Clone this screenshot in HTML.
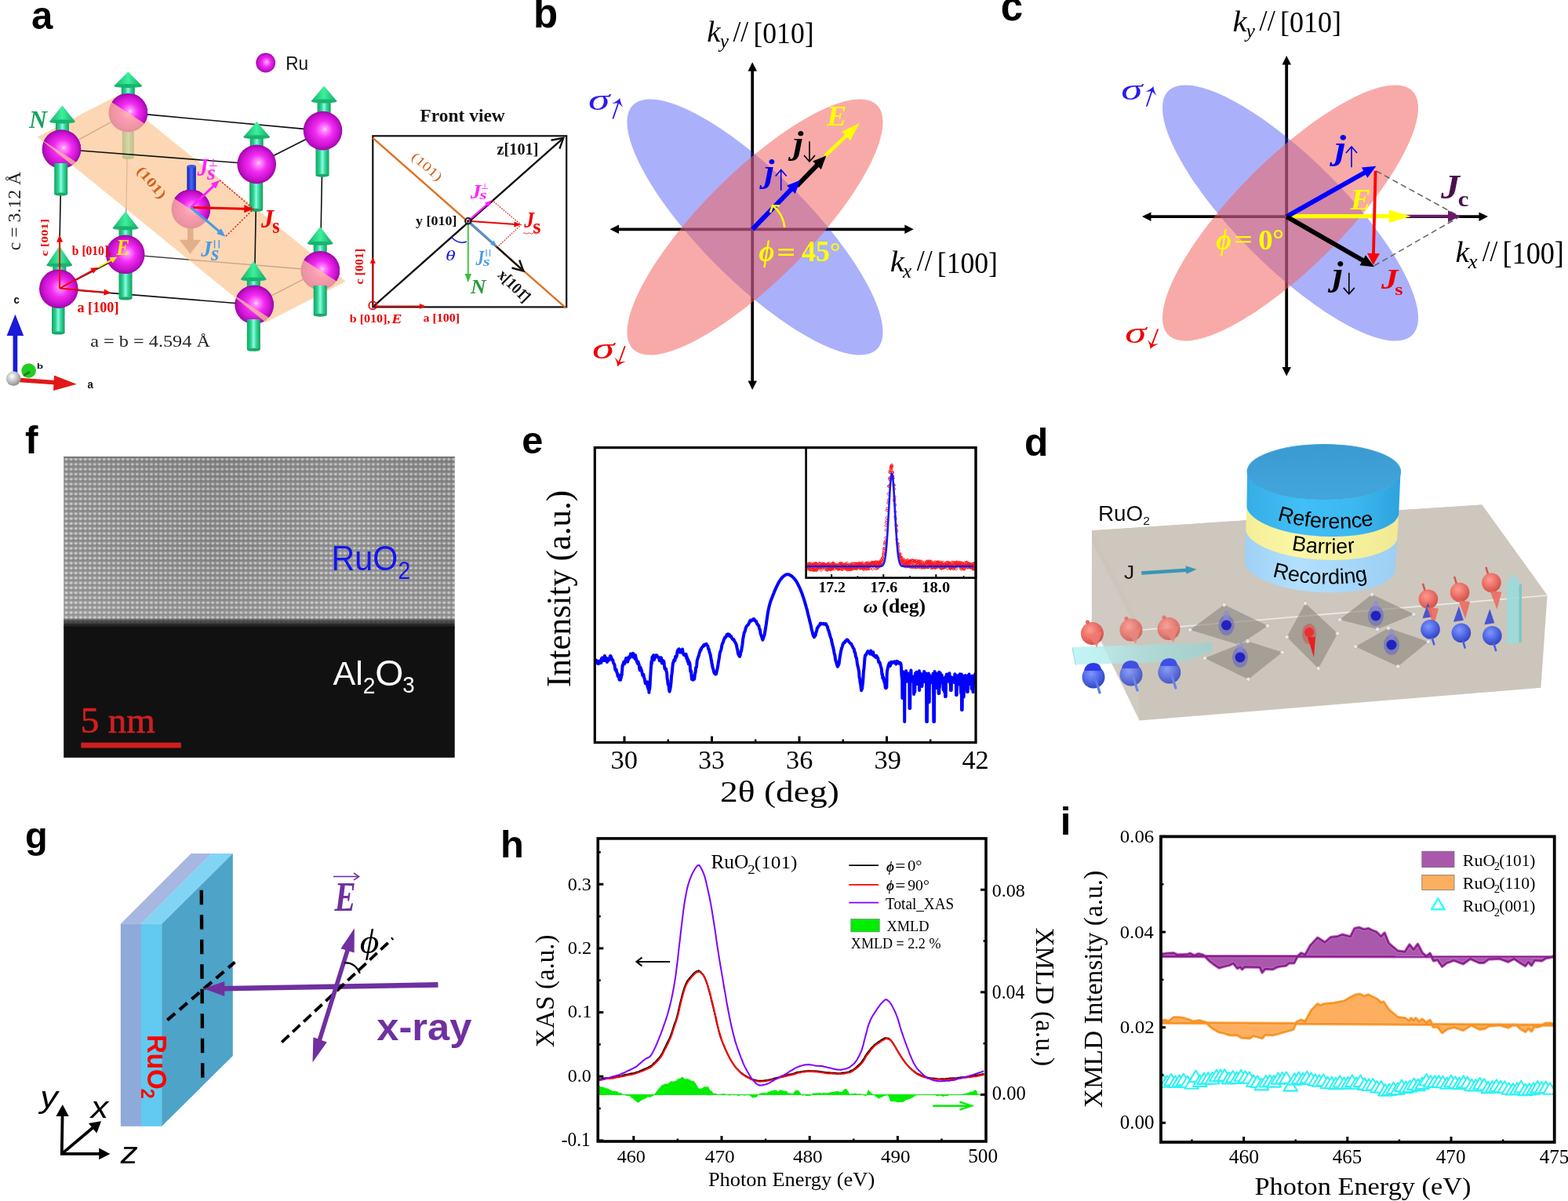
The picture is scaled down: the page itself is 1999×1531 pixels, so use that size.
<!DOCTYPE html>
<html><head><meta charset="utf-8"><title>RuO2 figure</title>
<style>html,body{margin:0;padding:0;background:#fff;overflow:hidden;} svg{display:block;}</style></head>
<body><svg xmlns="http://www.w3.org/2000/svg" width="1999" height="1531" viewBox="0 0 1999 1531">
<defs><clipPath id="eclip"><rect x="758.3" y="570.6" width="485.70000000000005" height="375.9"/></clipPath><clipPath id="iclip"><rect x="1480" y="1066.4" width="501.70000000000005" height="389.5999999999999"/></clipPath><radialGradient id="dotg"><stop offset="0" stop-color="#dedede" stop-opacity="1"/><stop offset="0.55" stop-color="#c4c4c4" stop-opacity="0.8"/><stop offset="1" stop-color="#a0a0a0" stop-opacity="0"/></radialGradient><pattern id="lat" x="81.6" y="582.6" width="6.02" height="6.3" patternUnits="userSpaceOnUse"><rect width="6.02" height="6.3" fill="#8a8a8a"/><rect x="0" y="4.6" width="6.02" height="1.2" fill="#7a7a7a"/><ellipse cx="3" cy="3" rx="3.0" ry="2.6" fill="url(#dotg)"/></pattern><linearGradient id="fshade" x1="0" y1="0" x2="0" y2="1"><stop offset="0" stop-color="#000" stop-opacity="0.05"/><stop offset="0.55" stop-color="#fff" stop-opacity="0.0"/><stop offset="1" stop-color="#fff" stop-opacity="0.10"/></linearGradient><linearGradient id="fedge" x1="0" y1="0" x2="0" y2="1"><stop offset="0" stop-color="#111" stop-opacity="0"/><stop offset="0.35" stop-color="#111" stop-opacity="0.6"/><stop offset="0.6" stop-color="#111" stop-opacity="0.88"/><stop offset="1" stop-color="#111" stop-opacity="1"/></linearGradient><linearGradient id="fhz" x1="0" y1="0" x2="1" y2="0"><stop offset="0" stop-color="#fff" stop-opacity="0.04"/><stop offset="0.4" stop-color="#000" stop-opacity="0.04"/><stop offset="0.75" stop-color="#fff" stop-opacity="0.05"/><stop offset="1" stop-color="#000" stop-opacity="0.03"/></linearGradient><radialGradient id="redball" cx="0.4" cy="0.35" r="0.7"><stop offset="0" stop-color="#ff9a90"/><stop offset="0.6" stop-color="#e86a62"/><stop offset="1" stop-color="#c85048"/></radialGradient><radialGradient id="blueball" cx="0.4" cy="0.35" r="0.7"><stop offset="0" stop-color="#7f96ff"/><stop offset="0.6" stop-color="#4b62e0"/><stop offset="1" stop-color="#3040b8"/></radialGradient><linearGradient id="refside" x1="0" y1="0" x2="1" y2="0"><stop offset="0" stop-color="#36ade6"/><stop offset="0.35" stop-color="#40c0f6"/><stop offset="0.7" stop-color="#3cb8f0"/><stop offset="1" stop-color="#2ea2dc"/></linearGradient><linearGradient id="barside" x1="0" y1="0" x2="1" y2="0"><stop offset="0" stop-color="#f4ee98"/><stop offset="0.35" stop-color="#fcf7a4"/><stop offset="1" stop-color="#f0ea96"/></linearGradient><linearGradient id="recside" x1="0" y1="0" x2="1" y2="0"><stop offset="0" stop-color="#9fd0f6"/><stop offset="0.35" stop-color="#b2e0fd"/><stop offset="1" stop-color="#9ccff4"/></linearGradient><linearGradient id="toptop" x1="0" y1="0" x2="0" y2="1"><stop offset="0" stop-color="#3a9ad2"/><stop offset="1" stop-color="#42a6dc"/></linearGradient><linearGradient id="cyanbar" x1="0" y1="0" x2="1" y2="0"><stop offset="0" stop-color="#c0f4f6" stop-opacity="0.95"/><stop offset="0.45" stop-color="#a8e4e4" stop-opacity="0.7"/><stop offset="1" stop-color="#90d4d2" stop-opacity="0.65"/></linearGradient><path id="refpath" d="M1620,660 A100,34 3 0 0 1760,667"/><path id="barpath" d="M1638,699 A100,34 3 0 0 1736,703"/><path id="recpath" d="M1616,733 A100,34 3 0 0 1750,738"/><radialGradient id="ruS" cx="0.5" cy="0.5" r="0.5" fx="0.56" fy="0.46"><stop offset="0" stop-color="#ffe4ff"/><stop offset="0.12" stop-color="#ff8cff"/><stop offset="0.45" stop-color="#f22cf2"/><stop offset="0.8" stop-color="#cc12d0"/><stop offset="1" stop-color="#9c08a8"/></radialGradient><radialGradient id="ruSp" cx="0.5" cy="0.5" r="0.5" fx="0.56" fy="0.46"><stop offset="0" stop-color="#ffe0e0"/><stop offset="0.3" stop-color="#f6b4b4"/><stop offset="1" stop-color="#e49494"/></radialGradient><linearGradient id="gstem" x1="0" y1="0" x2="1" y2="0"><stop offset="0" stop-color="#12a464"/><stop offset="0.3" stop-color="#2fd48e"/><stop offset="0.5" stop-color="#8cfbe8"/><stop offset="0.7" stop-color="#36d896"/><stop offset="1" stop-color="#129c60"/></linearGradient><linearGradient id="gcone" x1="0" y1="0" x2="1" y2="0"><stop offset="0" stop-color="#16b06a"/><stop offset="0.5" stop-color="#3cf09c"/><stop offset="1" stop-color="#16a866"/></linearGradient><linearGradient id="bstem" x1="0" y1="0" x2="1" y2="0"><stop offset="0" stop-color="#1020a8"/><stop offset="0.5" stop-color="#4a66ff"/><stop offset="1" stop-color="#1020a0"/></linearGradient><clipPath id="cfTFL"><polygon points="26.2,160.4 126.8,225.7 170.4,158.6 69.7,93.3"/></clipPath><clipPath id="cfTBL"><polygon points="113.0,111.0 213.6,176.4 257.2,109.3 156.6,43.9"/></clipPath><clipPath id="cfC"><polygon points="193.0,233.8 293.6,299.2 337.2,232.1 236.6,166.7"/></clipPath><clipPath id="cfBFR"><polygon points="271.9,358.7 372.5,424.0 416.1,356.9 315.4,291.6"/></clipPath><clipPath id="cfBBR"><polygon points="357.9,312.1 458.5,377.5 502.1,310.4 401.5,245.0"/></clipPath><radialGradient id="greyb" cx="0.4" cy="0.35" r="0.6"><stop offset="0" stop-color="#fff"/><stop offset="1" stop-color="#999"/></radialGradient></defs>
<rect width="1999" height="1531" fill="#fff"/>
<text x="40.03" y="36.51" font-family="'Liberation Sans'" font-size="49.09" font-weight="bold" font-style="normal" fill="#000" >a</text>
<text x="680.03" y="35.09" font-family="'Liberation Sans'" font-size="51.00" font-weight="bold" font-style="normal" fill="#000" >b</text>
<text x="1275.76" y="25.89" font-family="'Liberation Sans'" font-size="51.00" font-weight="bold" font-style="normal" fill="#000" >c</text>
<text x="32.11" y="577.90" font-family="'Liberation Sans'" font-size="49.45" font-weight="bold" font-style="normal" fill="#000" >f</text>
<text x="665.35" y="578.41" font-family="'Liberation Sans'" font-size="48.73" font-weight="bold" font-style="normal" fill="#000" >e</text>
<text x="1305.91" y="581.20" font-family="'Liberation Sans'" font-size="49.73" font-weight="bold" font-style="normal" fill="#000" >d</text>
<text x="32.12" y="1080.74" font-family="'Liberation Sans'" font-size="46.97" font-weight="bold" font-style="normal" fill="#000" >g</text>
<text x="637.88" y="1092.90" font-family="'Liberation Sans'" font-size="48.90" font-weight="bold" font-style="normal" fill="#000" >h</text>
<text x="1351.66" y="1064.00" font-family="'Liberation Sans'" font-size="49.18" font-weight="bold" font-style="normal" fill="#000" >i</text>
<line x1="959.2" y1="89.2" x2="959.2" y2="487" stroke="#000" stroke-width="3.8"/><line x1="787.5" y1="292.3" x2="1154.8" y2="292.3" stroke="#000" stroke-width="3.8"/><polygon points="959.2,79.2 965.0,90.7 953.5,90.7" fill="#000"/><polygon points="959.2,497.0 953.5,485.5 965.0,485.5" fill="#000"/><polygon points="777.5,292.3 789.0,286.6 789.0,298.1" fill="#000"/><polygon points="1164.8,292.3 1153.3,298.1 1153.3,286.6" fill="#000"/>
<ellipse cx="962.5" cy="289.5" rx="220" ry="69" transform="rotate(45 962.5 289.5)" fill="rgb(37,52,242)" fill-opacity="0.39"/><ellipse cx="962.5" cy="289.5" rx="220" ry="69" transform="rotate(-45 962.5 289.5)" fill="rgb(242,98,94)" fill-opacity="0.54"/>
<text transform="translate(901.23,53.20) scale(1.0531,1)" font-family="'Liberation Serif'" font-size="37.10" font-weight="normal" font-style="italic" fill="#000" >k</text><text x="917.65" y="61.49" font-family="'Liberation Serif'" font-size="25.29" font-weight="normal" font-style="italic" fill="#000" >y</text><text transform="translate(934.40,52.82) scale(0.9183,1)" font-family="'Liberation Serif'" font-size="38.81" font-weight="normal" font-style="normal" fill="#000" >//</text><text transform="translate(960.40,54.78) scale(0.9605,1)" font-family="'Liberation Serif'" font-size="37.11" font-weight="normal" font-style="normal" fill="#000" >[010]</text>
<text transform="translate(1134.77,345.70) scale(1.0989,1)" font-family="'Liberation Serif'" font-size="37.25" font-weight="normal" font-style="italic" fill="#000" >k</text><text x="1151.05" y="354.00" font-family="'Liberation Serif'" font-size="25.00" font-weight="normal" font-style="italic" fill="#000" >x</text><text transform="translate(1168.80,344.93) scale(0.9338,1)" font-family="'Liberation Serif'" font-size="38.36" font-weight="normal" font-style="normal" fill="#000" >//</text><text transform="translate(1194.80,347.53) scale(0.9333,1)" font-family="'Liberation Serif'" font-size="38.19" font-weight="normal" font-style="normal" fill="#000" >[100]</text>
<text transform="translate(749.93,140.43) scale(1.4859,1)" font-family="'Liberation Serif'" font-size="37.36" font-weight="normal" font-style="italic" fill="#2a1aee" >&#963;</text>
<line x1="781.6" y1="150.8" x2="788.3" y2="131.2" stroke="#2a1aee" stroke-width="1.8" stroke-linecap="round"/><path d="M790.4,125.0 Q790.5,130.3 794.3,136.9 L788.3,131.2 L780.1,132.0 Q787.1,129.2 790.4,125.0Z" fill="#2a1aee"/>
<text transform="translate(754.89,457.21) scale(1.4702,1)" font-family="'Liberation Serif'" font-size="38.87" font-weight="normal" font-style="italic" fill="#ee0000" >&#963;</text>
<line x1="796.6" y1="441.8" x2="789.4" y2="461.5" stroke="#ee0000" stroke-width="1.8" stroke-linecap="round"/><path d="M787.2,467.6 Q787.2,462.3 783.6,455.6 L789.4,461.5 L797.7,460.8 Q790.6,463.5 787.2,467.6Z" fill="#ee0000"/>
<line x1="1052.0" y1="198.5" x2="1081.9" y2="170.2" stroke="#ffff00" stroke-width="4.5" /><polygon points="1095.9,157.0 1084.0,179.3 1073.0,167.7" fill="#ffff00"/>
<line x1="1016.0" y1="237.0" x2="1043.8" y2="208.4" stroke="#000" stroke-width="6" /><polygon points="1053.3,198.6 1046.8,216.0 1036.1,205.6" fill="#000"/>
<line x1="959.2" y1="292.3" x2="1010.8" y2="239.2" stroke="#0000ff" stroke-width="6" /><polygon points="1020.3,229.5 1013.8,246.9 1003.1,236.5" fill="#0000ff"/>
<text transform="translate(1053.98,160.20) scale(1.0493,1)" font-family="'Liberation Serif'" font-size="36.15" font-weight="bold" font-style="italic" fill="#ffff00" >E</text>
<text transform="translate(1010.91,195.61) scale(1.1292,1)" font-family="'Liberation Serif'" font-size="42.33" font-weight="bold" font-style="italic" fill="#000" >j</text>
<line x1="1032.0" y1="180.2" x2="1032.0" y2="206.0" stroke="#000" stroke-width="1.6"/><polyline points="1025.0,198.0 1032.0,206.0 1039.0,198.0" fill="none" stroke="#000" stroke-width="1.6" stroke-linejoin="miter"/>
<text transform="translate(974.29,232.43) scale(1.1091,1)" font-family="'Liberation Serif'" font-size="42.22" font-weight="bold" font-style="italic" fill="#0000ee" >j</text>
<line x1="995.7" y1="242.8" x2="995.7" y2="216.5" stroke="#0000ee" stroke-width="1.6"/><polyline points="1002.7,224.5 995.7,216.5 988.7,224.5" fill="none" stroke="#0000ee" stroke-width="1.6" stroke-linejoin="miter"/>
<text transform="translate(967.46,333.49) scale(0.9145,1)" font-family="'Liberation Serif'" font-size="37.67" font-weight="bold" font-style="italic" fill="#ffff00" >&#981;</text>
<text transform="translate(990.29,333.17) scale(1.2638,1)" font-family="'Liberation Serif'" font-size="33.33" font-weight="bold" font-style="normal" fill="#ffff00" >=</text>
<text transform="translate(1022.04,333.23) scale(0.9659,1)" font-family="'Liberation Serif'" font-size="37.27" font-weight="bold" font-style="normal" fill="#ffff00" >45</text>
<text x="1057.90" y="331.69" font-family="'Liberation Serif'" font-size="33.87" font-weight="bold" font-style="normal" fill="#ffff00" >&#176;</text>
<path d="M 1000.5 290 Q 998 272 985 262" fill="none" stroke="#ffff00" stroke-width="2.6"/>
<polyline points="982,271 985,262 994,262.5" fill="none" stroke="#ffff00" stroke-width="2.6"/>
<line x1="1640.2" y1="81" x2="1640.2" y2="469.6" stroke="#000" stroke-width="3.8"/><line x1="1466" y1="276.1" x2="1887" y2="276.1" stroke="#000" stroke-width="3.8"/><polygon points="1640.2,71.0 1646.0,82.5 1634.5,82.5" fill="#000"/><polygon points="1640.2,479.6 1634.5,468.1 1646.0,468.1" fill="#000"/><polygon points="1456.0,276.1 1467.5,270.4 1467.5,281.9" fill="#000"/><polygon points="1897.0,276.1 1885.5,281.9 1885.5,270.4" fill="#000"/>
<ellipse cx="1645" cy="271.5" rx="220" ry="69" transform="rotate(45 1645 271.5)" fill="rgb(37,52,242)" fill-opacity="0.39"/><ellipse cx="1645" cy="271.5" rx="220" ry="69" transform="rotate(-45 1645 271.5)" fill="rgb(242,98,94)" fill-opacity="0.54"/>
<text transform="translate(1571.57,39.60) scale(1.1032,1)" font-family="'Liberation Serif'" font-size="37.10" font-weight="normal" font-style="italic" fill="#000" >k</text><text transform="translate(1588.45,48.01) scale(1.0386,1)" font-family="'Liberation Serif'" font-size="24.71" font-weight="normal" font-style="italic" fill="#000" >y</text><text transform="translate(1605.60,38.84) scale(0.9517,1)" font-family="'Liberation Serif'" font-size="38.21" font-weight="normal" font-style="normal" fill="#000" >//</text><text transform="translate(1631.98,41.39) scale(0.9348,1)" font-family="'Liberation Serif'" font-size="38.55" font-weight="normal" font-style="normal" fill="#000" >[010]</text>
<text transform="translate(1855.51,333.80) scale(1.0594,1)" font-family="'Liberation Serif'" font-size="37.54" font-weight="normal" font-style="italic" fill="#000" >k</text><text transform="translate(1871.67,342.10) scale(1.0667,1)" font-family="'Liberation Serif'" font-size="25.00" font-weight="normal" font-style="italic" fill="#000" >x</text><text transform="translate(1889.70,333.03) scale(0.9172,1)" font-family="'Liberation Serif'" font-size="38.66" font-weight="normal" font-style="normal" fill="#000" >//</text><text transform="translate(1915.46,335.79) scale(0.9226,1)" font-family="'Liberation Serif'" font-size="39.28" font-weight="normal" font-style="normal" fill="#000" >[100]</text>
<text transform="translate(1429.35,126.62) scale(1.4602,1)" font-family="'Liberation Serif'" font-size="37.74" font-weight="normal" font-style="italic" fill="#2a1aee" >&#963;</text>
<line x1="1462.0" y1="135.0" x2="1468.4" y2="116.2" stroke="#2a1aee" stroke-width="1.8" stroke-linecap="round"/><path d="M1470.5,110.0 Q1470.6,115.3 1474.4,121.9 L1468.4,116.2 L1460.2,117.1 Q1467.2,114.2 1470.5,110.0Z" fill="#2a1aee"/>
<text transform="translate(1434.35,437.11) scale(1.4246,1)" font-family="'Liberation Serif'" font-size="38.68" font-weight="normal" font-style="italic" fill="#ee0000" >&#963;</text>
<line x1="1476.0" y1="420.0" x2="1468.8" y2="438.9" stroke="#ee0000" stroke-width="1.8" stroke-linecap="round"/><path d="M1466.5,445.0 Q1466.6,439.7 1463.0,433.0 L1468.8,438.9 L1477.1,438.3 Q1470.0,441.0 1466.5,445.0Z" fill="#ee0000"/>
<line x1="1754.4" y1="217.9" x2="1860.3" y2="275.7" stroke="#666" stroke-width="1.6" stroke-dasharray="7.5,4.5"/>
<line x1="1752" y1="338.8" x2="1860.3" y2="276.5" stroke="#666" stroke-width="1.6" stroke-dasharray="7.5,4.5"/>
<line x1="1790.0" y1="275.7" x2="1849.0" y2="275.7" stroke="#6a1a6a" stroke-width="3.8" /><polygon points="1861.0,275.7 1846.0,283.2 1846.0,268.2" fill="#6a1a6a"/>
<line x1="1640.2" y1="275.7" x2="1776.3" y2="275.7" stroke="#ffff00" stroke-width="5.3" /><polygon points="1798.7,275.7 1770.7,283.9 1770.7,267.4" fill="#ffff00"/>
<line x1="1640.2" y1="276.1" x2="1742.5" y2="218.5" stroke="#0000ff" stroke-width="6" /><polygon points="1754.4,211.8 1743.3,226.7 1735.9,213.6" fill="#0000ff"/>
<line x1="1640.2" y1="276.1" x2="1740.2" y2="333.5" stroke="#000" stroke-width="6" /><polygon points="1752.0,340.3 1733.5,338.3 1741.0,325.3" fill="#000"/>
<line x1="1753.6" y1="217.9" x2="1750.9" y2="326.0" stroke="#ff0000" stroke-width="3.8" /><polygon points="1750.6,338.0 1743.0,322.8 1759.0,323.2" fill="#ff0000"/>
<text transform="translate(1701.66,203.48) scale(1.1790,1)" font-family="'Liberation Serif'" font-size="43.44" font-weight="bold" font-style="italic" fill="#0000ee" >j</text>
<line x1="1723.0" y1="213.3" x2="1723.0" y2="187.0" stroke="#0000ee" stroke-width="1.6"/><polyline points="1730.0,195.0 1723.0,187.0 1716.0,195.0" fill="none" stroke="#0000ee" stroke-width="1.6" stroke-linejoin="miter"/>
<text transform="translate(1698.98,364.28) scale(1.0948,1)" font-family="'Liberation Serif'" font-size="43.44" font-weight="bold" font-style="italic" fill="#000" >j</text>
<line x1="1719.8" y1="347.8" x2="1719.8" y2="374.9" stroke="#000" stroke-width="1.6"/><polyline points="1712.8,366.9 1719.8,374.9 1726.8,366.9" fill="none" stroke="#000" stroke-width="1.6" stroke-linejoin="miter"/>
<text transform="translate(1721.69,267.40) scale(1.0618,1)" font-family="'Liberation Serif'" font-size="36.92" font-weight="bold" font-style="italic" fill="#ffff00" >E</text>
<text transform="translate(1837.00,252.77) scale(1.1147,1)" font-family="'Liberation Serif'" font-size="43.33" font-weight="bold" font-style="italic" fill="#4a1050" >J</text>
<text transform="translate(1858.68,263.42) scale(1.0940,1)" font-family="'Liberation Serif'" font-size="28.12" font-weight="bold" font-style="normal" fill="#4a1050" >c</text>
<text transform="translate(1761.00,367.64) scale(1.1778,1)" font-family="'Liberation Serif'" font-size="36.36" font-weight="bold" font-style="italic" fill="#ee0000" >J</text>
<text transform="translate(1778.21,376.20) scale(1.2965,1)" font-family="'Liberation Serif'" font-size="20.42" font-weight="bold" font-style="normal" fill="#ee0000" >s</text>
<text transform="translate(1550.16,317.93) scale(0.9209,1)" font-family="'Liberation Serif'" font-size="37.00" font-weight="bold" font-style="italic" fill="#ffff00" >&#981;</text>
<text transform="translate(1573.09,316.30) scale(1.3382,1)" font-family="'Liberation Serif'" font-size="31.48" font-weight="bold" font-style="normal" fill="#ffff00" >=</text>
<text x="1604.33" y="317.76" font-family="'Liberation Serif'" font-size="36.76" font-weight="bold" font-style="normal" fill="#ffff00" >0</text>
<text transform="translate(1622.37,317.34) scale(1.0525,1)" font-family="'Liberation Serif'" font-size="34.84" font-weight="bold" font-style="normal" fill="#ffff00" >&#176;</text>
<polyline clip-path="url(#eclip)" points="759.0,842.5 759.3,841.5 759.8,845.3 760.3,841.8 760.9,845.3 761.5,844.6 762.1,842.9 762.8,846.2 763.4,843.0 764.0,845.5 764.6,842.6 765.2,842.0 765.8,843.3 766.4,845.0 767.0,839.1 767.6,838.7 768.2,840.5 768.8,841.9 769.4,839.0 769.9,837.7 770.5,841.9 770.9,836.0 771.4,842.1 771.9,838.8 772.4,838.4 772.9,838.8 773.4,840.5 774.0,844.1 774.6,839.7 775.2,842.1 775.8,841.9 776.5,839.5 777.1,840.1 777.8,836.4 778.4,836.1 779.1,837.2 779.8,841.0 780.5,840.4 781.2,841.2 782.0,844.9 782.7,846.2 783.5,847.4 784.2,853.0 784.9,854.5 785.6,853.4 786.3,857.2 787.0,858.3 787.6,862.1 788.3,862.5 788.9,860.8 789.5,866.6 790.1,861.6 790.6,864.2 791.1,866.7 791.6,862.2 792.0,863.6 792.3,858.9 792.6,861.1 792.8,859.3 793.0,855.5 793.2,855.0 793.5,848.7 793.8,849.2 794.2,846.9 794.7,845.7 795.2,843.9 795.7,845.9 796.3,846.1 796.9,842.5 797.5,843.4 798.1,838.9 798.7,842.9 799.4,842.0 800.1,843.7 800.8,841.9 801.5,837.5 802.3,837.4 803.1,838.6 803.9,833.6 804.6,836.1 805.3,833.7 806.0,833.2 806.6,832.8 807.2,837.7 807.8,833.6 808.4,834.7 809.0,836.2 809.5,840.0 810.1,835.3 810.6,838.6 811.2,840.1 811.8,843.5 812.4,844.3 812.9,845.9 813.5,843.4 814.1,845.9 814.7,847.2 815.2,852.3 815.8,854.4 816.4,850.4 817.0,852.1 817.6,854.0 818.2,855.5 818.8,858.8 819.3,861.0 819.9,860.3 820.5,860.0 821.1,864.1 821.6,865.0 822.1,867.5 822.7,871.1 823.2,870.3 823.7,870.0 824.2,871.6 824.7,872.8 825.2,869.3 825.6,875.9 826.0,875.9 826.3,877.6 826.6,878.5 826.8,877.3 827.1,878.9 827.3,878.2 827.4,882.8 827.6,879.4 827.9,879.1 828.1,878.9 828.4,876.2 828.6,873.9 828.9,867.6 829.2,862.3 829.5,858.1 829.8,852.7 830.1,849.8 830.4,843.5 830.8,846.2 831.2,842.4 831.5,837.7 831.8,837.3 832.2,837.3 832.5,837.1 833.0,835.3 833.5,840.2 834.0,841.2 834.7,837.6 835.5,837.7 836.4,835.2 837.5,835.6 838.6,837.7 839.7,837.7 840.9,842.2 841.9,838.4 842.9,838.3 843.8,845.5 844.6,843.5 845.2,841.9 845.8,845.6 846.4,843.2 846.9,847.8 847.5,852.3 848.0,853.0 848.5,853.5 849.0,852.5 849.5,855.6 850.1,857.4 850.6,865.1 851.1,867.2 851.6,872.5 852.1,872.7 852.6,874.5 853.1,880.1 853.6,881.6 854.1,879.6 854.6,877.0 855.1,873.7 855.6,869.2 856.1,861.4 856.6,858.9 857.1,853.5 857.7,847.5 858.2,844.4 858.8,843.6 859.3,841.2 859.9,842.1 860.5,842.0 861.1,836.8 861.6,838.6 862.2,837.5 862.8,836.1 863.4,831.0 864.0,829.1 864.5,828.4 865.1,827.6 865.6,827.3 866.2,829.9 866.8,831.6 867.4,831.2 868.0,828.9 868.6,830.3 869.3,831.7 870.0,827.5 870.8,832.1 871.6,834.7 872.4,834.8 873.1,835.6 873.9,834.8 874.6,833.9 875.2,839.1 875.7,837.0 876.2,841.1 876.7,843.3 877.1,840.4 877.5,841.5 877.8,846.4 878.2,846.2 878.7,843.8 879.1,845.1 879.6,847.2 880.1,854.7 880.6,856.8 881.1,855.2 881.6,862.5 882.1,866.1 882.7,865.8 883.2,865.1 883.7,866.8 884.2,863.5 884.7,861.3 885.2,865.8 885.7,861.1 886.2,857.5 886.6,857.3 887.1,851.0 887.7,851.2 888.2,848.5 888.7,842.2 889.3,840.2 889.9,838.2 890.4,836.8 891.0,835.4 891.6,832.6 892.2,831.0 892.9,828.6 893.5,829.0 894.2,826.3 894.9,825.3 895.6,824.5 896.4,824.3 897.1,822.3 897.9,822.9 898.6,821.5 899.3,821.4 900.0,821.6 900.6,820.8 901.3,822.6 901.9,823.1 902.5,824.0 903.1,827.4 903.7,827.4 904.2,829.8 904.7,832.1 905.2,833.3 905.6,834.5 906.0,836.8 906.4,838.9 906.7,841.5 907.1,842.0 907.4,845.1 907.7,846.3 908.1,848.1 908.5,850.9 908.9,851.7 909.4,853.5 909.9,855.6 910.4,857.6 910.9,857.8 911.4,859.2 911.9,859.4 912.5,859.4 913.0,859.2 913.5,857.0 914.1,854.8 914.7,851.6 915.2,849.2 915.8,844.9 916.4,841.5 917.0,837.9 917.7,832.9 918.3,830.7 919.0,829.1 919.7,826.4 920.4,822.3 921.2,820.0 921.9,818.7 922.7,815.8 923.4,814.5 924.1,812.6 924.8,812.7 925.4,811.9 926.0,811.4 926.5,809.0 927.1,809.9 927.6,809.5 928.1,808.2 928.7,810.0 929.3,810.4 930.0,809.0 930.8,811.3 931.6,810.8 932.5,812.0 933.5,814.3 934.4,815.2 935.4,815.0 936.3,817.1 937.1,818.7 937.9,819.8 938.6,821.3 939.2,823.9 939.8,827.5 940.3,828.5 940.8,832.4 941.4,834.3 941.9,834.9 942.5,836.4 943.1,836.8 943.8,835.0 944.4,831.3 945.1,829.9 945.8,825.3 946.5,821.3 947.2,814.7 947.9,810.8 948.8,806.4 949.6,805.2 950.5,801.5 951.5,798.8 952.5,797.4 953.6,796.7 954.7,794.9 955.7,792.1 956.8,790.7 957.8,791.7 958.8,790.3 959.7,790.3 960.7,789.0 961.6,789.3 962.4,791.4 963.3,791.7 964.1,791.9 965.0,795.1 965.8,795.7 966.6,797.4 967.4,797.5 968.1,801.8 968.9,802.7 969.6,807.6 970.3,809.5 971.0,811.7 971.7,814.0 972.4,815.7 973.1,813.7 973.8,811.6 974.6,809.4 975.3,805.2 976.1,800.4 976.9,795.3 977.6,790.0 978.3,785.1 979.0,780.6 979.7,777.1 980.3,774.3 980.9,772.0 981.4,770.0 981.9,768.3 982.4,766.7 982.9,765.2 983.5,763.7 984.2,762.0 984.9,760.1 985.7,758.0 986.7,755.7 987.6,753.3 988.7,750.9 989.7,748.6 990.8,746.3 991.9,744.1 992.9,742.2 994.0,740.5 995.0,739.0 996.1,737.6 997.1,736.4 998.2,735.2 999.2,734.3 1000.3,733.5 1001.4,732.9 1002.4,732.4 1003.5,732.2 1004.6,732.2 1005.7,732.4 1006.8,732.9 1007.9,733.5 1009.0,734.2 1010.0,735.1 1011.1,736.1 1012.1,737.2 1013.1,738.3 1014.1,739.5 1015.0,740.8 1015.9,742.3 1016.8,743.9 1017.6,745.5 1018.5,747.2 1019.3,749.0 1020.1,750.8 1020.9,752.7 1021.7,754.6 1022.5,756.7 1023.2,758.8 1023.9,760.9 1024.7,763.2 1025.4,765.4 1026.1,767.7 1026.7,769.9 1027.4,772.2 1028.0,774.5 1028.7,776.8 1029.3,779.2 1029.8,781.5 1030.4,783.9 1031.0,786.3 1031.6,788.6 1032.1,790.9 1032.7,793.1 1033.3,795.4 1033.9,797.9 1034.4,800.6 1035.0,803.3 1035.6,805.6 1036.2,808.3 1036.7,809.9 1037.3,811.3 1037.9,812.3 1038.5,811.0 1039.0,810.0 1039.6,810.2 1040.2,806.4 1040.7,805.8 1041.3,803.6 1041.9,800.2 1042.5,800.4 1043.1,799.3 1043.7,797.8 1044.4,797.3 1045.0,796.8 1045.7,794.7 1046.3,795.2 1047.0,794.8 1047.7,795.4 1048.3,795.2 1049.0,795.3 1049.7,794.8 1050.3,795.7 1050.9,795.4 1051.6,795.7 1052.2,795.1 1052.9,795.2 1053.5,796.3 1054.2,798.0 1054.9,798.8 1055.6,802.2 1056.3,803.5 1057.0,806.0 1057.7,808.4 1058.5,811.2 1059.2,813.5 1059.9,815.1 1060.7,819.8 1061.4,822.5 1062.1,825.0 1062.9,828.7 1063.6,832.9 1064.4,835.5 1065.1,840.9 1065.8,843.1 1066.5,845.5 1067.2,847.9 1067.9,849.9 1068.5,848.1 1069.1,847.8 1069.7,845.8 1070.2,841.5 1070.7,837.8 1071.3,834.4 1071.8,831.5 1072.4,828.7 1073.1,826.1 1073.8,824.4 1074.5,821.4 1075.3,820.1 1076.1,819.0 1076.9,819.1 1077.7,817.2 1078.6,817.2 1079.4,815.5 1080.3,815.6 1081.2,816.5 1082.2,818.1 1083.2,819.1 1084.2,820.3 1085.2,820.8 1086.2,823.0 1087.1,824.6 1088.0,826.4 1088.8,827.5 1089.5,831.3 1090.2,831.8 1090.8,836.0 1091.4,838.3 1091.9,838.6 1092.4,842.3 1092.9,845.9 1093.5,849.0 1094.0,850.5 1094.5,853.2 1095.1,856.1 1095.6,864.2 1096.1,864.6 1096.6,870.6 1097.1,871.8 1097.6,876.5 1098.1,880.3 1098.6,876.1 1099.1,878.0 1099.6,873.0 1100.0,870.3 1100.5,863.8 1100.9,855.5 1101.4,853.0 1102.0,845.4 1102.5,838.4 1103.2,835.0 1103.9,835.3 1104.7,833.5 1105.5,831.7 1106.4,830.2 1107.3,830.9 1108.2,830.7 1109.1,833.6 1110.1,829.5 1111.0,833.6 1112.0,834.4 1113.0,831.2 1114.1,836.1 1115.2,835.9 1116.3,837.9 1117.4,835.9 1118.4,837.7 1119.3,839.3 1120.2,844.1 1121.0,843.8 1121.6,844.8 1122.3,847.5 1122.8,849.3 1123.3,850.7 1123.9,853.5 1124.4,859.8 1124.9,859.2 1125.4,864.7 1126.0,863.1 1126.5,865.3 1127.1,868.8 1127.6,869.2 1128.2,872.0 1128.7,876.5 1129.2,877.2 1129.6,877.3 1130.0,876.1 1130.3,876.4 1130.4,874.4 1130.5,869.5 1130.6,867.1 1130.6,860.1 1130.7,860.1 1131.0,855.4 1131.3,854.1 1131.9,851.4 1132.7,847.9 1133.7,845.4 1134.9,848.9 1136.2,843.9 1137.5,845.1 1138.9,844.0 1140.2,843.4 1141.4,845.5 1142.4,846.6 1143.3,842.9 1144.2,845.2 1145.1,843.7 1145.9,845.6 1146.7,845.4 1147.4,844.9 1148.0,845.4 1148.5,846.2 1148.9,850.1 1149.5,861.4 1150.2,867.6 1150.4,890.0 1150.7,860.7 1150.9,856.1 1151.1,890.0 1151.4,858.6 1151.6,870.6 1152.3,858.0 1153.0,867.5 1153.2,920.0 1153.5,860.6 1153.7,860.4 1154.4,859.9 1155.1,855.2 1155.8,868.8 1156.5,861.9 1157.2,867.3 1157.9,858.5 1158.6,860.4 1159.3,868.8 1159.5,903.0 1159.8,863.7 1160.0,872.8 1160.2,903.0 1160.5,863.9 1160.7,861.6 1161.4,854.6 1162.1,868.5 1162.8,867.5 1163.5,868.6 1164.2,862.5 1164.9,868.9 1165.1,885.0 1165.4,862.6 1165.6,866.3 1166.3,882.0 1167.0,858.3 1167.7,864.6 1168.4,856.8 1169.1,864.5 1169.8,872.0 1170.5,863.8 1171.2,858.4 1171.9,855.3 1172.1,880.0 1172.4,861.9 1172.6,869.5 1173.3,868.4 1174.0,858.7 1174.7,869.6 1175.4,874.9 1176.1,865.4 1176.8,859.2 1177.5,869.3 1178.2,855.9 1178.9,861.8 1179.6,858.5 1180.3,866.6 1181.0,858.6 1181.2,920.0 1181.5,861.4 1181.7,867.9 1181.9,920.0 1182.2,860.9 1182.4,867.0 1183.1,869.9 1183.8,858.5 1184.0,895.0 1184.3,862.2 1184.5,865.7 1184.7,895.0 1185.0,860.6 1185.2,861.7 1185.9,870.4 1186.6,870.1 1187.3,869.3 1188.0,866.9 1188.7,869.9 1189.4,858.8 1190.1,884.5 1190.3,920.0 1190.6,862.3 1190.8,861.6 1191.0,920.0 1191.3,861.1 1191.5,856.1 1192.2,861.4 1192.9,858.0 1193.6,859.3 1194.3,868.5 1195.0,877.4 1195.7,861.9 1196.4,859.2 1196.6,884.0 1196.9,865.7 1197.1,856.8 1197.3,884.0 1197.6,865.2 1197.8,876.4 1198.5,857.4 1199.2,860.3 1199.9,870.0 1200.6,860.6 1201.3,865.8 1202.0,867.3 1202.7,879.3 1203.4,870.4 1204.1,882.1 1204.8,863.9 1205.0,888.0 1205.3,866.5 1205.5,862.6 1205.7,888.0 1206.0,863.4 1206.2,864.2 1206.9,859.6 1207.6,868.0 1208.3,868.5 1209.0,861.9 1209.7,862.4 1210.4,858.2 1211.1,868.3 1211.8,873.8 1212.0,880.0 1212.3,863.0 1212.5,871.8 1212.7,880.0 1213.0,867.1 1213.2,870.5 1213.9,864.7 1214.6,863.9 1215.3,863.5 1216.0,867.4 1216.7,870.0 1217.4,859.2 1218.1,861.8 1218.8,863.0 1219.0,886.0 1219.3,862.6 1219.5,861.2 1219.7,886.0 1220.0,862.4 1220.2,870.8 1220.9,862.4 1221.6,872.5 1222.3,861.1 1223.0,867.4 1223.7,859.2 1224.4,870.0 1225.1,883.6 1225.8,859.6 1226.0,905.0 1226.3,867.6 1226.5,866.6 1226.7,905.0 1227.0,864.1 1227.2,870.9 1227.9,861.8 1228.6,888.5 1229.3,867.3 1230.0,863.5 1230.7,861.1 1231.4,867.1 1232.1,873.7 1232.8,868.3 1233.0,882.0 1233.3,864.0 1233.5,861.2 1233.7,882.0 1234.0,865.5 1234.2,872.7 1234.9,866.5 1235.6,859.6 1236.3,868.7 1237.0,862.6 1237.7,872.7 1238.4,866.9 1238.6,878.0 1238.9,864.9 1239.1,871.4 1239.3,878.0 1239.6,864.6 1239.8,861.4 1240.5,882.2 1241.2,864.9 1241.9,864.7 1242.6,865.5 1243.3,858.9" fill="none" stroke="#0000ff" stroke-width="4" stroke-linejoin="round" stroke-linecap="round"/>
<rect x="1027.6" y="570.6" width="216.4000000000001" height="166.0" fill="#fff" stroke="none"/>
<g fill="none" stroke="#ff1a1a" stroke-width="0.9"><circle cx="1028.8" cy="722.8" r="1.5"/><circle cx="1028.9" cy="723.4" r="1.5"/><circle cx="1029.8" cy="718.5" r="1.5"/><circle cx="1029.1" cy="725.5" r="1.5"/><circle cx="1029.9" cy="720.1" r="1.5"/><circle cx="1030.8" cy="722.2" r="1.5"/><circle cx="1031.2" cy="722.2" r="1.5"/><circle cx="1030.9" cy="719.3" r="1.5"/><circle cx="1031.5" cy="725.8" r="1.5"/><circle cx="1031.3" cy="724.6" r="1.5"/><circle cx="1032.1" cy="718.5" r="1.5"/><circle cx="1032.2" cy="723.3" r="1.5"/><circle cx="1032.2" cy="718.2" r="1.5"/><circle cx="1032.8" cy="722.2" r="1.5"/><circle cx="1033.2" cy="725.8" r="1.5"/><circle cx="1033.2" cy="726.2" r="1.5"/><circle cx="1033.4" cy="725.1" r="1.5"/><circle cx="1033.4" cy="726.4" r="1.5"/><circle cx="1034.5" cy="718.8" r="1.5"/><circle cx="1033.6" cy="719.9" r="1.5"/><circle cx="1035.2" cy="721.9" r="1.5"/><circle cx="1034.8" cy="720.6" r="1.5"/><circle cx="1035.2" cy="721.4" r="1.5"/><circle cx="1035.0" cy="723.2" r="1.5"/><circle cx="1035.8" cy="726.1" r="1.5"/><circle cx="1035.9" cy="726.3" r="1.5"/><circle cx="1036.7" cy="726.8" r="1.5"/><circle cx="1036.5" cy="719.4" r="1.5"/><circle cx="1037.2" cy="726.6" r="1.5"/><circle cx="1037.3" cy="723.0" r="1.5"/><circle cx="1037.6" cy="719.8" r="1.5"/><circle cx="1037.7" cy="723.1" r="1.5"/><circle cx="1037.6" cy="718.5" r="1.5"/><circle cx="1038.3" cy="726.8" r="1.5"/><circle cx="1038.0" cy="725.1" r="1.5"/><circle cx="1038.3" cy="719.3" r="1.5"/><circle cx="1038.8" cy="724.8" r="1.5"/><circle cx="1039.4" cy="718.3" r="1.5"/><circle cx="1039.7" cy="718.3" r="1.5"/><circle cx="1039.8" cy="720.9" r="1.5"/><circle cx="1040.6" cy="726.7" r="1.5"/><circle cx="1040.1" cy="726.9" r="1.5"/><circle cx="1040.4" cy="718.6" r="1.5"/><circle cx="1040.8" cy="718.2" r="1.5"/><circle cx="1040.8" cy="721.6" r="1.5"/><circle cx="1041.3" cy="719.3" r="1.5"/><circle cx="1041.2" cy="725.7" r="1.5"/><circle cx="1041.5" cy="726.5" r="1.5"/><circle cx="1042.8" cy="721.3" r="1.5"/><circle cx="1042.3" cy="722.6" r="1.5"/><circle cx="1043.0" cy="723.3" r="1.5"/><circle cx="1042.9" cy="723.5" r="1.5"/><circle cx="1043.9" cy="722.5" r="1.5"/><circle cx="1043.3" cy="724.4" r="1.5"/><circle cx="1043.6" cy="720.6" r="1.5"/><circle cx="1044.5" cy="722.6" r="1.5"/><circle cx="1044.6" cy="718.0" r="1.5"/><circle cx="1044.4" cy="723.1" r="1.5"/><circle cx="1044.5" cy="723.4" r="1.5"/><circle cx="1045.2" cy="718.4" r="1.5"/><circle cx="1045.8" cy="722.1" r="1.5"/><circle cx="1045.8" cy="721.1" r="1.5"/><circle cx="1046.4" cy="724.5" r="1.5"/><circle cx="1045.6" cy="718.4" r="1.5"/><circle cx="1046.9" cy="726.6" r="1.5"/><circle cx="1046.4" cy="722.0" r="1.5"/><circle cx="1047.4" cy="720.8" r="1.5"/><circle cx="1047.1" cy="720.7" r="1.5"/><circle cx="1047.6" cy="723.2" r="1.5"/><circle cx="1047.6" cy="721.3" r="1.5"/><circle cx="1048.7" cy="718.1" r="1.5"/><circle cx="1048.4" cy="724.5" r="1.5"/><circle cx="1048.7" cy="719.9" r="1.5"/><circle cx="1049.3" cy="720.0" r="1.5"/><circle cx="1049.1" cy="721.8" r="1.5"/><circle cx="1049.7" cy="718.8" r="1.5"/><circle cx="1049.8" cy="720.9" r="1.5"/><circle cx="1050.4" cy="721.8" r="1.5"/><circle cx="1051.0" cy="719.4" r="1.5"/><circle cx="1050.4" cy="723.7" r="1.5"/><circle cx="1051.6" cy="721.9" r="1.5"/><circle cx="1050.8" cy="719.0" r="1.5"/><circle cx="1051.7" cy="719.6" r="1.5"/><circle cx="1052.0" cy="725.4" r="1.5"/><circle cx="1051.8" cy="720.4" r="1.5"/><circle cx="1052.6" cy="723.6" r="1.5"/><circle cx="1053.1" cy="721.0" r="1.5"/><circle cx="1052.3" cy="720.5" r="1.5"/><circle cx="1053.7" cy="720.3" r="1.5"/><circle cx="1053.1" cy="721.6" r="1.5"/><circle cx="1053.8" cy="721.5" r="1.5"/><circle cx="1054.4" cy="719.3" r="1.5"/><circle cx="1053.8" cy="726.3" r="1.5"/><circle cx="1054.9" cy="726.7" r="1.5"/><circle cx="1054.9" cy="726.4" r="1.5"/><circle cx="1055.5" cy="719.8" r="1.5"/><circle cx="1055.8" cy="725.4" r="1.5"/><circle cx="1055.7" cy="722.5" r="1.5"/><circle cx="1055.8" cy="720.9" r="1.5"/><circle cx="1055.7" cy="718.5" r="1.5"/><circle cx="1056.7" cy="720.4" r="1.5"/><circle cx="1057.0" cy="718.2" r="1.5"/><circle cx="1057.6" cy="724.1" r="1.5"/><circle cx="1057.7" cy="725.9" r="1.5"/><circle cx="1058.2" cy="723.0" r="1.5"/><circle cx="1057.1" cy="724.5" r="1.5"/><circle cx="1057.9" cy="720.5" r="1.5"/><circle cx="1058.4" cy="722.6" r="1.5"/><circle cx="1058.7" cy="726.3" r="1.5"/><circle cx="1058.9" cy="720.9" r="1.5"/><circle cx="1059.1" cy="725.6" r="1.5"/><circle cx="1059.3" cy="724.9" r="1.5"/><circle cx="1059.7" cy="719.6" r="1.5"/><circle cx="1059.9" cy="725.2" r="1.5"/><circle cx="1060.1" cy="724.9" r="1.5"/><circle cx="1061.0" cy="725.1" r="1.5"/><circle cx="1061.4" cy="717.9" r="1.5"/><circle cx="1061.2" cy="725.6" r="1.5"/><circle cx="1061.0" cy="720.2" r="1.5"/><circle cx="1061.3" cy="722.6" r="1.5"/><circle cx="1062.0" cy="722.1" r="1.5"/><circle cx="1062.4" cy="717.8" r="1.5"/><circle cx="1062.1" cy="718.9" r="1.5"/><circle cx="1062.2" cy="718.4" r="1.5"/><circle cx="1063.8" cy="725.5" r="1.5"/><circle cx="1062.7" cy="722.3" r="1.5"/><circle cx="1063.5" cy="720.6" r="1.5"/><circle cx="1063.6" cy="723.6" r="1.5"/><circle cx="1064.4" cy="721.0" r="1.5"/><circle cx="1063.9" cy="720.7" r="1.5"/><circle cx="1064.4" cy="722.8" r="1.5"/><circle cx="1065.1" cy="721.2" r="1.5"/><circle cx="1064.9" cy="719.4" r="1.5"/><circle cx="1065.2" cy="723.2" r="1.5"/><circle cx="1066.3" cy="721.2" r="1.5"/><circle cx="1066.3" cy="723.4" r="1.5"/><circle cx="1066.4" cy="721.1" r="1.5"/><circle cx="1066.5" cy="724.1" r="1.5"/><circle cx="1067.0" cy="724.0" r="1.5"/><circle cx="1067.0" cy="720.0" r="1.5"/><circle cx="1067.6" cy="724.0" r="1.5"/><circle cx="1067.1" cy="721.6" r="1.5"/><circle cx="1068.1" cy="725.7" r="1.5"/><circle cx="1068.7" cy="721.1" r="1.5"/><circle cx="1069.2" cy="724.9" r="1.5"/><circle cx="1068.4" cy="721.9" r="1.5"/><circle cx="1068.8" cy="725.1" r="1.5"/><circle cx="1069.4" cy="725.7" r="1.5"/><circle cx="1070.2" cy="723.7" r="1.5"/><circle cx="1070.1" cy="722.8" r="1.5"/><circle cx="1069.9" cy="723.0" r="1.5"/><circle cx="1069.8" cy="719.0" r="1.5"/><circle cx="1071.2" cy="718.1" r="1.5"/><circle cx="1070.4" cy="718.6" r="1.5"/><circle cx="1071.9" cy="719.3" r="1.5"/><circle cx="1070.9" cy="725.3" r="1.5"/><circle cx="1071.5" cy="725.3" r="1.5"/><circle cx="1072.2" cy="725.2" r="1.5"/><circle cx="1073.1" cy="722.9" r="1.5"/><circle cx="1072.9" cy="718.0" r="1.5"/><circle cx="1073.4" cy="722.3" r="1.5"/><circle cx="1073.4" cy="718.7" r="1.5"/><circle cx="1073.9" cy="726.1" r="1.5"/><circle cx="1073.1" cy="720.6" r="1.5"/><circle cx="1074.3" cy="725.1" r="1.5"/><circle cx="1073.9" cy="719.3" r="1.5"/><circle cx="1074.4" cy="723.2" r="1.5"/><circle cx="1075.1" cy="721.2" r="1.5"/><circle cx="1075.1" cy="721.2" r="1.5"/><circle cx="1075.1" cy="721.4" r="1.5"/><circle cx="1075.3" cy="722.2" r="1.5"/><circle cx="1076.4" cy="721.4" r="1.5"/><circle cx="1076.7" cy="719.1" r="1.5"/><circle cx="1076.6" cy="724.5" r="1.5"/><circle cx="1077.2" cy="722.3" r="1.5"/><circle cx="1076.9" cy="723.4" r="1.5"/><circle cx="1078.0" cy="719.0" r="1.5"/><circle cx="1077.0" cy="724.4" r="1.5"/><circle cx="1078.5" cy="722.3" r="1.5"/><circle cx="1078.0" cy="724.1" r="1.5"/><circle cx="1078.2" cy="720.0" r="1.5"/><circle cx="1078.2" cy="722.9" r="1.5"/><circle cx="1078.9" cy="719.7" r="1.5"/><circle cx="1079.4" cy="726.2" r="1.5"/><circle cx="1079.5" cy="723.9" r="1.5"/><circle cx="1079.6" cy="725.3" r="1.5"/><circle cx="1080.4" cy="720.0" r="1.5"/><circle cx="1079.9" cy="717.8" r="1.5"/><circle cx="1080.8" cy="721.0" r="1.5"/><circle cx="1080.4" cy="720.8" r="1.5"/><circle cx="1081.1" cy="724.5" r="1.5"/><circle cx="1080.9" cy="726.5" r="1.5"/><circle cx="1081.9" cy="723.0" r="1.5"/><circle cx="1081.9" cy="725.1" r="1.5"/><circle cx="1082.8" cy="722.6" r="1.5"/><circle cx="1082.4" cy="724.0" r="1.5"/><circle cx="1083.4" cy="721.1" r="1.5"/><circle cx="1083.3" cy="726.2" r="1.5"/><circle cx="1083.5" cy="719.6" r="1.5"/><circle cx="1083.2" cy="724.0" r="1.5"/><circle cx="1084.3" cy="726.2" r="1.5"/><circle cx="1084.5" cy="719.7" r="1.5"/><circle cx="1084.3" cy="719.8" r="1.5"/><circle cx="1084.3" cy="723.9" r="1.5"/><circle cx="1085.6" cy="725.6" r="1.5"/><circle cx="1084.9" cy="725.3" r="1.5"/><circle cx="1085.5" cy="721.3" r="1.5"/><circle cx="1086.0" cy="718.3" r="1.5"/><circle cx="1085.8" cy="725.0" r="1.5"/><circle cx="1086.1" cy="720.7" r="1.5"/><circle cx="1086.9" cy="723.5" r="1.5"/><circle cx="1086.3" cy="720.5" r="1.5"/><circle cx="1087.3" cy="721.8" r="1.5"/><circle cx="1087.1" cy="722.7" r="1.5"/><circle cx="1088.5" cy="721.0" r="1.5"/><circle cx="1088.0" cy="718.5" r="1.5"/><circle cx="1088.2" cy="723.4" r="1.5"/><circle cx="1088.0" cy="725.4" r="1.5"/><circle cx="1089.5" cy="718.3" r="1.5"/><circle cx="1089.6" cy="720.8" r="1.5"/><circle cx="1089.9" cy="724.2" r="1.5"/><circle cx="1089.4" cy="723.5" r="1.5"/><circle cx="1090.3" cy="724.6" r="1.5"/><circle cx="1089.9" cy="724.2" r="1.5"/><circle cx="1091.3" cy="723.4" r="1.5"/><circle cx="1090.7" cy="718.4" r="1.5"/><circle cx="1091.2" cy="720.5" r="1.5"/><circle cx="1091.5" cy="723.5" r="1.5"/><circle cx="1091.9" cy="719.0" r="1.5"/><circle cx="1092.0" cy="723.0" r="1.5"/><circle cx="1092.0" cy="725.3" r="1.5"/><circle cx="1092.5" cy="718.4" r="1.5"/><circle cx="1093.4" cy="718.6" r="1.5"/><circle cx="1092.7" cy="723.8" r="1.5"/><circle cx="1093.6" cy="722.3" r="1.5"/><circle cx="1093.6" cy="721.4" r="1.5"/><circle cx="1093.8" cy="718.9" r="1.5"/><circle cx="1093.5" cy="723.7" r="1.5"/><circle cx="1094.9" cy="722.2" r="1.5"/><circle cx="1094.8" cy="720.5" r="1.5"/><circle cx="1094.8" cy="720.7" r="1.5"/><circle cx="1095.5" cy="717.6" r="1.5"/><circle cx="1095.7" cy="719.5" r="1.5"/><circle cx="1096.0" cy="720.4" r="1.5"/><circle cx="1096.0" cy="720.9" r="1.5"/><circle cx="1096.2" cy="724.2" r="1.5"/><circle cx="1096.6" cy="724.8" r="1.5"/><circle cx="1096.3" cy="719.6" r="1.5"/><circle cx="1096.8" cy="718.2" r="1.5"/><circle cx="1097.6" cy="723.7" r="1.5"/><circle cx="1097.5" cy="718.9" r="1.5"/><circle cx="1097.7" cy="723.9" r="1.5"/><circle cx="1098.8" cy="723.9" r="1.5"/><circle cx="1098.5" cy="718.5" r="1.5"/><circle cx="1098.8" cy="718.9" r="1.5"/><circle cx="1099.0" cy="722.2" r="1.5"/><circle cx="1099.1" cy="719.4" r="1.5"/><circle cx="1099.8" cy="717.4" r="1.5"/><circle cx="1100.4" cy="725.1" r="1.5"/><circle cx="1100.6" cy="720.5" r="1.5"/><circle cx="1100.7" cy="722.3" r="1.5"/><circle cx="1100.8" cy="725.9" r="1.5"/><circle cx="1101.4" cy="719.7" r="1.5"/><circle cx="1101.6" cy="721.4" r="1.5"/><circle cx="1101.8" cy="723.6" r="1.5"/><circle cx="1101.1" cy="724.0" r="1.5"/><circle cx="1102.4" cy="721.4" r="1.5"/><circle cx="1102.3" cy="721.2" r="1.5"/><circle cx="1102.4" cy="721.8" r="1.5"/><circle cx="1102.2" cy="721.5" r="1.5"/><circle cx="1103.5" cy="721.0" r="1.5"/><circle cx="1103.4" cy="725.6" r="1.5"/><circle cx="1104.4" cy="718.2" r="1.5"/><circle cx="1104.3" cy="722.6" r="1.5"/><circle cx="1103.9" cy="720.2" r="1.5"/><circle cx="1104.1" cy="717.6" r="1.5"/><circle cx="1105.0" cy="725.3" r="1.5"/><circle cx="1104.8" cy="724.7" r="1.5"/><circle cx="1105.8" cy="718.1" r="1.5"/><circle cx="1106.0" cy="722.3" r="1.5"/><circle cx="1106.6" cy="723.3" r="1.5"/><circle cx="1106.4" cy="719.9" r="1.5"/><circle cx="1107.0" cy="725.2" r="1.5"/><circle cx="1107.1" cy="720.8" r="1.5"/><circle cx="1107.5" cy="721.2" r="1.5"/><circle cx="1106.7" cy="717.2" r="1.5"/><circle cx="1107.2" cy="718.6" r="1.5"/><circle cx="1107.3" cy="721.2" r="1.5"/><circle cx="1108.5" cy="721.6" r="1.5"/><circle cx="1108.2" cy="722.6" r="1.5"/><circle cx="1108.6" cy="720.9" r="1.5"/><circle cx="1109.2" cy="720.3" r="1.5"/><circle cx="1109.0" cy="724.8" r="1.5"/><circle cx="1109.7" cy="720.0" r="1.5"/><circle cx="1109.8" cy="721.4" r="1.5"/><circle cx="1110.1" cy="718.7" r="1.5"/><circle cx="1109.9" cy="718.5" r="1.5"/><circle cx="1110.8" cy="717.9" r="1.5"/><circle cx="1111.0" cy="718.4" r="1.5"/><circle cx="1110.7" cy="718.1" r="1.5"/><circle cx="1111.5" cy="718.1" r="1.5"/><circle cx="1111.0" cy="717.6" r="1.5"/><circle cx="1111.8" cy="720.9" r="1.5"/><circle cx="1111.6" cy="716.7" r="1.5"/><circle cx="1112.6" cy="720.2" r="1.5"/><circle cx="1112.9" cy="717.0" r="1.5"/><circle cx="1113.1" cy="720.0" r="1.5"/><circle cx="1112.7" cy="725.2" r="1.5"/><circle cx="1113.5" cy="717.3" r="1.5"/><circle cx="1113.8" cy="717.9" r="1.5"/><circle cx="1114.5" cy="719.5" r="1.5"/><circle cx="1113.9" cy="716.9" r="1.5"/><circle cx="1115.2" cy="718.8" r="1.5"/><circle cx="1115.2" cy="720.5" r="1.5"/><circle cx="1116.0" cy="719.0" r="1.5"/><circle cx="1115.1" cy="718.7" r="1.5"/><circle cx="1116.4" cy="721.9" r="1.5"/><circle cx="1115.8" cy="717.1" r="1.5"/><circle cx="1116.8" cy="725.0" r="1.5"/><circle cx="1116.7" cy="716.3" r="1.5"/><circle cx="1116.5" cy="717.0" r="1.5"/><circle cx="1116.7" cy="716.5" r="1.5"/><circle cx="1117.1" cy="722.0" r="1.5"/><circle cx="1118.1" cy="717.9" r="1.5"/><circle cx="1118.8" cy="720.4" r="1.5"/><circle cx="1118.6" cy="724.3" r="1.5"/><circle cx="1119.3" cy="716.3" r="1.5"/><circle cx="1118.5" cy="721.5" r="1.5"/><circle cx="1119.8" cy="716.7" r="1.5"/><circle cx="1119.1" cy="723.6" r="1.5"/><circle cx="1119.4" cy="719.3" r="1.5"/><circle cx="1119.7" cy="721.9" r="1.5"/><circle cx="1120.9" cy="717.2" r="1.5"/><circle cx="1120.7" cy="722.3" r="1.5"/><circle cx="1121.4" cy="720.4" r="1.5"/><circle cx="1121.5" cy="718.7" r="1.5"/><circle cx="1121.4" cy="717.2" r="1.5"/><circle cx="1121.8" cy="719.5" r="1.5"/><circle cx="1121.8" cy="716.3" r="1.5"/><circle cx="1122.3" cy="720.3" r="1.5"/><circle cx="1122.9" cy="717.8" r="1.5"/><circle cx="1122.6" cy="715.7" r="1.5"/><circle cx="1123.4" cy="713.9" r="1.5"/><circle cx="1123.1" cy="720.5" r="1.5"/><circle cx="1123.9" cy="713.7" r="1.5"/><circle cx="1123.4" cy="720.4" r="1.5"/><circle cx="1124.4" cy="719.6" r="1.5"/><circle cx="1125.0" cy="714.8" r="1.5"/><circle cx="1125.4" cy="716.3" r="1.5"/><circle cx="1125.1" cy="711.9" r="1.5"/><circle cx="1125.1" cy="710.7" r="1.5"/><circle cx="1126.5" cy="706.4" r="1.5"/><circle cx="1126.4" cy="704.6" r="1.5"/><circle cx="1126.2" cy="707.4" r="1.5"/><circle cx="1126.7" cy="699.6" r="1.5"/><circle cx="1127.0" cy="702.3" r="1.5"/><circle cx="1127.9" cy="693.7" r="1.5"/><circle cx="1127.8" cy="699.0" r="1.5"/><circle cx="1128.1" cy="691.8" r="1.5"/><circle cx="1128.7" cy="689.9" r="1.5"/><circle cx="1129.3" cy="685.7" r="1.5"/><circle cx="1129.5" cy="675.8" r="1.5"/><circle cx="1129.5" cy="670.1" r="1.5"/><circle cx="1130.6" cy="663.6" r="1.5"/><circle cx="1130.0" cy="666.0" r="1.5"/><circle cx="1130.5" cy="660.0" r="1.5"/><circle cx="1130.8" cy="650.6" r="1.5"/><circle cx="1131.3" cy="648.3" r="1.5"/><circle cx="1132.1" cy="641.0" r="1.5"/><circle cx="1132.6" cy="637.5" r="1.5"/><circle cx="1132.5" cy="629.6" r="1.5"/><circle cx="1132.9" cy="619.9" r="1.5"/><circle cx="1133.8" cy="619.2" r="1.5"/><circle cx="1134.1" cy="611.1" r="1.5"/><circle cx="1134.1" cy="609.1" r="1.5"/><circle cx="1134.7" cy="601.9" r="1.5"/><circle cx="1134.6" cy="602.3" r="1.5"/><circle cx="1134.6" cy="600.3" r="1.5"/><circle cx="1135.7" cy="597.1" r="1.5"/><circle cx="1136.0" cy="597.4" r="1.5"/><circle cx="1135.8" cy="594.4" r="1.5"/><circle cx="1137.1" cy="594.3" r="1.5"/><circle cx="1136.8" cy="592.8" r="1.5"/><circle cx="1136.9" cy="595.0" r="1.5"/><circle cx="1138.1" cy="602.2" r="1.5"/><circle cx="1138.3" cy="607.2" r="1.5"/><circle cx="1138.4" cy="610.1" r="1.5"/><circle cx="1138.6" cy="609.3" r="1.5"/><circle cx="1139.5" cy="618.0" r="1.5"/><circle cx="1139.8" cy="618.9" r="1.5"/><circle cx="1140.0" cy="623.3" r="1.5"/><circle cx="1140.6" cy="633.2" r="1.5"/><circle cx="1140.1" cy="638.2" r="1.5"/><circle cx="1140.3" cy="636.3" r="1.5"/><circle cx="1141.3" cy="643.7" r="1.5"/><circle cx="1141.4" cy="652.4" r="1.5"/><circle cx="1141.2" cy="658.8" r="1.5"/><circle cx="1141.8" cy="661.4" r="1.5"/><circle cx="1142.3" cy="669.4" r="1.5"/><circle cx="1143.1" cy="670.2" r="1.5"/><circle cx="1142.7" cy="675.0" r="1.5"/><circle cx="1143.4" cy="677.5" r="1.5"/><circle cx="1143.4" cy="687.7" r="1.5"/><circle cx="1144.4" cy="693.5" r="1.5"/><circle cx="1145.1" cy="696.1" r="1.5"/><circle cx="1144.7" cy="692.9" r="1.5"/><circle cx="1145.0" cy="698.5" r="1.5"/><circle cx="1145.6" cy="701.8" r="1.5"/><circle cx="1145.8" cy="706.9" r="1.5"/><circle cx="1146.0" cy="705.5" r="1.5"/><circle cx="1147.1" cy="710.4" r="1.5"/><circle cx="1146.8" cy="706.9" r="1.5"/><circle cx="1147.7" cy="706.2" r="1.5"/><circle cx="1147.3" cy="712.0" r="1.5"/><circle cx="1148.1" cy="709.8" r="1.5"/><circle cx="1147.5" cy="710.1" r="1.5"/><circle cx="1148.9" cy="713.8" r="1.5"/><circle cx="1149.2" cy="716.7" r="1.5"/><circle cx="1149.7" cy="710.9" r="1.5"/><circle cx="1148.8" cy="710.7" r="1.5"/><circle cx="1149.6" cy="714.4" r="1.5"/><circle cx="1149.2" cy="716.3" r="1.5"/><circle cx="1149.8" cy="714.7" r="1.5"/><circle cx="1149.9" cy="719.1" r="1.5"/><circle cx="1150.7" cy="714.7" r="1.5"/><circle cx="1150.3" cy="716.2" r="1.5"/><circle cx="1151.5" cy="718.7" r="1.5"/><circle cx="1151.8" cy="719.9" r="1.5"/><circle cx="1151.6" cy="714.1" r="1.5"/><circle cx="1152.2" cy="720.0" r="1.5"/><circle cx="1152.5" cy="720.5" r="1.5"/><circle cx="1152.5" cy="715.6" r="1.5"/><circle cx="1152.6" cy="713.3" r="1.5"/><circle cx="1153.2" cy="721.3" r="1.5"/><circle cx="1154.0" cy="717.5" r="1.5"/><circle cx="1153.7" cy="721.6" r="1.5"/><circle cx="1154.5" cy="718.8" r="1.5"/><circle cx="1154.0" cy="718.0" r="1.5"/><circle cx="1154.3" cy="715.1" r="1.5"/><circle cx="1154.9" cy="722.4" r="1.5"/><circle cx="1155.3" cy="717.2" r="1.5"/><circle cx="1155.0" cy="717.6" r="1.5"/><circle cx="1156.1" cy="717.6" r="1.5"/><circle cx="1156.3" cy="714.9" r="1.5"/><circle cx="1156.1" cy="718.3" r="1.5"/><circle cx="1156.2" cy="721.3" r="1.5"/><circle cx="1157.2" cy="722.0" r="1.5"/><circle cx="1157.0" cy="713.9" r="1.5"/><circle cx="1157.5" cy="718.6" r="1.5"/><circle cx="1157.4" cy="716.2" r="1.5"/><circle cx="1158.2" cy="721.9" r="1.5"/><circle cx="1157.5" cy="719.7" r="1.5"/><circle cx="1158.3" cy="718.4" r="1.5"/><circle cx="1159.0" cy="722.4" r="1.5"/><circle cx="1159.2" cy="715.6" r="1.5"/><circle cx="1159.6" cy="715.4" r="1.5"/><circle cx="1159.5" cy="721.3" r="1.5"/><circle cx="1159.4" cy="716.3" r="1.5"/><circle cx="1160.7" cy="722.4" r="1.5"/><circle cx="1159.9" cy="717.4" r="1.5"/><circle cx="1160.4" cy="715.1" r="1.5"/><circle cx="1160.4" cy="722.7" r="1.5"/><circle cx="1160.7" cy="716.0" r="1.5"/><circle cx="1160.9" cy="714.7" r="1.5"/><circle cx="1161.8" cy="720.7" r="1.5"/><circle cx="1162.2" cy="719.7" r="1.5"/><circle cx="1162.7" cy="714.1" r="1.5"/><circle cx="1162.1" cy="722.7" r="1.5"/><circle cx="1162.4" cy="716.5" r="1.5"/><circle cx="1162.9" cy="716.5" r="1.5"/><circle cx="1163.5" cy="714.5" r="1.5"/><circle cx="1163.1" cy="722.7" r="1.5"/><circle cx="1163.6" cy="722.3" r="1.5"/><circle cx="1163.6" cy="723.1" r="1.5"/><circle cx="1164.8" cy="720.0" r="1.5"/><circle cx="1164.1" cy="714.7" r="1.5"/><circle cx="1165.4" cy="715.8" r="1.5"/><circle cx="1164.7" cy="721.6" r="1.5"/><circle cx="1166.1" cy="714.7" r="1.5"/><circle cx="1166.2" cy="719.0" r="1.5"/><circle cx="1166.1" cy="715.2" r="1.5"/><circle cx="1166.1" cy="723.2" r="1.5"/><circle cx="1166.5" cy="715.5" r="1.5"/><circle cx="1166.3" cy="715.4" r="1.5"/><circle cx="1167.1" cy="722.6" r="1.5"/><circle cx="1166.8" cy="716.1" r="1.5"/><circle cx="1168.4" cy="723.3" r="1.5"/><circle cx="1168.4" cy="716.6" r="1.5"/><circle cx="1168.2" cy="723.0" r="1.5"/><circle cx="1168.4" cy="720.7" r="1.5"/><circle cx="1168.7" cy="714.6" r="1.5"/><circle cx="1168.8" cy="721.2" r="1.5"/><circle cx="1169.8" cy="719.6" r="1.5"/><circle cx="1169.5" cy="719.3" r="1.5"/><circle cx="1170.0" cy="719.3" r="1.5"/><circle cx="1170.4" cy="716.3" r="1.5"/><circle cx="1170.7" cy="722.9" r="1.5"/><circle cx="1171.0" cy="716.1" r="1.5"/><circle cx="1171.7" cy="722.1" r="1.5"/><circle cx="1170.8" cy="717.0" r="1.5"/><circle cx="1171.3" cy="715.1" r="1.5"/><circle cx="1172.3" cy="718.3" r="1.5"/><circle cx="1172.7" cy="715.7" r="1.5"/><circle cx="1171.7" cy="722.5" r="1.5"/><circle cx="1173.2" cy="723.6" r="1.5"/><circle cx="1173.0" cy="719.4" r="1.5"/><circle cx="1173.7" cy="715.5" r="1.5"/><circle cx="1173.4" cy="718.7" r="1.5"/><circle cx="1173.5" cy="720.1" r="1.5"/><circle cx="1173.7" cy="719.3" r="1.5"/><circle cx="1174.3" cy="717.6" r="1.5"/><circle cx="1174.3" cy="720.2" r="1.5"/><circle cx="1175.6" cy="723.2" r="1.5"/><circle cx="1175.4" cy="722.3" r="1.5"/><circle cx="1175.3" cy="723.6" r="1.5"/><circle cx="1175.3" cy="715.9" r="1.5"/><circle cx="1176.1" cy="721.4" r="1.5"/><circle cx="1175.9" cy="720.6" r="1.5"/><circle cx="1176.4" cy="723.6" r="1.5"/><circle cx="1176.6" cy="719.2" r="1.5"/><circle cx="1177.2" cy="722.8" r="1.5"/><circle cx="1177.8" cy="719.7" r="1.5"/><circle cx="1177.7" cy="720.5" r="1.5"/><circle cx="1177.2" cy="718.8" r="1.5"/><circle cx="1178.7" cy="721.9" r="1.5"/><circle cx="1177.8" cy="722.6" r="1.5"/><circle cx="1178.7" cy="723.8" r="1.5"/><circle cx="1178.7" cy="716.9" r="1.5"/><circle cx="1179.5" cy="723.0" r="1.5"/><circle cx="1179.3" cy="722.8" r="1.5"/><circle cx="1180.2" cy="718.3" r="1.5"/><circle cx="1179.7" cy="719.6" r="1.5"/><circle cx="1180.4" cy="718.4" r="1.5"/><circle cx="1180.7" cy="722.9" r="1.5"/><circle cx="1181.2" cy="716.4" r="1.5"/><circle cx="1180.7" cy="718.4" r="1.5"/><circle cx="1181.7" cy="716.4" r="1.5"/><circle cx="1181.1" cy="718.0" r="1.5"/><circle cx="1181.9" cy="715.4" r="1.5"/><circle cx="1182.2" cy="723.4" r="1.5"/><circle cx="1182.7" cy="721.8" r="1.5"/><circle cx="1183.1" cy="722.7" r="1.5"/><circle cx="1183.7" cy="719.2" r="1.5"/><circle cx="1183.5" cy="716.3" r="1.5"/><circle cx="1184.3" cy="718.6" r="1.5"/><circle cx="1183.8" cy="723.2" r="1.5"/><circle cx="1184.1" cy="717.0" r="1.5"/><circle cx="1184.7" cy="720.6" r="1.5"/><circle cx="1184.4" cy="715.5" r="1.5"/><circle cx="1184.7" cy="715.3" r="1.5"/><circle cx="1185.8" cy="716.9" r="1.5"/><circle cx="1185.2" cy="718.8" r="1.5"/><circle cx="1186.0" cy="719.2" r="1.5"/><circle cx="1186.2" cy="721.3" r="1.5"/><circle cx="1186.5" cy="716.2" r="1.5"/><circle cx="1187.1" cy="721.6" r="1.5"/><circle cx="1186.6" cy="719.3" r="1.5"/><circle cx="1187.4" cy="724.3" r="1.5"/><circle cx="1187.1" cy="715.5" r="1.5"/><circle cx="1187.6" cy="719.2" r="1.5"/><circle cx="1188.7" cy="722.9" r="1.5"/><circle cx="1188.0" cy="719.2" r="1.5"/><circle cx="1188.8" cy="723.4" r="1.5"/><circle cx="1188.4" cy="719.0" r="1.5"/><circle cx="1188.8" cy="721.2" r="1.5"/><circle cx="1188.7" cy="723.9" r="1.5"/><circle cx="1189.9" cy="720.7" r="1.5"/><circle cx="1189.4" cy="717.6" r="1.5"/><circle cx="1190.4" cy="723.2" r="1.5"/><circle cx="1190.4" cy="718.1" r="1.5"/><circle cx="1191.5" cy="721.5" r="1.5"/><circle cx="1191.0" cy="717.4" r="1.5"/><circle cx="1191.3" cy="723.7" r="1.5"/><circle cx="1191.1" cy="720.3" r="1.5"/><circle cx="1192.2" cy="718.8" r="1.5"/><circle cx="1192.4" cy="723.8" r="1.5"/><circle cx="1193.0" cy="722.2" r="1.5"/><circle cx="1192.2" cy="716.1" r="1.5"/><circle cx="1193.1" cy="718.4" r="1.5"/><circle cx="1192.8" cy="723.5" r="1.5"/><circle cx="1193.4" cy="723.0" r="1.5"/><circle cx="1194.2" cy="716.7" r="1.5"/><circle cx="1194.7" cy="719.2" r="1.5"/><circle cx="1193.9" cy="717.3" r="1.5"/><circle cx="1194.2" cy="720.2" r="1.5"/><circle cx="1194.7" cy="723.3" r="1.5"/><circle cx="1195.7" cy="716.2" r="1.5"/><circle cx="1195.2" cy="719.2" r="1.5"/><circle cx="1195.5" cy="718.0" r="1.5"/><circle cx="1195.6" cy="722.0" r="1.5"/><circle cx="1196.3" cy="716.7" r="1.5"/><circle cx="1196.1" cy="719.7" r="1.5"/><circle cx="1197.1" cy="718.0" r="1.5"/><circle cx="1197.2" cy="717.7" r="1.5"/><circle cx="1197.8" cy="721.3" r="1.5"/><circle cx="1197.2" cy="722.5" r="1.5"/><circle cx="1198.0" cy="720.7" r="1.5"/><circle cx="1198.2" cy="721.5" r="1.5"/><circle cx="1198.6" cy="716.3" r="1.5"/><circle cx="1199.0" cy="723.6" r="1.5"/><circle cx="1199.2" cy="721.1" r="1.5"/><circle cx="1198.9" cy="723.9" r="1.5"/><circle cx="1200.0" cy="717.9" r="1.5"/><circle cx="1200.1" cy="724.7" r="1.5"/><circle cx="1200.1" cy="724.8" r="1.5"/><circle cx="1200.3" cy="717.5" r="1.5"/><circle cx="1201.1" cy="719.0" r="1.5"/><circle cx="1201.1" cy="721.2" r="1.5"/><circle cx="1200.9" cy="720.7" r="1.5"/><circle cx="1201.8" cy="720.2" r="1.5"/><circle cx="1202.0" cy="723.7" r="1.5"/><circle cx="1201.9" cy="720.4" r="1.5"/><circle cx="1202.6" cy="723.4" r="1.5"/><circle cx="1202.1" cy="716.8" r="1.5"/><circle cx="1203.4" cy="721.0" r="1.5"/><circle cx="1202.8" cy="724.0" r="1.5"/><circle cx="1204.1" cy="720.9" r="1.5"/><circle cx="1204.2" cy="723.5" r="1.5"/><circle cx="1204.4" cy="718.6" r="1.5"/><circle cx="1203.6" cy="722.1" r="1.5"/><circle cx="1205.0" cy="719.2" r="1.5"/><circle cx="1204.7" cy="721.1" r="1.5"/><circle cx="1204.9" cy="722.3" r="1.5"/><circle cx="1205.3" cy="719.5" r="1.5"/><circle cx="1205.3" cy="721.1" r="1.5"/><circle cx="1205.6" cy="722.6" r="1.5"/><circle cx="1206.0" cy="719.6" r="1.5"/><circle cx="1206.0" cy="719.8" r="1.5"/><circle cx="1207.0" cy="717.1" r="1.5"/><circle cx="1206.4" cy="720.4" r="1.5"/><circle cx="1207.1" cy="720.7" r="1.5"/><circle cx="1207.1" cy="717.0" r="1.5"/><circle cx="1208.0" cy="724.5" r="1.5"/><circle cx="1208.4" cy="720.8" r="1.5"/><circle cx="1208.4" cy="716.8" r="1.5"/><circle cx="1208.3" cy="719.0" r="1.5"/><circle cx="1209.6" cy="717.2" r="1.5"/><circle cx="1209.6" cy="720.5" r="1.5"/><circle cx="1209.6" cy="718.6" r="1.5"/><circle cx="1210.2" cy="717.9" r="1.5"/><circle cx="1210.3" cy="720.8" r="1.5"/><circle cx="1209.8" cy="718.2" r="1.5"/><circle cx="1211.3" cy="723.3" r="1.5"/><circle cx="1211.0" cy="724.4" r="1.5"/><circle cx="1210.8" cy="722.6" r="1.5"/><circle cx="1211.6" cy="718.3" r="1.5"/><circle cx="1211.8" cy="725.0" r="1.5"/><circle cx="1211.6" cy="723.1" r="1.5"/><circle cx="1212.0" cy="722.3" r="1.5"/><circle cx="1212.1" cy="720.9" r="1.5"/><circle cx="1212.8" cy="724.1" r="1.5"/><circle cx="1213.2" cy="720.8" r="1.5"/><circle cx="1213.7" cy="720.2" r="1.5"/><circle cx="1213.9" cy="718.6" r="1.5"/><circle cx="1214.1" cy="721.6" r="1.5"/><circle cx="1213.9" cy="716.7" r="1.5"/><circle cx="1214.2" cy="722.1" r="1.5"/><circle cx="1214.3" cy="723.2" r="1.5"/><circle cx="1215.2" cy="724.9" r="1.5"/><circle cx="1215.6" cy="722.9" r="1.5"/><circle cx="1215.5" cy="716.8" r="1.5"/><circle cx="1215.8" cy="723.1" r="1.5"/><circle cx="1216.8" cy="718.2" r="1.5"/><circle cx="1215.8" cy="725.2" r="1.5"/><circle cx="1217.1" cy="720.8" r="1.5"/><circle cx="1217.1" cy="717.7" r="1.5"/><circle cx="1217.4" cy="722.4" r="1.5"/><circle cx="1217.5" cy="717.9" r="1.5"/><circle cx="1217.5" cy="722.0" r="1.5"/><circle cx="1218.4" cy="717.7" r="1.5"/><circle cx="1217.9" cy="717.2" r="1.5"/><circle cx="1218.8" cy="720.0" r="1.5"/><circle cx="1218.9" cy="725.4" r="1.5"/><circle cx="1219.1" cy="718.8" r="1.5"/><circle cx="1219.8" cy="716.5" r="1.5"/><circle cx="1219.3" cy="722.8" r="1.5"/><circle cx="1219.7" cy="716.8" r="1.5"/><circle cx="1220.1" cy="719.4" r="1.5"/><circle cx="1221.2" cy="717.4" r="1.5"/><circle cx="1221.0" cy="720.0" r="1.5"/><circle cx="1221.6" cy="720.5" r="1.5"/><circle cx="1221.4" cy="719.4" r="1.5"/><circle cx="1221.4" cy="720.6" r="1.5"/><circle cx="1222.1" cy="719.6" r="1.5"/><circle cx="1222.0" cy="720.3" r="1.5"/><circle cx="1221.8" cy="719.4" r="1.5"/><circle cx="1222.9" cy="721.5" r="1.5"/><circle cx="1223.0" cy="719.2" r="1.5"/><circle cx="1222.8" cy="716.8" r="1.5"/><circle cx="1223.2" cy="718.3" r="1.5"/><circle cx="1224.0" cy="719.0" r="1.5"/><circle cx="1224.3" cy="722.0" r="1.5"/><circle cx="1224.7" cy="723.2" r="1.5"/><circle cx="1224.5" cy="720.4" r="1.5"/><circle cx="1224.8" cy="717.2" r="1.5"/><circle cx="1225.4" cy="721.1" r="1.5"/><circle cx="1225.1" cy="725.0" r="1.5"/><circle cx="1225.7" cy="722.2" r="1.5"/><circle cx="1226.1" cy="717.8" r="1.5"/><circle cx="1226.7" cy="718.1" r="1.5"/><circle cx="1226.5" cy="725.6" r="1.5"/><circle cx="1226.2" cy="721.1" r="1.5"/><circle cx="1227.2" cy="718.9" r="1.5"/><circle cx="1227.8" cy="720.4" r="1.5"/><circle cx="1227.2" cy="720.9" r="1.5"/><circle cx="1227.2" cy="723.0" r="1.5"/><circle cx="1228.8" cy="724.8" r="1.5"/><circle cx="1227.8" cy="722.8" r="1.5"/><circle cx="1228.7" cy="720.9" r="1.5"/><circle cx="1228.7" cy="719.4" r="1.5"/><circle cx="1229.0" cy="722.3" r="1.5"/><circle cx="1229.0" cy="725.4" r="1.5"/><circle cx="1229.5" cy="725.4" r="1.5"/><circle cx="1229.6" cy="717.5" r="1.5"/><circle cx="1230.8" cy="721.5" r="1.5"/><circle cx="1230.9" cy="721.3" r="1.5"/><circle cx="1231.3" cy="717.5" r="1.5"/><circle cx="1231.3" cy="721.3" r="1.5"/><circle cx="1232.2" cy="716.8" r="1.5"/><circle cx="1231.1" cy="722.8" r="1.5"/><circle cx="1232.7" cy="720.6" r="1.5"/><circle cx="1232.5" cy="721.8" r="1.5"/><circle cx="1232.6" cy="721.0" r="1.5"/><circle cx="1232.9" cy="717.0" r="1.5"/><circle cx="1233.1" cy="723.4" r="1.5"/><circle cx="1233.0" cy="721.0" r="1.5"/><circle cx="1233.6" cy="720.0" r="1.5"/><circle cx="1234.0" cy="723.5" r="1.5"/><circle cx="1234.9" cy="721.1" r="1.5"/><circle cx="1234.0" cy="719.8" r="1.5"/><circle cx="1234.4" cy="719.0" r="1.5"/><circle cx="1235.1" cy="722.3" r="1.5"/><circle cx="1235.2" cy="718.5" r="1.5"/><circle cx="1235.0" cy="718.4" r="1.5"/><circle cx="1236.1" cy="719.1" r="1.5"/><circle cx="1236.5" cy="721.9" r="1.5"/><circle cx="1236.4" cy="720.7" r="1.5"/><circle cx="1236.0" cy="723.4" r="1.5"/><circle cx="1237.5" cy="720.1" r="1.5"/><circle cx="1237.4" cy="719.3" r="1.5"/><circle cx="1237.4" cy="718.9" r="1.5"/><circle cx="1237.3" cy="722.3" r="1.5"/><circle cx="1238.4" cy="723.4" r="1.5"/><circle cx="1237.8" cy="723.8" r="1.5"/><circle cx="1238.8" cy="720.3" r="1.5"/><circle cx="1238.8" cy="720.8" r="1.5"/><circle cx="1239.0" cy="720.5" r="1.5"/><circle cx="1239.5" cy="723.3" r="1.5"/><circle cx="1240.4" cy="718.7" r="1.5"/><circle cx="1240.4" cy="724.1" r="1.5"/><circle cx="1240.7" cy="725.7" r="1.5"/><circle cx="1240.0" cy="723.9" r="1.5"/><circle cx="1241.5" cy="718.0" r="1.5"/><circle cx="1241.1" cy="725.5" r="1.5"/><circle cx="1241.3" cy="724.6" r="1.5"/><circle cx="1242.0" cy="720.9" r="1.5"/><circle cx="1241.7" cy="718.9" r="1.5"/><circle cx="1242.5" cy="720.7" r="1.5"/><circle cx="1242.4" cy="720.9" r="1.5"/><circle cx="1243.2" cy="719.2" r="1.5"/><circle cx="1135.8" cy="596.0" r="1.5"/><circle cx="1136.6" cy="599.5" r="1.5"/><circle cx="1137.5" cy="602.0" r="1.5"/></g>
<polyline points="1028.6,722.0 1030.6,722.0 1032.6,722.0 1034.6,722.0 1036.6,722.0 1038.6,722.0 1040.6,722.0 1042.6,722.0 1044.6,722.0 1046.6,722.0 1048.6,722.0 1050.6,722.0 1052.6,722.0 1054.6,722.0 1056.6,722.0 1058.6,722.0 1060.6,722.0 1062.6,722.0 1064.6,722.0 1066.6,722.0 1068.6,722.0 1070.6,722.0 1072.6,722.0 1074.6,722.0 1076.6,722.0 1078.6,722.0 1080.6,722.0 1082.6,722.0 1084.6,722.0 1086.6,722.0 1088.6,722.0 1090.6,722.0 1092.6,722.0 1094.6,722.0 1096.6,722.0 1098.6,722.0 1100.6,722.0 1102.6,722.0 1104.6,722.0 1106.6,722.0 1108.6,722.0 1110.6,722.0 1112.6,722.0 1114.6,722.0 1116.6,722.0 1118.6,722.0 1119.0,722.0 1119.4,722.0 1119.8,722.0 1120.2,722.0 1120.6,722.0 1121.0,722.0 1121.4,722.0 1121.8,721.9 1122.2,721.9 1122.6,721.9 1123.0,721.8 1123.4,721.7 1123.8,721.6 1124.2,721.5 1124.6,721.2 1125.0,721.0 1125.4,720.6 1125.8,720.1 1126.2,719.4 1126.6,718.6 1127.0,717.6 1127.4,716.3 1127.8,714.7 1128.2,712.7 1128.6,710.3 1129.0,707.5 1129.4,704.3 1129.8,700.4 1130.2,696.1 1130.6,691.2 1131.0,685.7 1131.4,679.7 1131.8,673.3 1132.2,666.4 1132.6,659.3 1133.0,652.0 1133.4,644.6 1133.8,637.4 1134.2,630.4 1134.6,623.9 1135.0,618.1 1135.4,613.1 1135.8,609.0 1136.2,606.0 1136.6,604.1 1137.0,603.5 1137.4,604.1 1137.8,606.0 1138.2,609.0 1138.6,613.1 1139.0,618.1 1139.4,623.9 1139.8,630.4 1140.2,637.4 1140.6,644.6 1141.0,652.0 1141.4,659.3 1141.8,666.4 1142.2,673.3 1142.6,679.7 1143.0,685.7 1143.4,691.2 1143.8,696.1 1144.2,700.4 1144.6,704.3 1145.0,707.5 1145.4,710.3 1145.8,712.7 1146.2,714.7 1146.6,716.3 1147.0,717.6 1147.4,718.6 1147.8,719.4 1148.2,720.1 1148.6,720.6 1149.0,721.0 1149.4,721.2 1149.8,721.5 1150.2,721.6 1150.6,721.7 1151.0,721.8 1151.4,721.9 1151.8,721.9 1152.2,721.9 1152.6,722.0 1153.0,722.0 1153.4,722.0 1153.8,722.0 1154.2,722.0 1154.6,722.0 1155.0,722.0 1155.4,722.0 1155.8,722.0 1156.2,722.0 1156.6,722.0 1157.0,722.0 1159.0,722.0 1161.0,722.0 1163.0,722.0 1165.0,722.0 1167.0,722.0 1169.0,722.0 1171.0,722.0 1173.0,722.0 1175.0,722.0 1177.0,722.0 1179.0,722.0 1181.0,722.0 1183.0,722.0 1185.0,722.0 1187.0,722.0 1189.0,722.0 1191.0,722.0 1193.0,722.0 1195.0,722.0 1197.0,722.0 1199.0,722.0 1201.0,722.0 1203.0,722.0 1205.0,722.0 1207.0,722.0 1209.0,722.0 1211.0,722.0 1213.0,722.0 1215.0,722.0 1217.0,722.0 1219.0,722.0 1221.0,722.0 1223.0,722.0 1225.0,722.0 1227.0,722.0 1229.0,722.0 1231.0,722.0 1233.0,722.0 1235.0,722.0 1237.0,722.0 1239.0,722.0 1241.0,722.0" fill="none" stroke="#1a1aff" stroke-width="2.6" stroke-linejoin="round"/>
<rect x="1027.6" y="570.6" width="216.4000000000001" height="166.0" fill="none" stroke="#000" stroke-width="2.6"/>
<line x1="1060.1" y1="736.6" x2="1060.1" y2="732.1" stroke="#000" stroke-width="2"/>
<line x1="1126.3" y1="736.6" x2="1126.3" y2="732.1" stroke="#000" stroke-width="2"/>
<line x1="1193.3" y1="736.6" x2="1193.3" y2="732.1" stroke="#000" stroke-width="2"/>
<line x1="1093.4" y1="736.6" x2="1093.4" y2="734.1" stroke="#000" stroke-width="1.6"/>
<line x1="1160" y1="736.6" x2="1160" y2="734.1" stroke="#000" stroke-width="1.6"/>
<line x1="1228.6" y1="736.6" x2="1228.6" y2="734.1" stroke="#000" stroke-width="1.6"/>
<text transform="translate(1043.43,755.11) scale(1.0608,1)" font-family="'Liberation Serif'" font-size="18.51" font-weight="bold" font-style="normal" fill="#000" >17.2</text>
<text transform="translate(1109.40,754.94) scale(1.0934,1)" font-family="'Liberation Serif'" font-size="18.24" font-weight="bold" font-style="normal" fill="#000" >17.6</text>
<text transform="translate(1175.37,754.94) scale(1.1203,1)" font-family="'Liberation Serif'" font-size="18.24" font-weight="bold" font-style="normal" fill="#000" >18.0</text>
<text transform="translate(1100.69,781.17) scale(1.0972,1)" font-family="'Liberation Serif'" font-size="23.13" font-weight="bold" font-style="italic" fill="#000" >&#969;</text>
<text transform="translate(1124.37,781.42) scale(1.0447,1)" font-family="'Liberation Serif'" font-size="24.67" font-weight="bold" font-style="normal" fill="#000" >(deg)</text>
<rect x="758.3" y="570.6" width="485.70000000000005" height="375.9" fill="none" stroke="#000" stroke-width="3.2"/>
<line x1="796.0" y1="946.5" x2="796.0" y2="938.5" stroke="#000" stroke-width="3"/>
<line x1="907.5" y1="946.5" x2="907.5" y2="938.5" stroke="#000" stroke-width="3"/>
<line x1="1019.0" y1="946.5" x2="1019.0" y2="938.5" stroke="#000" stroke-width="3"/>
<line x1="1130.5" y1="946.5" x2="1130.5" y2="938.5" stroke="#000" stroke-width="3"/>
<line x1="851.8" y1="946.5" x2="851.8" y2="942.5" stroke="#000" stroke-width="2.5"/>
<line x1="963.2" y1="946.5" x2="963.2" y2="942.5" stroke="#000" stroke-width="2.5"/>
<line x1="1074.8" y1="946.5" x2="1074.8" y2="942.5" stroke="#000" stroke-width="2.5"/>
<line x1="1186.2" y1="946.5" x2="1186.2" y2="942.5" stroke="#000" stroke-width="2.5"/>
<text transform="translate(778.47,979.94) scale(1.0462,1)" font-family="'Liberation Serif'" font-size="33.09" font-weight="normal" font-style="normal" fill="#000" >30</text>
<text x="890.34" y="980.26" font-family="'Liberation Serif'" font-size="33.58" font-weight="normal" font-style="normal" fill="#000" >33</text>
<text transform="translate(1002.09,979.94) scale(1.0348,1)" font-family="'Liberation Serif'" font-size="33.09" font-weight="normal" font-style="normal" fill="#000" >36</text>
<text transform="translate(1114.47,980.26) scale(1.0275,1)" font-family="'Liberation Serif'" font-size="33.58" font-weight="normal" font-style="normal" fill="#000" >39</text>
<text transform="translate(1226.41,980.26) scale(1.0214,1)" font-family="'Liberation Serif'" font-size="33.58" font-weight="normal" font-style="normal" fill="#000" >42</text>
<text transform="translate(918.08,1021.65) scale(1.1853,1)" font-family="'Liberation Serif'" font-size="38.35" font-weight="normal" font-style="normal" fill="#000" >2&#952; (deg)</text>
<g transform="translate(696.60,874.80) rotate(-90)"><text transform="translate(-1.29,30.67) scale(0.9645,1)" font-family="'Liberation Serif'" font-size="44.44" font-weight="normal" font-style="normal" fill="#000" >Intensity (a.u.)</text></g>
<polygon points="763.3,1395.4 762.5,1383.0 763.9,1383.8 765.9,1385.4 768.0,1385.4 770.2,1386.3 772.6,1387.3 775.0,1387.4 777.3,1388.9 779.5,1390.1 781.6,1391.1 783.5,1390.4 785.3,1391.2 787.0,1391.3 788.8,1393.1 790.6,1393.6 792.3,1393.1 793.9,1395.4 795.4,1396.1 797.0,1396.3 799.0,1396.9 801.1,1396.7 803.1,1397.3 804.8,1399.4 806.4,1399.9 808.0,1401.4 809.6,1403.0 811.2,1404.1 812.8,1405.6 814.2,1405.2 815.5,1404.8 817.0,1403.0 818.7,1402.3 820.6,1401.2 822.5,1400.6 824.3,1399.4 826.2,1398.3 828.0,1398.9 829.8,1398.4 831.5,1397.6 833.3,1396.4 835.0,1394.0 836.7,1391.7 838.5,1389.6 840.3,1386.8 842.1,1385.6 844.0,1382.9 845.9,1382.7 847.9,1381.3 850.0,1381.8 852.3,1380.9 854.8,1378.6 857.0,1378.3 858.9,1378.9 860.5,1377.5 862.0,1377.9 863.4,1376.1 864.7,1374.9 866.0,1375.2 867.3,1374.8 868.6,1373.3 869.9,1372.7 871.2,1373.4 872.6,1375.2 874.0,1375.5 875.5,1374.9 877.1,1375.6 878.5,1375.9 879.8,1376.3 880.9,1378.1 882.0,1377.4 883.0,1378.3 884.0,1378.2 885.0,1378.2 886.0,1380.3 887.0,1380.7 888.0,1383.3 889.1,1384.3 890.2,1387.1 891.5,1388.0 892.9,1387.8 894.3,1387.8 896.0,1386.5 898.0,1385.1 900.2,1385.8 902.2,1384.8 903.6,1386.3 904.7,1388.9 906.0,1390.3 907.5,1390.7 909.1,1393.7 910.9,1393.4 912.8,1394.1 914.9,1395.3 917.0,1394.7 919.2,1394.7 921.6,1394.2 923.8,1394.3 925.9,1395.6 928.0,1395.7 930.0,1396.7 932.0,1396.0 934.0,1395.7 936.0,1396.3 938.0,1395.7 940.0,1396.4 942.0,1397.2 944.0,1395.8 945.9,1395.4 948.0,1396.5 950.2,1396.4 952.6,1395.6 955.0,1395.9 957.6,1398.0 960.2,1399.7 962.6,1398.8 964.5,1398.8 966.2,1396.4 968.0,1394.2 970.3,1393.4 972.7,1392.9 975.0,1392.7 977.1,1393.8 979.1,1391.7 981.0,1391.9 982.8,1390.3 984.5,1390.6 986.3,1389.8 988.2,1389.6 990.1,1390.0 992.0,1391.4 993.7,1389.8 995.3,1389.4 997.0,1389.7 998.9,1390.6 1001.0,1390.8 1003.0,1391.1 1005.1,1393.5 1007.2,1393.6 1009.1,1393.9 1010.6,1393.9 1011.8,1393.0 1013.0,1391.2 1014.3,1390.3 1015.5,1389.5 1016.9,1389.7 1018.6,1390.5 1020.4,1393.3 1022.1,1396.1 1023.4,1396.8 1024.7,1396.2 1026.0,1396.3 1027.7,1396.9 1029.6,1397.0 1031.2,1397.2 1032.3,1396.6 1033.1,1397.2 1034.0,1395.9 1035.0,1395.6 1036.2,1393.2 1037.7,1393.7 1039.9,1393.2 1042.5,1393.5 1045.0,1392.7 1047.4,1394.1 1049.8,1392.7 1052.0,1393.6 1054.0,1393.6 1056.0,1393.3 1058.0,1392.4 1060.2,1391.9 1062.6,1391.7 1065.0,1391.6 1067.7,1390.8 1070.5,1391.8 1072.8,1392.2 1074.1,1391.5 1074.8,1389.7 1075.5,1389.5 1076.3,1389.0 1077.2,1387.9 1078.0,1387.8 1078.8,1387.9 1079.7,1389.1 1080.5,1390.2 1081.2,1390.4 1082.0,1392.8 1083.2,1394.4 1085.1,1394.6 1087.4,1394.3 1090.0,1393.8 1092.9,1394.6 1096.1,1394.5 1098.9,1394.7 1101.0,1396.5 1102.7,1396.5 1104.1,1397.9 1105.1,1394.3 1105.9,1392.0 1106.7,1389.6 1107.8,1389.3 1108.9,1391.5 1110.0,1392.5 1111.1,1393.7 1112.2,1395.2 1113.2,1395.0 1114.1,1395.4 1115.0,1396.8 1116.0,1398.3 1117.1,1398.3 1118.3,1399.1 1119.7,1400.7 1121.4,1399.9 1123.2,1398.7 1125.0,1398.7 1126.8,1397.1 1128.6,1397.3 1130.1,1396.2 1131.3,1396.3 1132.2,1396.9 1133.0,1397.7 1133.6,1399.7 1134.2,1401.6 1135.3,1404.0 1137.2,1404.3 1139.5,1403.9 1142.0,1404.5 1144.5,1405.2 1147.1,1405.3 1149.6,1404.9 1151.8,1404.8 1153.9,1402.9 1156.0,1401.9 1158.3,1401.6 1160.6,1400.4 1162.6,1399.5 1164.0,1399.0 1165.0,1398.5 1166.0,1397.5 1166.8,1396.3 1167.6,1396.5 1169.1,1396.3 1171.7,1395.4 1174.9,1395.0 1178.0,1395.2 1180.7,1396.5 1183.3,1394.7 1186.0,1395.9 1189.0,1396.0 1192.0,1396.1 1195.0,1397.5 1197.7,1396.6 1200.4,1397.2 1202.9,1397.9 1205.2,1396.8 1207.4,1397.6 1210.0,1396.0 1213.6,1395.7 1217.6,1395.5 1221.1,1396.3 1223.6,1395.4 1225.5,1395.0 1227.6,1394.4 1230.0,1394.1 1232.5,1393.8 1235.0,1392.8 1237.5,1391.4 1239.9,1391.4 1241.9,1390.3 1243.1,1389.3 1243.8,1389.4 1244.5,1390.0 1245.2,1390.6 1245.9,1393.2 1247.1,1395.1 1249.4,1396.4 1252.1,1396.2 1254.3,1396.3 1255.3,1396.4 1255.8,1395.4 1256.0,1395.9 1256.0,1395.4" fill="#00ee00"/>
<line x1="762.3" y1="1395.4" x2="1257" y2="1395.4" stroke="#00ee00" stroke-width="1"/>
<polyline points="762.2,1375.5 764.0,1375.4 766.5,1375.2 769.3,1374.6 772.0,1374.3 774.3,1374.2 776.5,1374.0 778.9,1374.0 781.6,1373.5 784.8,1372.9 788.4,1372.1 792.2,1371.4 796.0,1370.3 800.0,1369.6 804.2,1368.6 808.3,1368.0 811.7,1366.7 814.3,1366.2 816.3,1365.0 818.0,1364.5 820.0,1363.4 822.3,1362.5 824.6,1361.7 826.9,1360.3 829.0,1359.2 830.7,1358.4 832.1,1356.9 833.5,1355.3 835.0,1354.2 836.7,1352.6 838.4,1350.4 840.2,1348.7 841.9,1346.3 843.5,1343.9 845.0,1341.2 846.4,1338.0 848.0,1335.1 849.7,1331.3 851.5,1327.7 853.3,1324.3 854.8,1320.6 856.0,1317.3 857.0,1314.3 858.0,1311.1 859.0,1307.9 860.1,1304.6 861.2,1301.8 862.3,1298.6 863.4,1294.9 864.4,1290.6 865.4,1286.0 866.4,1281.4 867.5,1277.1 868.6,1272.7 869.8,1267.9 871.0,1263.8 872.1,1260.2 873.1,1257.4 874.0,1255.1 875.0,1252.9 876.0,1250.8 877.1,1249.5 878.3,1247.8 879.5,1246.5 880.7,1245.1 881.9,1243.8 883.1,1242.3 884.3,1241.2 885.5,1239.8 886.7,1239.1 888.0,1238.2 889.3,1237.9 890.4,1237.4 891.4,1237.7 892.3,1238.2 893.1,1239.2 894.0,1239.8 894.9,1241.0 895.9,1241.9 896.9,1243.3 897.9,1245.2 898.9,1247.6 899.9,1249.8 900.9,1252.9 902.0,1255.8 903.1,1260.0 904.3,1264.1 905.5,1268.5 906.6,1273.3 907.7,1277.9 908.8,1282.0 909.9,1286.8 911.0,1291.6 912.1,1296.0 913.1,1300.7 914.1,1305.1 915.2,1309.6 916.3,1314.1 917.5,1318.4 918.7,1322.4 920.0,1326.0 921.4,1329.5 922.9,1333.2 924.4,1336.8 925.9,1340.2 927.4,1343.3 928.9,1346.1 930.4,1349.2 932.0,1352.0 933.7,1354.7 935.4,1357.0 937.1,1359.7 938.9,1361.8 940.6,1363.4 942.4,1365.2 944.2,1367.2 946.0,1368.4 948.0,1370.1 950.1,1371.2 952.1,1372.5 954.0,1373.5 955.6,1374.1 957.1,1374.8 958.5,1375.3 960.0,1376.1 961.6,1376.6 963.3,1376.9 965.1,1377.6 966.9,1377.7 968.8,1377.7 970.8,1377.7 972.9,1377.8 975.0,1377.3 977.1,1377.1 979.2,1376.8 981.5,1376.3 984.1,1375.6 987.0,1374.7 990.3,1373.9 993.7,1373.1 997.0,1372.1 1000.4,1371.2 1003.9,1370.3 1007.3,1369.5 1010.4,1368.9 1012.9,1368.1 1015.1,1367.1 1017.1,1366.8 1019.5,1366.4 1022.2,1365.9 1025.0,1365.5 1028.0,1365.2 1031.2,1364.9 1034.6,1365.2 1038.3,1365.3 1042.0,1365.6 1045.5,1366.1 1048.9,1366.4 1052.2,1367.1 1055.5,1367.3 1058.5,1367.5 1061.3,1367.8 1063.8,1367.8 1066.3,1368.1 1068.9,1368.2 1071.9,1367.9 1075.1,1367.5 1078.1,1367.2 1080.6,1366.7 1082.4,1366.4 1083.7,1365.6 1084.8,1365.0 1086.0,1364.4 1087.3,1363.8 1088.6,1363.0 1089.8,1362.0 1091.0,1361.2 1092.1,1360.1 1093.1,1359.1 1094.0,1358.4 1095.0,1357.5 1095.9,1356.4 1096.8,1355.8 1097.8,1354.5 1098.9,1353.1 1100.2,1351.2 1101.6,1349.3 1103.0,1346.5 1104.5,1344.4 1106.0,1342.2 1107.6,1340.0 1109.2,1338.0 1110.6,1336.2 1111.8,1335.1 1112.9,1333.9 1113.9,1333.0 1115.0,1331.8 1116.2,1331.0 1117.4,1330.2 1118.5,1329.4 1119.7,1328.3 1120.8,1327.6 1121.8,1327.0 1122.9,1326.3 1124.0,1325.4 1125.2,1324.8 1126.5,1324.3 1127.7,1323.5 1128.8,1323.3 1129.6,1323.2 1130.3,1323.4 1130.9,1323.3 1131.5,1323.6 1132.1,1323.5 1132.6,1323.8 1133.2,1323.8 1134.0,1324.5 1135.0,1325.4 1136.1,1326.7 1137.3,1328.2 1138.5,1329.9 1139.6,1331.8 1140.8,1333.6 1142.0,1335.5 1143.1,1337.8 1144.2,1339.3 1145.3,1341.4 1146.4,1343.1 1147.5,1344.7 1148.7,1346.8 1149.8,1348.6 1151.0,1350.1 1152.2,1351.7 1153.4,1353.6 1154.5,1355.2 1155.7,1356.6 1157.0,1358.1 1158.3,1359.4 1159.7,1361.0 1161.2,1362.2 1162.6,1363.6 1164.0,1364.7 1165.5,1365.9 1166.9,1366.9 1168.5,1368.2 1170.2,1368.8 1172.0,1369.7 1173.8,1370.6 1175.6,1371.6 1177.2,1372.0 1178.8,1372.2 1180.4,1373.0 1182.0,1373.4 1183.5,1373.8 1184.9,1373.9 1186.5,1374.4 1188.6,1374.5 1191.5,1374.7 1194.9,1375.3 1198.5,1375.4 1201.6,1375.2 1204.2,1375.5 1206.5,1374.9 1208.7,1374.9 1211.0,1374.6 1213.5,1374.5 1216.0,1374.3 1218.6,1374.4 1221.1,1373.9 1223.6,1373.6 1226.1,1373.2 1228.6,1372.9 1231.0,1372.9 1233.5,1372.4 1236.0,1371.9 1238.4,1371.8 1240.6,1371.4 1242.6,1371.0 1244.5,1370.7 1246.3,1370.4 1248.0,1370.2 1249.8,1369.7 1251.6,1369.4 1253.2,1369.0 1254.3,1368.9" fill="none" stroke="#000" stroke-width="2"/>
<polyline points="762.8,1376.4 764.6,1376.4 767.1,1376.2 769.9,1376.0 772.6,1375.3 774.9,1375.1 777.1,1374.9 779.5,1374.7 782.2,1374.5 785.4,1373.6 789.0,1373.1 792.8,1372.2 796.6,1371.4 800.6,1370.6 804.8,1369.9 808.9,1368.9 812.3,1367.7 814.9,1366.9 816.9,1366.1 818.6,1365.6 820.6,1364.7 822.9,1363.7 825.2,1362.7 827.5,1361.7 829.6,1360.6 831.3,1359.3 832.7,1357.8 834.1,1356.7 835.6,1355.0 837.3,1353.5 839.0,1351.7 840.8,1349.7 842.5,1347.4 844.1,1344.9 845.6,1342.1 847.0,1339.0 848.6,1336.2 850.3,1332.7 852.1,1329.1 853.9,1325.2 855.4,1321.6 856.6,1318.5 857.6,1315.0 858.6,1312.2 859.6,1309.0 860.7,1305.7 861.8,1302.5 862.9,1299.4 864.0,1295.6 865.0,1291.5 866.0,1287.1 867.0,1282.4 868.1,1277.8 869.2,1273.6 870.4,1269.0 871.6,1264.8 872.7,1261.1 873.7,1258.3 874.6,1255.8 875.6,1254.0 876.6,1252.2 877.7,1250.2 878.9,1249.0 880.1,1247.7 881.3,1246.0 882.5,1244.6 883.7,1243.5 884.9,1242.3 886.1,1241.1 887.3,1239.9 888.6,1239.3 889.9,1239.0 891.0,1238.8 892.0,1238.9 892.9,1239.2 893.7,1240.3 894.6,1240.9 895.5,1242.1 896.5,1242.9 897.5,1244.7 898.5,1246.3 899.5,1248.5 900.5,1250.7 901.5,1253.8 902.6,1257.0 903.7,1260.9 904.9,1265.1 906.1,1269.8 907.2,1274.1 908.3,1278.6 909.4,1283.1 910.5,1288.0 911.6,1292.3 912.7,1297.0 913.7,1301.6 914.7,1306.4 915.8,1310.8 916.9,1315.1 918.1,1318.9 919.3,1323.1 920.6,1326.9 922.0,1330.5 923.5,1334.0 925.0,1337.9 926.5,1340.8 928.0,1344.1 929.5,1347.2 931.0,1350.3 932.6,1352.8 934.3,1355.6 936.0,1358.1 937.7,1360.6 939.5,1362.4 941.2,1364.5 943.0,1366.3 944.8,1368.2 946.6,1369.5 948.6,1370.9 950.7,1372.3 952.7,1373.3 954.6,1374.2 956.2,1375.2 957.7,1376.1 959.1,1376.6 960.6,1376.9 962.2,1377.6 963.9,1378.2 965.7,1378.3 967.5,1378.7 969.4,1378.7 971.4,1378.6 973.5,1378.4 975.6,1378.2 977.7,1377.9 979.9,1377.4 982.1,1377.1 984.7,1376.3 987.6,1375.9 990.9,1374.9 994.3,1373.6 997.6,1373.1 1001.0,1372.0 1004.5,1371.3 1007.9,1370.6 1011.0,1369.7 1013.5,1369.0 1015.7,1368.3 1017.7,1367.6 1020.1,1367.4 1022.8,1366.5 1025.6,1366.5 1028.6,1365.9 1031.8,1365.8 1035.2,1366.0 1038.9,1366.2 1042.6,1366.6 1046.1,1367.1 1049.5,1367.5 1052.8,1368.1 1056.1,1368.5 1059.1,1368.3 1061.9,1368.8 1064.4,1368.8 1066.9,1369.3 1069.5,1369.0 1072.5,1369.1 1075.7,1368.7 1078.7,1368.1 1081.2,1367.6 1083.0,1367.2 1084.3,1367.0 1085.4,1366.0 1086.6,1365.5 1087.9,1364.6 1089.2,1363.7 1090.4,1363.1 1091.6,1361.9 1092.7,1361.3 1093.7,1360.4 1094.6,1359.6 1095.6,1358.5 1096.5,1357.8 1097.4,1356.6 1098.4,1355.6 1099.5,1354.3 1100.8,1352.5 1102.2,1350.3 1103.6,1347.6 1105.1,1345.3 1106.6,1343.3 1108.2,1341.3 1109.8,1339.1 1111.2,1337.2 1112.4,1336.2 1113.5,1334.8 1114.5,1333.7 1115.6,1332.8 1116.8,1331.8 1118.0,1331.2 1119.1,1330.0 1120.3,1329.5 1121.4,1328.8 1122.4,1328.1 1123.5,1327.3 1124.6,1326.5 1125.8,1325.9 1127.1,1325.3 1128.3,1324.7 1129.4,1324.1 1130.2,1324.2 1130.9,1323.9 1131.5,1324.2 1132.1,1324.7 1132.7,1324.6 1133.2,1324.6 1133.8,1325.1 1134.6,1325.5 1135.6,1326.3 1136.7,1327.6 1137.9,1329.3 1139.1,1330.9 1140.2,1333.0 1141.4,1334.6 1142.6,1336.9 1143.7,1338.8 1144.8,1340.4 1145.9,1342.5 1147.0,1344.1 1148.1,1345.8 1149.3,1347.5 1150.4,1349.4 1151.6,1351.4 1152.8,1352.9 1154.0,1354.4 1155.1,1356.0 1156.3,1357.5 1157.6,1358.8 1158.9,1360.5 1160.3,1361.7 1161.8,1363.5 1163.2,1364.4 1164.6,1365.6 1166.1,1367.0 1167.5,1367.9 1169.1,1369.2 1170.8,1370.0 1172.6,1370.9 1174.4,1371.9 1176.2,1372.3 1177.8,1373.1 1179.4,1373.5 1181.0,1373.8 1182.6,1374.4 1184.1,1374.4 1185.5,1375.1 1187.1,1375.1 1189.2,1375.8 1192.1,1375.7 1195.5,1375.8 1199.1,1376.2 1202.2,1376.5 1204.8,1376.1 1207.1,1376.1 1209.3,1376.0 1211.6,1375.7 1214.1,1375.6 1216.6,1375.2 1219.2,1375.2 1221.7,1375.1 1224.2,1374.6 1226.7,1374.2 1229.2,1373.8 1231.6,1373.8 1234.1,1373.3 1236.6,1373.3 1239.0,1372.9 1241.2,1372.2 1243.2,1372.3 1245.1,1371.9 1246.9,1371.5 1248.6,1371.2 1250.4,1370.7 1252.2,1370.4 1253.8,1370.1 1254.9,1369.8" fill="none" stroke="#ff0000" stroke-width="2"/>
<polyline points="762.2,1377.5 764.0,1377.3 766.5,1376.6 769.3,1375.9 772.0,1374.9 774.4,1374.2 776.8,1373.7 779.2,1373.0 781.6,1372.2 784.0,1371.7 786.3,1371.0 788.6,1370.4 791.0,1369.3 793.6,1368.3 796.3,1367.3 798.8,1365.8 801.0,1364.7 802.6,1364.2 803.8,1363.6 804.8,1362.9 806.0,1362.5 807.4,1361.9 808.9,1360.9 810.4,1360.3 811.7,1359.2 812.9,1358.4 813.9,1357.3 815.0,1356.4 816.0,1355.7 817.1,1354.5 818.2,1353.8 819.2,1352.6 820.3,1351.8 821.3,1351.2 822.4,1350.4 823.4,1349.5 824.5,1349.0 825.6,1348.5 826.7,1348.0 827.8,1347.4 829.0,1346.6 830.2,1344.9 831.4,1342.8 832.7,1340.6 834.0,1337.9 835.4,1335.2 836.8,1331.8 838.3,1328.2 839.7,1325.0 841.0,1321.4 842.4,1318.1 843.7,1314.5 845.0,1311.1 846.4,1306.9 847.8,1303.0 849.2,1298.7 850.5,1294.7 851.7,1290.7 852.8,1286.6 853.9,1282.4 855.0,1278.0 856.1,1273.3 857.1,1268.5 858.1,1263.2 859.1,1258.1 860.0,1252.5 860.9,1247.1 861.7,1241.3 862.5,1234.8 863.3,1228.5 864.1,1222.1 864.8,1215.3 865.6,1208.3 866.4,1201.7 867.2,1194.9 868.0,1187.8 868.8,1180.9 869.6,1174.3 870.4,1167.7 871.2,1160.8 872.1,1154.6 873.0,1148.7 874.0,1143.2 875.0,1137.8 876.0,1132.9 877.1,1128.6 878.3,1124.6 879.5,1121.1 880.7,1118.2 881.9,1115.2 883.1,1112.6 884.3,1110.6 885.5,1108.4 886.7,1106.5 888.0,1104.7 889.3,1103.4 890.4,1102.8 891.4,1103.0 892.3,1104.2 893.1,1105.3 894.0,1106.9 894.9,1108.8 895.9,1110.9 896.9,1113.0 897.9,1116.0 898.9,1119.2 899.9,1123.1 900.9,1127.4 902.0,1132.2 903.1,1137.2 904.3,1142.7 905.5,1148.7 906.6,1154.6 907.7,1161.1 908.8,1168.2 909.9,1175.0 911.0,1182.1 912.1,1189.1 913.1,1196.6 914.1,1203.7 915.2,1210.6 916.3,1217.6 917.3,1224.0 918.4,1230.5 919.5,1236.9 920.6,1243.3 921.7,1249.7 922.7,1256.3 923.8,1262.3 924.9,1268.4 925.9,1274.4 926.9,1280.3 928.0,1286.0 929.1,1291.7 930.1,1297.0 931.2,1302.4 932.4,1307.7 933.6,1312.8 934.9,1318.1 936.2,1323.1 937.5,1328.1 938.9,1332.3 940.3,1336.7 941.8,1340.4 943.2,1344.4 944.5,1347.9 945.9,1351.2 947.2,1354.6 948.5,1357.6 949.8,1360.4 951.2,1362.8 952.6,1365.5 954.0,1367.9 955.4,1370.4 956.9,1372.9 958.4,1375.1 960.0,1376.8 961.7,1378.9 963.4,1380.8 965.2,1382.1 966.9,1382.9 968.5,1383.7 970.0,1383.5 971.4,1383.5 973.0,1383.1 974.6,1382.8 976.3,1382.4 978.1,1381.5 979.8,1381.1 981.6,1380.1 983.3,1379.0 985.1,1378.0 987.0,1377.0 989.0,1375.6 991.1,1374.5 993.1,1373.4 994.9,1372.3 996.2,1371.7 997.3,1371.2 998.4,1371.1 1000.0,1370.0 1002.3,1368.8 1004.9,1367.1 1007.8,1365.0 1010.4,1363.8 1012.7,1362.1 1014.9,1361.2 1017.1,1360.1 1019.5,1359.2 1022.3,1358.4 1025.4,1357.6 1028.5,1357.3 1031.2,1357.0 1033.4,1357.4 1035.3,1357.4 1037.0,1357.9 1039.0,1358.6 1041.2,1358.7 1043.4,1358.7 1045.7,1358.9 1048.1,1359.0 1050.6,1359.7 1053.2,1360.2 1055.9,1361.1 1058.5,1361.4 1061.2,1362.2 1063.9,1362.8 1066.5,1363.4 1068.9,1363.6 1070.9,1363.7 1072.7,1363.7 1074.4,1363.3 1076.0,1362.9 1077.6,1362.4 1079.1,1362.3 1080.5,1361.6 1081.9,1361.0 1083.3,1360.3 1084.6,1359.2 1085.8,1358.4 1087.0,1357.4 1088.1,1356.4 1089.1,1355.7 1090.0,1354.4 1091.0,1353.0 1092.0,1351.9 1093.0,1350.2 1094.0,1348.2 1095.0,1346.6 1096.0,1344.5 1097.0,1342.3 1098.0,1340.0 1098.9,1337.6 1099.6,1335.1 1100.3,1333.0 1100.9,1330.5 1101.5,1328.1 1102.1,1325.4 1102.8,1323.0 1103.4,1320.6 1104.1,1318.0 1104.8,1315.4 1105.5,1312.7 1106.2,1310.1 1107.0,1307.4 1107.8,1305.1 1108.7,1302.9 1109.6,1300.5 1110.6,1298.4 1111.6,1296.6 1112.7,1294.5 1113.9,1292.9 1115.0,1290.9 1116.2,1289.4 1117.4,1287.5 1118.5,1285.7 1119.7,1284.2 1120.8,1282.7 1121.8,1281.2 1122.9,1279.8 1124.0,1278.4 1125.2,1277.4 1126.5,1276.0 1127.7,1275.2 1128.8,1274.3 1129.7,1274.3 1130.5,1274.4 1131.2,1274.8 1132.0,1275.5 1132.8,1276.3 1133.6,1276.8 1134.4,1277.8 1135.3,1279.0 1136.2,1280.4 1137.1,1281.8 1138.0,1283.6 1139.0,1285.6 1140.0,1287.6 1141.1,1289.9 1142.2,1292.4 1143.1,1294.8 1143.9,1296.7 1144.5,1298.6 1145.2,1300.8 1145.8,1303.2 1146.4,1304.9 1147.0,1307.0 1147.6,1309.3 1148.3,1311.3 1149.1,1314.2 1150.0,1316.7 1151.0,1319.6 1152.0,1322.5 1153.0,1325.2 1154.0,1328.3 1155.1,1330.9 1156.1,1333.8 1157.1,1336.5 1158.1,1338.8 1159.0,1341.7 1160.0,1344.1 1161.0,1346.3 1161.9,1348.8 1162.9,1350.9 1163.9,1353.2 1164.9,1355.3 1165.9,1357.0 1166.9,1358.8 1168.0,1360.4 1169.2,1362.2 1170.5,1363.6 1171.8,1365.0 1173.0,1366.0 1174.2,1367.5 1175.3,1368.3 1176.4,1369.5 1177.5,1370.4 1178.6,1371.6 1179.7,1372.2 1180.9,1373.2 1182.1,1374.0 1183.5,1374.6 1185.0,1375.1 1186.5,1375.9 1188.0,1376.5 1189.4,1376.7 1190.8,1377.4 1192.3,1377.5 1193.8,1377.8 1195.5,1378.1 1197.3,1378.4 1199.2,1378.3 1201.0,1378.3 1202.8,1378.0 1204.6,1378.1 1206.3,1377.8 1208.1,1377.7 1209.9,1377.7 1211.6,1377.4 1213.3,1377.1 1215.0,1377.0 1216.6,1376.7 1218.1,1376.4 1219.6,1375.9 1221.1,1375.3 1222.7,1374.8 1224.3,1374.7 1225.9,1374.1 1227.5,1373.6 1229.2,1373.4 1230.9,1372.9 1232.6,1372.6 1234.1,1372.1 1235.4,1371.8 1236.6,1371.1 1237.8,1371.1 1239.0,1370.5 1240.4,1370.2 1241.8,1369.6 1243.2,1369.1 1244.5,1368.7 1245.7,1368.3 1246.8,1368.2 1247.8,1367.5 1249.0,1367.2 1250.4,1366.9 1251.9,1366.2 1253.3,1365.7 1254.3,1365.4" fill="none" stroke="#7f00ff" stroke-width="2"/>
<rect x="762.3" y="1068.9" width="494.70000000000005" height="386.0999999999999" fill="none" stroke="#000" stroke-width="3.6"/>
<line x1="807.8" y1="1455" x2="807.8" y2="1448" stroke="#000" stroke-width="3"/>
<line x1="920.0" y1="1455" x2="920.0" y2="1448" stroke="#000" stroke-width="3"/>
<line x1="1032.2" y1="1455" x2="1032.2" y2="1448" stroke="#000" stroke-width="3"/>
<line x1="1144.4" y1="1455" x2="1144.4" y2="1448" stroke="#000" stroke-width="3"/>
<line x1="863.9" y1="1455" x2="863.9" y2="1451.5" stroke="#000" stroke-width="2.5"/>
<line x1="976.1" y1="1455" x2="976.1" y2="1451.5" stroke="#000" stroke-width="2.5"/>
<line x1="1088.3" y1="1455" x2="1088.3" y2="1451.5" stroke="#000" stroke-width="2.5"/>
<line x1="1200.5" y1="1455" x2="1200.5" y2="1451.5" stroke="#000" stroke-width="2.5"/>
<line x1="762.3" y1="1127.2" x2="769.3" y2="1127.2" stroke="#000" stroke-width="3"/>
<line x1="762.3" y1="1208.9" x2="769.3" y2="1208.9" stroke="#000" stroke-width="3"/>
<line x1="762.3" y1="1290.5" x2="769.3" y2="1290.5" stroke="#000" stroke-width="3"/>
<line x1="762.3" y1="1372.2" x2="769.3" y2="1372.2" stroke="#000" stroke-width="3"/>
<line x1="762.3" y1="1453.9" x2="769.3" y2="1453.9" stroke="#000" stroke-width="3"/>
<line x1="762.3" y1="1086.4" x2="765.8" y2="1086.4" stroke="#000" stroke-width="2.5"/>
<line x1="762.3" y1="1168.1" x2="765.8" y2="1168.1" stroke="#000" stroke-width="2.5"/>
<line x1="762.3" y1="1249.7" x2="765.8" y2="1249.7" stroke="#000" stroke-width="2.5"/>
<line x1="762.3" y1="1331.4" x2="765.8" y2="1331.4" stroke="#000" stroke-width="2.5"/>
<line x1="762.3" y1="1413.0" x2="765.8" y2="1413.0" stroke="#000" stroke-width="2.5"/>
<line x1="1257" y1="1134.2" x2="1250" y2="1134.2" stroke="#000" stroke-width="3"/>
<line x1="1257" y1="1264.8" x2="1250" y2="1264.8" stroke="#000" stroke-width="3"/>
<line x1="1257" y1="1395.4" x2="1250" y2="1395.4" stroke="#000" stroke-width="3"/>
<line x1="1257" y1="1199.5" x2="1253.5" y2="1199.5" stroke="#000" stroke-width="2.5"/>
<line x1="1257" y1="1330.1" x2="1253.5" y2="1330.1" stroke="#000" stroke-width="2.5"/>
<text transform="translate(723.73,1134.63) scale(1.0216,1)" font-family="'Liberation Serif'" font-size="23.68" font-weight="normal" font-style="normal" fill="#000" >0.3</text>
<text transform="translate(723.72,1215.82) scale(1.0241,1)" font-family="'Liberation Serif'" font-size="23.82" font-weight="normal" font-style="normal" fill="#000" >0.2</text>
<text transform="translate(723.72,1297.32) scale(1.0266,1)" font-family="'Liberation Serif'" font-size="23.97" font-weight="normal" font-style="normal" fill="#000" >0.1</text>
<text x="723.73" y="1378.92" font-family="'Liberation Serif'" font-size="23.97" font-weight="normal" font-style="normal" fill="#000" >0.0</text>
<text transform="translate(715.87,1460.81) scale(0.9607,1)" font-family="'Liberation Serif'" font-size="24.26" font-weight="normal" font-style="normal" fill="#000" >-0.1</text>
<text x="786.71" y="1481.92" font-family="'Liberation Serif'" font-size="24.12" font-weight="normal" font-style="normal" fill="#000" >460</text>
<text transform="translate(898.79,1481.92) scale(1.0481,1)" font-family="'Liberation Serif'" font-size="24.12" font-weight="normal" font-style="normal" fill="#000" >470</text>
<text transform="translate(1010.90,1481.92) scale(1.0452,1)" font-family="'Liberation Serif'" font-size="24.12" font-weight="normal" font-style="normal" fill="#000" >480</text>
<text transform="translate(1123.10,1481.92) scale(1.0366,1)" font-family="'Liberation Serif'" font-size="24.12" font-weight="normal" font-style="normal" fill="#000" >490</text>
<text transform="translate(1234.18,1481.92) scale(1.0484,1)" font-family="'Liberation Serif'" font-size="24.12" font-weight="normal" font-style="normal" fill="#000" >500</text>
<text x="1264.84" y="1142.92" font-family="'Liberation Serif'" font-size="23.97" font-weight="normal" font-style="normal" fill="#000" >0.08</text>
<text transform="translate(1264.85,1273.01) scale(0.9629,1)" font-family="'Liberation Serif'" font-size="24.56" font-weight="normal" font-style="normal" fill="#000" >0.04</text>
<text x="1264.84" y="1402.11" font-family="'Liberation Serif'" font-size="24.56" font-weight="normal" font-style="normal" fill="#000" >0.00</text>
<text transform="translate(902.91,1512.04) scale(1.0764,1)" font-family="'Liberation Serif'" font-size="24.56" font-weight="normal" font-style="normal" fill="#000" >Photon Energy (eV)</text>
<g transform="translate(682.50,1334.60) rotate(-90)"><text transform="translate(-0.66,23.61) scale(0.9636,1)" font-family="'Liberation Serif'" font-size="34.22" font-weight="normal" font-style="normal" fill="#000" >XAS (a.u.)</text></g>
<g transform="translate(1344.00,1183.10) rotate(90)"><text x="-0.66" y="23.00" font-family="'Liberation Serif'" font-size="33.33" font-weight="normal" font-style="normal" fill="#000" >XMLD (a.u.)</text></g>
<text x="906.44" y="1107.19" font-family="'Liberation Serif'" font-size="25.29" font-weight="normal" font-style="normal" fill="#000" >RuO</text>
<text transform="translate(953.35,1113.83) scale(1.1235,1)" font-family="'Liberation Serif'" font-size="16.72" font-weight="normal" font-style="normal" fill="#000" >2</text>
<text transform="translate(961.79,1106.84) scale(1.0488,1)" font-family="'Liberation Serif'" font-size="24.11" font-weight="normal" font-style="normal" fill="#000" >(101)</text>
<line x1="1082.3" y1="1103.2" x2="1120" y2="1103.2" stroke="#000" stroke-width="1.8"/>
<line x1="1082.3" y1="1127.9" x2="1120" y2="1127.9" stroke="#ff0000" stroke-width="1.8"/>
<line x1="1082.3" y1="1150.7" x2="1120" y2="1150.7" stroke="#7f00ff" stroke-width="1.8"/>
<text transform="translate(1130.03,1110.90) scale(0.9381,1)" font-family="'Liberation Serif'" font-size="18.56" font-weight="bold" font-style="italic" fill="#000" >&#981;</text>
<text transform="translate(1141.34,1111.25) scale(1.0939,1)" font-family="'Liberation Serif'" font-size="21.20" font-weight="normal" font-style="normal" fill="#000" >=</text>
<text transform="translate(1156.98,1110.14) scale(1.1306,1)" font-family="'Liberation Serif'" font-size="18.24" font-weight="normal" font-style="normal" fill="#000" >0&#176;</text>
<text transform="translate(1130.03,1135.07) scale(0.9792,1)" font-family="'Liberation Serif'" font-size="17.78" font-weight="bold" font-style="italic" fill="#000" >&#981;</text>
<text transform="translate(1141.34,1135.95) scale(1.0939,1)" font-family="'Liberation Serif'" font-size="21.20" font-weight="normal" font-style="normal" fill="#000" >=</text>
<text transform="translate(1157.21,1134.74) scale(1.0931,1)" font-family="'Liberation Serif'" font-size="18.09" font-weight="normal" font-style="normal" fill="#000" >90&#176;</text>
<text transform="translate(1129.12,1158.57) scale(0.9481,1)" font-family="'Liberation Serif'" font-size="20.24" font-weight="normal" font-style="normal" fill="#000" >Total_XAS</text>
<rect x="1084.8" y="1171.7" width="36.4" height="16.2" fill="#00ee00" stroke="#806080" stroke-width="0.6"/>
<text transform="translate(1130.53,1187.21) scale(0.9761,1)" font-family="'Liberation Serif'" font-size="18.79" font-weight="normal" font-style="normal" fill="#000" >XMLD</text>
<text x="1084.84" y="1208.74" font-family="'Liberation Serif'" font-size="18.09" font-weight="normal" font-style="normal" fill="#000" >XMLD = 2.2 %</text>
<line x1="854.1" y1="1226.0" x2="811.5" y2="1226.0" stroke="#000" stroke-width="2.2"/><polyline points="818.5,1220.5 811.5,1226.0 818.5,1231.5" fill="none" stroke="#000" stroke-width="2.2" stroke-linejoin="miter"/>
<line x1="1189.3" y1="1409.7" x2="1238.5" y2="1409.7" stroke="#00ee00" stroke-width="2.4"/><polyline points="1223.5,1414.7 1238.5,1409.7 1223.5,1404.7" fill="none" stroke="#00ee00" stroke-width="2.4" stroke-linejoin="miter"/>
<polygon points="1480.6,1216.5 1488.0,1215.5 1496.3,1215.2 1501.6,1217.4 1508.0,1217.0 1514.7,1216.5 1517.3,1215.6 1522.6,1218.2 1527.8,1216.1 1532.0,1217.0 1535.7,1218.5 1542.2,1225.0 1548.0,1229.5 1554.0,1233.6 1560.0,1232.0 1567.1,1230.3 1572.4,1227.7 1577.6,1234.2 1581.5,1232.3 1583.5,1235.5 1586.8,1232.3 1596.0,1232.6 1606.4,1232.9 1609.1,1239.5 1613.0,1234.9 1622.2,1235.5 1628.7,1232.3 1634.0,1231.5 1639.2,1230.9 1643.1,1227.7 1649.7,1227.4 1653.6,1219.8 1658.9,1215.2 1664.1,1217.2 1670.7,1205.4 1679.8,1195.6 1689.0,1201.5 1696.9,1194.9 1704.7,1194.2 1711.3,1191.6 1721.8,1194.2 1727.0,1183.8 1732.3,1182.5 1739.1,1185.0 1744.3,1183.7 1749.5,1186.3 1754.7,1188.2 1760.6,1194.1 1765.1,1189.5 1770.3,1202.5 1775.5,1207.1 1782.0,1212.3 1791.1,1213.6 1797.0,1204.5 1802.2,1211.0 1807.4,1203.8 1813.2,1214.9 1818.4,1219.4 1823.0,1215.5 1827.6,1224.6 1832.8,1223.3 1838.6,1231.8 1844.5,1227.2 1853.6,1224.0 1865.3,1228.5 1874.4,1222.0 1886.1,1227.2 1891.3,1227.2 1897.8,1222.7 1912.1,1222.0 1922.5,1225.9 1930.3,1222.0 1938.1,1227.2 1944.6,1231.1 1948.5,1225.9 1952.4,1230.5 1956.3,1224.0 1965.4,1224.6 1970.6,1221.4 1977.1,1220.1 1980.4,1219.4 1980.4,1219.4 1480.6,1219.2" fill="#aa58ac"/><polyline points="1480.6,1216.5 1488.0,1215.5 1496.3,1215.2 1501.6,1217.4 1508.0,1217.0 1514.7,1216.5 1517.3,1215.6 1522.6,1218.2 1527.8,1216.1 1532.0,1217.0 1535.7,1218.5 1542.2,1225.0 1548.0,1229.5 1554.0,1233.6 1560.0,1232.0 1567.1,1230.3 1572.4,1227.7 1577.6,1234.2 1581.5,1232.3 1583.5,1235.5 1586.8,1232.3 1596.0,1232.6 1606.4,1232.9 1609.1,1239.5 1613.0,1234.9 1622.2,1235.5 1628.7,1232.3 1634.0,1231.5 1639.2,1230.9 1643.1,1227.7 1649.7,1227.4 1653.6,1219.8 1658.9,1215.2 1664.1,1217.2 1670.7,1205.4 1679.8,1195.6 1689.0,1201.5 1696.9,1194.9 1704.7,1194.2 1711.3,1191.6 1721.8,1194.2 1727.0,1183.8 1732.3,1182.5 1739.1,1185.0 1744.3,1183.7 1749.5,1186.3 1754.7,1188.2 1760.6,1194.1 1765.1,1189.5 1770.3,1202.5 1775.5,1207.1 1782.0,1212.3 1791.1,1213.6 1797.0,1204.5 1802.2,1211.0 1807.4,1203.8 1813.2,1214.9 1818.4,1219.4 1823.0,1215.5 1827.6,1224.6 1832.8,1223.3 1838.6,1231.8 1844.5,1227.2 1853.6,1224.0 1865.3,1228.5 1874.4,1222.0 1886.1,1227.2 1891.3,1227.2 1897.8,1222.7 1912.1,1222.0 1922.5,1225.9 1930.3,1222.0 1938.1,1227.2 1944.6,1231.1 1948.5,1225.9 1952.4,1230.5 1956.3,1224.0 1965.4,1224.6 1970.6,1221.4 1977.1,1220.1 1980.4,1219.4" fill="none" stroke="#b870bb" stroke-width="4.2" stroke-linejoin="round"/><line x1="1480.6" y1="1219.2" x2="1980.4" y2="1219.4" stroke="#b870bb" stroke-width="4.2"/><polyline points="1480.6,1216.5 1488.0,1215.5 1496.3,1215.2 1501.6,1217.4 1508.0,1217.0 1514.7,1216.5 1517.3,1215.6 1522.6,1218.2 1527.8,1216.1 1532.0,1217.0 1535.7,1218.5 1542.2,1225.0 1548.0,1229.5 1554.0,1233.6 1560.0,1232.0 1567.1,1230.3 1572.4,1227.7 1577.6,1234.2 1581.5,1232.3 1583.5,1235.5 1586.8,1232.3 1596.0,1232.6 1606.4,1232.9 1609.1,1239.5 1613.0,1234.9 1622.2,1235.5 1628.7,1232.3 1634.0,1231.5 1639.2,1230.9 1643.1,1227.7 1649.7,1227.4 1653.6,1219.8 1658.9,1215.2 1664.1,1217.2 1670.7,1205.4 1679.8,1195.6 1689.0,1201.5 1696.9,1194.9 1704.7,1194.2 1711.3,1191.6 1721.8,1194.2 1727.0,1183.8 1732.3,1182.5 1739.1,1185.0 1744.3,1183.7 1749.5,1186.3 1754.7,1188.2 1760.6,1194.1 1765.1,1189.5 1770.3,1202.5 1775.5,1207.1 1782.0,1212.3 1791.1,1213.6 1797.0,1204.5 1802.2,1211.0 1807.4,1203.8 1813.2,1214.9 1818.4,1219.4 1823.0,1215.5 1827.6,1224.6 1832.8,1223.3 1838.6,1231.8 1844.5,1227.2 1853.6,1224.0 1865.3,1228.5 1874.4,1222.0 1886.1,1227.2 1891.3,1227.2 1897.8,1222.7 1912.1,1222.0 1922.5,1225.9 1930.3,1222.0 1938.1,1227.2 1944.6,1231.1 1948.5,1225.9 1952.4,1230.5 1956.3,1224.0 1965.4,1224.6 1970.6,1221.4 1977.1,1220.1 1980.4,1219.4" fill="none" stroke="#8a1a8e" stroke-width="2.2" stroke-linejoin="round"/><line x1="1480.6" y1="1219.2" x2="1980.4" y2="1219.4" stroke="#8a1a8e" stroke-width="2.2"/>
<polygon points="1480.6,1302.4 1484.6,1300.4 1489.8,1302.4 1496.3,1297.1 1502.0,1297.0 1508.1,1297.8 1514.7,1299.7 1521.2,1302.4 1529.1,1301.1 1538.3,1303.7 1543.5,1308.9 1548.0,1312.0 1554.0,1315.5 1561.0,1317.0 1568.4,1319.4 1577.6,1319.4 1582.8,1322.7 1593.3,1323.3 1597.3,1320.1 1603.0,1321.5 1609.1,1323.3 1613.0,1318.8 1622.2,1319.4 1630.0,1317.5 1639.2,1314.8 1648.4,1312.2 1653.0,1303.0 1658.9,1300.4 1664.1,1302.4 1672.0,1288.0 1679.8,1280.1 1683.8,1282.1 1687.7,1280.1 1700.8,1278.8 1713.9,1276.2 1720.5,1272.2 1728.3,1268.3 1733.9,1267.6 1739.1,1270.2 1744.3,1268.2 1749.5,1270.8 1756.0,1274.1 1760.6,1278.6 1763.8,1277.3 1770.3,1287.1 1775.5,1291.6 1782.0,1296.8 1791.1,1298.1 1797.0,1302.0 1798.9,1298.1 1802.2,1301.4 1804.8,1298.1 1809.3,1302.7 1813.2,1299.4 1818.4,1304.0 1823.0,1300.7 1827.6,1309.2 1832.8,1308.5 1838.6,1316.3 1844.5,1311.8 1853.6,1309.2 1865.3,1313.1 1875.7,1306.6 1886.1,1311.8 1892.6,1311.1 1897.8,1307.9 1912.1,1306.6 1922.5,1309.8 1929.0,1306.6 1934.2,1307.2 1938.1,1311.1 1944.6,1315.0 1948.5,1310.5 1952.4,1314.4 1956.3,1307.9 1958.9,1309.2 1964.1,1307.9 1970.6,1304.6 1977.1,1304.6 1980.4,1305.9 1980.4,1306.8 1480.6,1303.8" fill="#fdae5e"/><polyline points="1480.6,1302.4 1484.6,1300.4 1489.8,1302.4 1496.3,1297.1 1502.0,1297.0 1508.1,1297.8 1514.7,1299.7 1521.2,1302.4 1529.1,1301.1 1538.3,1303.7 1543.5,1308.9 1548.0,1312.0 1554.0,1315.5 1561.0,1317.0 1568.4,1319.4 1577.6,1319.4 1582.8,1322.7 1593.3,1323.3 1597.3,1320.1 1603.0,1321.5 1609.1,1323.3 1613.0,1318.8 1622.2,1319.4 1630.0,1317.5 1639.2,1314.8 1648.4,1312.2 1653.0,1303.0 1658.9,1300.4 1664.1,1302.4 1672.0,1288.0 1679.8,1280.1 1683.8,1282.1 1687.7,1280.1 1700.8,1278.8 1713.9,1276.2 1720.5,1272.2 1728.3,1268.3 1733.9,1267.6 1739.1,1270.2 1744.3,1268.2 1749.5,1270.8 1756.0,1274.1 1760.6,1278.6 1763.8,1277.3 1770.3,1287.1 1775.5,1291.6 1782.0,1296.8 1791.1,1298.1 1797.0,1302.0 1798.9,1298.1 1802.2,1301.4 1804.8,1298.1 1809.3,1302.7 1813.2,1299.4 1818.4,1304.0 1823.0,1300.7 1827.6,1309.2 1832.8,1308.5 1838.6,1316.3 1844.5,1311.8 1853.6,1309.2 1865.3,1313.1 1875.7,1306.6 1886.1,1311.8 1892.6,1311.1 1897.8,1307.9 1912.1,1306.6 1922.5,1309.8 1929.0,1306.6 1934.2,1307.2 1938.1,1311.1 1944.6,1315.0 1948.5,1310.5 1952.4,1314.4 1956.3,1307.9 1958.9,1309.2 1964.1,1307.9 1970.6,1304.6 1977.1,1304.6 1980.4,1305.9" fill="none" stroke="#fcb870" stroke-width="4.2" stroke-linejoin="round"/><line x1="1480.6" y1="1303.8" x2="1980.4" y2="1306.8" stroke="#fcb870" stroke-width="4.2"/><polyline points="1480.6,1302.4 1484.6,1300.4 1489.8,1302.4 1496.3,1297.1 1502.0,1297.0 1508.1,1297.8 1514.7,1299.7 1521.2,1302.4 1529.1,1301.1 1538.3,1303.7 1543.5,1308.9 1548.0,1312.0 1554.0,1315.5 1561.0,1317.0 1568.4,1319.4 1577.6,1319.4 1582.8,1322.7 1593.3,1323.3 1597.3,1320.1 1603.0,1321.5 1609.1,1323.3 1613.0,1318.8 1622.2,1319.4 1630.0,1317.5 1639.2,1314.8 1648.4,1312.2 1653.0,1303.0 1658.9,1300.4 1664.1,1302.4 1672.0,1288.0 1679.8,1280.1 1683.8,1282.1 1687.7,1280.1 1700.8,1278.8 1713.9,1276.2 1720.5,1272.2 1728.3,1268.3 1733.9,1267.6 1739.1,1270.2 1744.3,1268.2 1749.5,1270.8 1756.0,1274.1 1760.6,1278.6 1763.8,1277.3 1770.3,1287.1 1775.5,1291.6 1782.0,1296.8 1791.1,1298.1 1797.0,1302.0 1798.9,1298.1 1802.2,1301.4 1804.8,1298.1 1809.3,1302.7 1813.2,1299.4 1818.4,1304.0 1823.0,1300.7 1827.6,1309.2 1832.8,1308.5 1838.6,1316.3 1844.5,1311.8 1853.6,1309.2 1865.3,1313.1 1875.7,1306.6 1886.1,1311.8 1892.6,1311.1 1897.8,1307.9 1912.1,1306.6 1922.5,1309.8 1929.0,1306.6 1934.2,1307.2 1938.1,1311.1 1944.6,1315.0 1948.5,1310.5 1952.4,1314.4 1956.3,1307.9 1958.9,1309.2 1964.1,1307.9 1970.6,1304.6 1977.1,1304.6 1980.4,1305.9" fill="none" stroke="#f8901e" stroke-width="2.2" stroke-linejoin="round"/><line x1="1480.6" y1="1303.8" x2="1980.4" y2="1306.8" stroke="#f8901e" stroke-width="2.2"/>
<g clip-path="url(#iclip)" fill="#fff" stroke="#2ef2f2" stroke-width="2.1" stroke-linejoin="round"><path d="M1482.5,1369.5 L1491.3,1384.0 L1473.7,1384.0Z"/><path d="M1487.8,1371.3 L1496.5,1385.8 L1479.0,1385.8Z"/><path d="M1493.0,1369.1 L1501.8,1383.6 L1484.2,1383.6Z"/><path d="M1498.2,1371.5 L1507.0,1386.0 L1489.5,1386.0Z"/><path d="M1503.5,1370.4 L1512.3,1384.9 L1494.7,1384.9Z"/><path d="M1508.8,1368.7 L1517.5,1383.2 L1500.0,1383.2Z"/><path d="M1514.0,1371.8 L1522.8,1386.3 L1505.2,1386.3Z"/><path d="M1519.2,1373.2 L1528.0,1387.7 L1510.5,1387.7Z"/><path d="M1524.5,1364.6 L1533.3,1379.1 L1515.7,1379.1Z"/><path d="M1529.8,1370.5 L1538.5,1385.0 L1521.0,1385.0Z"/><path d="M1535.0,1367.6 L1543.8,1382.1 L1526.2,1382.1Z"/><path d="M1540.2,1367.0 L1549.0,1381.5 L1531.5,1381.5Z"/><path d="M1545.5,1367.0 L1554.3,1381.5 L1536.7,1381.5Z"/><path d="M1550.8,1363.7 L1559.5,1378.2 L1542.0,1378.2Z"/><path d="M1556.0,1363.6 L1564.8,1378.1 L1547.2,1378.1Z"/><path d="M1561.2,1363.1 L1570.0,1377.6 L1552.5,1377.6Z"/><path d="M1566.5,1366.9 L1575.3,1381.4 L1557.7,1381.4Z"/><path d="M1571.8,1365.0 L1580.5,1379.5 L1563.0,1379.5Z"/><path d="M1577.0,1366.5 L1585.8,1381.0 L1568.2,1381.0Z"/><path d="M1582.2,1363.7 L1591.0,1378.2 L1573.5,1378.2Z"/><path d="M1587.5,1365.3 L1596.3,1379.8 L1578.7,1379.8Z"/><path d="M1592.8,1366.3 L1601.5,1380.8 L1584.0,1380.8Z"/><path d="M1598.0,1370.5 L1606.8,1385.0 L1589.2,1385.0Z"/><path d="M1603.2,1371.4 L1612.0,1385.9 L1594.5,1385.9Z"/><path d="M1608.5,1374.9 L1617.3,1389.4 L1599.7,1389.4Z"/><path d="M1613.8,1371.0 L1622.5,1385.5 L1605.0,1385.5Z"/><path d="M1619.0,1370.4 L1627.8,1384.9 L1610.2,1384.9Z"/><path d="M1624.2,1371.1 L1633.0,1385.6 L1615.5,1385.6Z"/><path d="M1629.5,1367.3 L1638.3,1381.8 L1620.7,1381.8Z"/><path d="M1634.8,1367.0 L1643.5,1381.5 L1626.0,1381.5Z"/><path d="M1640.0,1366.5 L1648.8,1381.0 L1631.2,1381.0Z"/><path d="M1645.2,1376.1 L1654.0,1390.6 L1636.5,1390.6Z"/><path d="M1650.5,1368.2 L1659.3,1382.7 L1641.7,1382.7Z"/><path d="M1655.8,1366.5 L1664.5,1381.0 L1647.0,1381.0Z"/><path d="M1661.0,1367.6 L1669.8,1382.1 L1652.2,1382.1Z"/><path d="M1666.2,1365.7 L1675.0,1380.2 L1657.5,1380.2Z"/><path d="M1671.5,1367.5 L1680.3,1382.0 L1662.7,1382.0Z"/><path d="M1676.8,1369.2 L1685.5,1383.7 L1668.0,1383.7Z"/><path d="M1682.0,1370.2 L1690.8,1384.7 L1673.2,1384.7Z"/><path d="M1687.2,1369.5 L1696.0,1384.0 L1678.5,1384.0Z"/><path d="M1692.5,1372.8 L1701.3,1387.3 L1683.7,1387.3Z"/><path d="M1697.8,1372.7 L1706.5,1387.2 L1689.0,1387.2Z"/><path d="M1703.0,1373.6 L1711.8,1388.1 L1694.2,1388.1Z"/><path d="M1708.2,1371.3 L1717.0,1385.8 L1699.5,1385.8Z"/><path d="M1713.5,1373.5 L1722.3,1388.0 L1704.7,1388.0Z"/><path d="M1718.8,1372.9 L1727.5,1387.4 L1710.0,1387.4Z"/><path d="M1724.0,1370.5 L1732.8,1385.0 L1715.2,1385.0Z"/><path d="M1729.2,1373.3 L1738.0,1387.8 L1720.5,1387.8Z"/><path d="M1734.5,1370.5 L1743.3,1385.0 L1725.7,1385.0Z"/><path d="M1739.8,1374.4 L1748.5,1388.9 L1731.0,1388.9Z"/><path d="M1745.0,1375.5 L1753.8,1390.0 L1736.2,1390.0Z"/><path d="M1750.2,1375.0 L1759.0,1389.5 L1741.5,1389.5Z"/><path d="M1755.5,1377.8 L1764.3,1392.3 L1746.7,1392.3Z"/><path d="M1760.8,1378.1 L1769.5,1392.6 L1752.0,1392.6Z"/><path d="M1766.0,1382.1 L1774.8,1396.6 L1757.2,1396.6Z"/><path d="M1771.2,1381.6 L1780.0,1396.1 L1762.5,1396.1Z"/><path d="M1776.5,1379.7 L1785.3,1394.2 L1767.7,1394.2Z"/><path d="M1781.8,1380.5 L1790.5,1395.0 L1773.0,1395.0Z"/><path d="M1787.0,1376.6 L1795.8,1391.1 L1778.2,1391.1Z"/><path d="M1792.2,1378.4 L1801.0,1392.9 L1783.5,1392.9Z"/><path d="M1797.5,1377.3 L1806.3,1391.8 L1788.7,1391.8Z"/><path d="M1802.8,1374.5 L1811.5,1389.0 L1794.0,1389.0Z"/><path d="M1808.0,1375.6 L1816.8,1390.1 L1799.2,1390.1Z"/><path d="M1813.2,1373.4 L1822.0,1387.9 L1804.5,1387.9Z"/><path d="M1818.5,1369.0 L1827.3,1383.5 L1809.7,1383.5Z"/><path d="M1823.8,1371.0 L1832.5,1385.5 L1815.0,1385.5Z"/><path d="M1829.0,1371.4 L1837.8,1385.9 L1820.2,1385.9Z"/><path d="M1834.2,1371.1 L1843.0,1385.6 L1825.5,1385.6Z"/><path d="M1839.5,1371.7 L1848.3,1386.2 L1830.7,1386.2Z"/><path d="M1844.8,1373.3 L1853.5,1387.8 L1836.0,1387.8Z"/><path d="M1850.0,1370.9 L1858.8,1385.4 L1841.2,1385.4Z"/><path d="M1855.2,1372.3 L1864.0,1386.8 L1846.5,1386.8Z"/><path d="M1860.5,1373.6 L1869.3,1388.1 L1851.7,1388.1Z"/><path d="M1865.8,1371.4 L1874.5,1385.9 L1857.0,1385.9Z"/><path d="M1871.0,1372.6 L1879.8,1387.1 L1862.2,1387.1Z"/><path d="M1876.2,1375.8 L1885.0,1390.3 L1867.5,1390.3Z"/><path d="M1881.5,1376.0 L1890.3,1390.5 L1872.7,1390.5Z"/><path d="M1886.8,1373.9 L1895.5,1388.4 L1878.0,1388.4Z"/><path d="M1892.0,1375.1 L1900.8,1389.6 L1883.2,1389.6Z"/><path d="M1897.2,1378.6 L1906.0,1393.1 L1888.5,1393.1Z"/><path d="M1902.5,1378.1 L1911.3,1392.6 L1893.7,1392.6Z"/><path d="M1907.8,1376.3 L1916.5,1390.8 L1899.0,1390.8Z"/><path d="M1913.0,1377.9 L1921.8,1392.4 L1904.2,1392.4Z"/><path d="M1918.2,1378.2 L1927.0,1392.7 L1909.5,1392.7Z"/><path d="M1923.5,1380.3 L1932.3,1394.8 L1914.7,1394.8Z"/><path d="M1928.8,1381.0 L1937.5,1395.5 L1920.0,1395.5Z"/><path d="M1934.0,1380.2 L1942.8,1394.7 L1925.2,1394.7Z"/><path d="M1939.2,1377.8 L1948.0,1392.3 L1930.5,1392.3Z"/><path d="M1944.5,1381.6 L1953.3,1396.1 L1935.7,1396.1Z"/><path d="M1949.8,1381.0 L1958.5,1395.5 L1941.0,1395.5Z"/><path d="M1955.0,1380.2 L1963.8,1394.7 L1946.2,1394.7Z"/><path d="M1960.2,1378.1 L1969.0,1392.6 L1951.5,1392.6Z"/><path d="M1965.5,1379.0 L1974.3,1393.5 L1956.7,1393.5Z"/><path d="M1970.8,1378.5 L1979.5,1393.0 L1962.0,1393.0Z"/><path d="M1976.0,1380.3 L1984.8,1394.8 L1967.2,1394.8Z"/></g>
<rect x="1480" y="1066.4" width="501.70000000000005" height="389.5999999999999" fill="none" stroke="#000" stroke-width="3.8"/>
<line x1="1585.6" y1="1456" x2="1585.6" y2="1449" stroke="#000" stroke-width="3"/>
<line x1="1717.8" y1="1456" x2="1717.8" y2="1449" stroke="#000" stroke-width="3"/>
<line x1="1850.0" y1="1456" x2="1850.0" y2="1449" stroke="#000" stroke-width="3"/>
<line x1="1519.5" y1="1456" x2="1519.5" y2="1452.5" stroke="#000" stroke-width="2.5"/>
<line x1="1651.7" y1="1456" x2="1651.7" y2="1452.5" stroke="#000" stroke-width="2.5"/>
<line x1="1783.9" y1="1456" x2="1783.9" y2="1452.5" stroke="#000" stroke-width="2.5"/>
<line x1="1916.1" y1="1456" x2="1916.1" y2="1452.5" stroke="#000" stroke-width="2.5"/>
<line x1="1480" y1="1066.4" x2="1486" y2="1066.4" stroke="#000" stroke-width="3"/>
<line x1="1480" y1="1188.1" x2="1486" y2="1188.1" stroke="#000" stroke-width="3"/>
<line x1="1480" y1="1309.7" x2="1486" y2="1309.7" stroke="#000" stroke-width="3"/>
<line x1="1480" y1="1431.3" x2="1486" y2="1431.3" stroke="#000" stroke-width="3"/>
<line x1="1480" y1="1127.2" x2="1483.5" y2="1127.2" stroke="#000" stroke-width="2.5"/>
<line x1="1480" y1="1248.9" x2="1483.5" y2="1248.9" stroke="#000" stroke-width="2.5"/>
<line x1="1480" y1="1370.5" x2="1483.5" y2="1370.5" stroke="#000" stroke-width="2.5"/>
<text transform="translate(1427.81,1073.54) scale(1.0751,1)" font-family="'Liberation Serif'" font-size="23.09" font-weight="normal" font-style="normal" fill="#000" >0.06</text>
<text transform="translate(1427.82,1195.64) scale(1.0624,1)" font-family="'Liberation Serif'" font-size="23.09" font-weight="normal" font-style="normal" fill="#000" >0.04</text>
<text transform="translate(1427.80,1317.03) scale(1.0610,1)" font-family="'Liberation Serif'" font-size="23.68" font-weight="normal" font-style="normal" fill="#000" >0.02</text>
<text transform="translate(1427.80,1439.11) scale(1.0229,1)" font-family="'Liberation Serif'" font-size="24.41" font-weight="normal" font-style="normal" fill="#000" >0.00</text>
<text transform="translate(1566.69,1482.91) scale(1.0497,1)" font-family="'Liberation Serif'" font-size="24.41" font-weight="normal" font-style="normal" fill="#000" >460</text>
<text transform="translate(1698.70,1482.91) scale(1.0241,1)" font-family="'Liberation Serif'" font-size="24.41" font-weight="normal" font-style="normal" fill="#000" >465</text>
<text transform="translate(1830.80,1482.91) scale(1.0298,1)" font-family="'Liberation Serif'" font-size="24.41" font-weight="normal" font-style="normal" fill="#000" >470</text>
<text x="1962.70" y="1483.15" font-family="'Liberation Serif'" font-size="25.15" font-weight="normal" font-style="normal" fill="#000" >475</text>
<text transform="translate(1599.47,1522.97) scale(1.1048,1)" font-family="'Liberation Serif'" font-size="31.11" font-weight="normal" font-style="normal" fill="#000" >Photon Energy (eV)</text>
<g transform="translate(1381.70,1411.60) rotate(-90)"><text x="-0.66" y="23.08" font-family="'Liberation Serif'" font-size="33.44" font-weight="normal" font-style="normal" fill="#000" >XMLD Intensity (a.u.)</text></g>
<rect x="1812.8" y="1085.2" width="41.2" height="20.4" fill="#aa58ac" stroke="#6a6a6a" stroke-width="0.7"/>
<rect x="1812.8" y="1115.4" width="41.2" height="19.1" fill="#fdae5e" stroke="#6a6a6a" stroke-width="0.7"/>
<path d="M1833.3,1145.3 L1841.6,1159.2 L1825.1,1159.2Z" fill="none" stroke="#30ffff" stroke-width="2.6" stroke-linejoin="round"/>
<text transform="translate(1864.84,1103.88) scale(1.0353,1)" font-family="'Liberation Serif'" font-size="21.18" font-weight="normal" font-style="normal" fill="#000" >RuO</text>
<text transform="translate(1904.81,1108.86) scale(1.0543,1)" font-family="'Liberation Serif'" font-size="13.88" font-weight="normal" font-style="normal" fill="#000" >2</text>
<text transform="translate(1911.35,1103.93) scale(1.0474,1)" font-family="'Liberation Serif'" font-size="20.33" font-weight="normal" font-style="normal" fill="#000" >(101)</text>
<text transform="translate(1864.84,1133.27) scale(1.0281,1)" font-family="'Liberation Serif'" font-size="21.32" font-weight="normal" font-style="normal" fill="#000" >RuO</text>
<text transform="translate(1904.81,1137.76) scale(1.0543,1)" font-family="'Liberation Serif'" font-size="13.88" font-weight="normal" font-style="normal" fill="#000" >2</text>
<text transform="translate(1911.34,1133.14) scale(1.0400,1)" font-family="'Liberation Serif'" font-size="20.78" font-weight="normal" font-style="normal" fill="#000" >(110)</text>
<text transform="translate(1864.84,1162.17) scale(1.0281,1)" font-family="'Liberation Serif'" font-size="21.32" font-weight="normal" font-style="normal" fill="#000" >RuO</text>
<text transform="translate(1904.81,1167.55) scale(0.9613,1)" font-family="'Liberation Serif'" font-size="15.22" font-weight="normal" font-style="normal" fill="#000" >2</text>
<text transform="translate(1911.35,1162.04) scale(1.0250,1)" font-family="'Liberation Serif'" font-size="20.78" font-weight="normal" font-style="normal" fill="#000" >(001)</text>
<rect x="81.2" y="582.0" width="498.50000000000006" height="211.5" fill="url(#lat)"/>
<rect x="81.2" y="582.0" width="498.50000000000006" height="208.5" fill="url(#fshade)"/>
<rect x="81.2" y="582.0" width="498.50000000000006" height="208.5" fill="url(#fhz)"/>
<rect x="81.2" y="787.5" width="498.50000000000006" height="13" fill="url(#fedge)"/>
<rect x="81.2" y="799.0" width="498.50000000000006" height="166.79999999999995" fill="#111"/>
<rect x="81.2" y="582.0" width="498.50000000000006" height="1.2" fill="#6a6a6a"/>
<rect x="103.3" y="946.6" width="127.5" height="6.8" fill="#d21e1e"/>
<text x="102.64" y="934.33" font-family="'Liberation Serif'" font-size="46.97" font-weight="normal" font-style="normal" fill="#d21e1e" stroke="#d21e1e" stroke-width="0.7">5 nm</text>
<text transform="translate(422.50,726.86) scale(0.9284,1)" font-family="'Liberation Sans'" font-size="44.37" font-weight="normal" font-style="normal" fill="#1414f0" >RuO</text>
<text transform="translate(507.39,738.30) scale(0.9033,1)" font-family="'Liberation Sans'" font-size="31.29" font-weight="normal" font-style="normal" fill="#1414f0" >2</text>
<text x="424.40" y="873.40" font-family="'Liberation Sans'" font-size="43.15" font-weight="normal" font-style="normal" fill="#fff" >Al</text>
<text transform="translate(462.79,883.70) scale(0.9603,1)" font-family="'Liberation Sans'" font-size="29.43" font-weight="normal" font-style="normal" fill="#fff" >2</text>
<text transform="translate(478.28,873.65) scale(1.0247,1)" font-family="'Liberation Sans'" font-size="45.35" font-weight="normal" font-style="normal" fill="#fff" >O</text>
<text transform="translate(513.19,883.40) scale(0.9220,1)" font-family="'Liberation Sans'" font-size="30.00" font-weight="normal" font-style="normal" fill="#fff" >3</text>
<polygon points="153.8,1177.7 243.6,1088.1 269.7,1088.1 180,1177.7" fill="#a6b8e2"/>
<polygon points="180,1177.7 269.7,1088.1 296.8,1088.1 206.2,1177.7" fill="#82d4f4"/>
<rect x="153.8" y="1177.7" width="26.2" height="258.1" fill="#8eaadb"/>
<rect x="180" y="1177.7" width="26.2" height="258.1" fill="#62caf0"/>
<polygon points="206.2,1177.7 296.8,1088.1 296.8,1345.9 206.2,1435.8" fill="#4ea3c8"/>
<line x1="256.8" y1="1134.7" x2="258.3" y2="1374" stroke="#000" stroke-width="4.4" stroke-dasharray="18.5,13"/>
<line x1="213.3" y1="1300.4" x2="299.5" y2="1226.5" stroke="#000" stroke-width="4.2" stroke-dasharray="13,7.5"/>
<g transform="translate(213.30,1321.20) rotate(90)"><text transform="translate(-2.32,25.14) scale(0.9230,1)" font-family="'Liberation Sans'" font-size="35.92" font-weight="bold" font-style="normal" fill="#ff0000" >RuO</text></g>
<g transform="translate(196.30,1388.50) rotate(90)"><text x="-0.70" y="16.10" font-family="'Liberation Sans'" font-size="23.00" font-weight="bold" font-style="normal" fill="#ff0000" >2</text></g>
<line x1="558.5" y1="1255.4" x2="283" y2="1260.2" stroke="#7030a0" stroke-width="6.6"/>
<polygon points="259.7,1260.3 286.3,1251.1 286.3,1270.1" fill="#7030a0"/>
<line x1="359.2" y1="1328.6" x2="500.9" y2="1196" stroke="#000" stroke-width="3.8" stroke-dasharray="12.8,6.4"/>
<line x1="404.5" y1="1335" x2="445.5" y2="1203.5" stroke="#7030a0" stroke-width="5.6"/>
<polygon points="451.9,1183.2 451.6,1214.6 434.4,1209.2" fill="#7030a0"/>
<polygon points="398.5,1354.2 399.4,1322.2 416.8,1328.6" fill="#7030a0"/>
<path d="M438.8,1227.5 Q452,1226 458.9,1240.8" fill="none" stroke="#000" stroke-width="2.2"/>
<text transform="translate(458.85,1214.89) scale(1.0492,1)" font-family="'Liberation Serif'" font-size="45.27" font-weight="normal" font-style="italic" fill="#000" >&#981;</text>
<text transform="translate(426.41,1161.30) scale(0.7590,1)" font-family="'Liberation Serif'" font-size="53.54" font-weight="bold" font-style="italic" fill="#7030a0" >E</text>
<line x1="425" y1="1117.4" x2="457" y2="1117.4" stroke="#7030a0" stroke-width="1.6"/>
<polyline points="451,1113 457.6,1117.4 451,1121.8" fill="none" stroke="#7030a0" stroke-width="1.6"/>
<text transform="translate(480.29,1325.65) scale(1.0392,1)" font-family="'Liberation Sans'" font-size="48.80" font-weight="bold" font-style="normal" fill="#7030a0" >x-ray</text>
<line x1="78.8" y1="1470.9" x2="79.6" y2="1420" stroke="#000" stroke-width="3.8"/>
<polygon points="79.8,1408 71.3,1423 87.7,1423" fill="#000"/>
<line x1="78.8" y1="1470.9" x2="119" y2="1437" stroke="#000" stroke-width="3.8"/>
<polygon points="129,1429.2 112.9,1432 123.3,1444.4" fill="#000"/>
<line x1="77" y1="1470.9" x2="128" y2="1470.9" stroke="#000" stroke-width="3.8"/>
<polygon points="140.4,1470.9 126.2,1463.6 126.2,1478.2" fill="#000"/>
<text transform="translate(51.20,1412.36) scale(1.1347,1)" font-family="'Liberation Sans'" font-size="39.73" font-weight="normal" font-style="italic" fill="#000" >y</text>
<text transform="translate(115.70,1425.40) scale(1.1444,1)" font-family="'Liberation Sans'" font-size="39.25" font-weight="normal" font-style="italic" fill="#000" >x</text>
<text transform="translate(153.74,1483.20) scale(1.1263,1)" font-family="'Liberation Sans'" font-size="39.25" font-weight="normal" font-style="italic" fill="#000" >z</text>
<polygon points="1392,676.2 1889.3,643.5 1972.6,759 1964.4,876.7 1452.6,918.6 1391.8,793" fill="#ccc5bc"/>
<polygon points="1392,676.2 1889.3,643.5 1972.6,759 1456,803" fill="#cec7be"/>
<polygon points="1391.8,690 1448,800 1452.6,918.6 1391.8,793" fill="#fff" fill-opacity="0.10"/>
<line x1="1456" y1="803" x2="1972.6" y2="759" stroke="#efece8" stroke-width="1.6"/>
<text x="1399.89" y="664.22" font-family="'Liberation Sans'" font-size="27.89" font-weight="normal" font-style="normal" fill="#111" >RuO</text>
<text transform="translate(1457.22,669.00) scale(1.1067,1)" font-family="'Liberation Sans'" font-size="14.14" font-weight="normal" font-style="normal" fill="#111" >2</text>
<text transform="translate(1433.07,738.16) scale(1.0783,1)" font-family="'Liberation Sans'" font-size="24.43" font-weight="normal" font-style="normal" fill="#111" >J</text>
<line x1="1455.3" y1="730.5" x2="1513" y2="726.8" stroke="#3a96b4" stroke-width="4.5"/>
<polygon points="1525.5,725.8 1511.5,721.2 1512.5,731.8" fill="#3a96b4"/>
<path d="M1588.3,676.4 A97,35 3.42 0 0 1781,687.9 L1778.8,726.7 A96.2,35 -176.57 0 1 1586.8,715.2 Z" fill="url(#recside)"/>
<path d="M1589.4,646.3 A97.3,35 2.95 0 0 1783.2,656.3 L1781,687.9 A97,35 -176.58 0 1 1588.3,676.4 Z" fill="url(#barside)"/>
<path d="M1590.1,601.7 A97.7,35 0.00 0 0 1785.5,601.7 L1783.2,656.3 A97.3,35 -177.05 0 1 1589.4,646.3 Z" fill="url(#refside)"/>
<ellipse cx="1687.8" cy="601.4" rx="97.7" ry="34.9" fill="url(#toptop)" stroke="#3ea2d8" stroke-width="1.2"/>
<text font-family="'Liberation Sans'" font-size="27" fill="#000"><textPath href="#refpath" startOffset="50%" text-anchor="middle">Reference</textPath></text>
<text font-family="'Liberation Sans'" font-size="27" fill="#000"><textPath href="#barpath" startOffset="50%" text-anchor="middle">Barrier</textPath></text>
<text font-family="'Liberation Sans'" font-size="27" fill="#000"><textPath href="#recpath" startOffset="50%" text-anchor="middle">Recording</textPath></text>
<polygon points="1366.3,825 1545.6,819 1545.6,830 1510.3,843.6 1370.8,847.3" fill="url(#cyanbar)"/>
<polygon points="1366.3,825 1370.8,847.3 1372,849 1368,827" fill="#8fd6de" opacity="0.8"/>
<g opacity="1.0"><circle cx="1392.5" cy="807.5" r="14.5" fill="url(#redball)"/><circle cx="1386.5" cy="793.0" r="2.6" fill="#e06a64"/><polygon points="1386.5,809.5 1404.5,805.5 1398.5,825.5" fill="#f07a72" opacity="0.85"/></g>
<g opacity="0.82"><circle cx="1442" cy="803" r="14.5" fill="url(#redball)"/><circle cx="1436" cy="788.5" r="2.6" fill="#e06a64"/><polygon points="1436,805 1454,801 1448,821" fill="#f07a72" opacity="0.85"/></g>
<g opacity="0.82"><circle cx="1490" cy="801.5" r="14.5" fill="url(#redball)"/><circle cx="1484" cy="787.0" r="2.6" fill="#e06a64"/><polygon points="1484,803.5 1502,799.5 1496,819.5" fill="#f07a72" opacity="0.85"/></g>
<g opacity="1.0"><circle cx="1394" cy="863" r="14.5" fill="url(#blueball)"/><path d="M1382,855 Q1384,845 1394,845 Q1404,845 1404,855Z" fill="#2a3ae8"/><line x1="1397" y1="867" x2="1402" y2="883" stroke="#5a78f0" stroke-width="3.2" stroke-linecap="round"/></g>
<g opacity="0.85"><circle cx="1442" cy="860" r="14.5" fill="url(#blueball)"/><path d="M1430,852 Q1432,842 1442,842 Q1452,842 1452,852Z" fill="#2a3ae8"/><line x1="1445" y1="864" x2="1450" y2="880" stroke="#5a78f0" stroke-width="3.2" stroke-linecap="round"/></g>
<g opacity="0.85"><circle cx="1490.8" cy="857" r="14.5" fill="url(#blueball)"/><path d="M1478.8,849 Q1480.8,839 1490.8,839 Q1500.8,839 1500.8,849Z" fill="#2a3ae8"/><line x1="1493.8" y1="861" x2="1498.8" y2="877" stroke="#5a78f0" stroke-width="3.2" stroke-linecap="round"/></g>
<polygon points="1517.1,803 1560.6,770.8 1616.2,797.8 1580,822" fill="#8d8780" fill-opacity="0.62"/><circle cx="1517.1" cy="803" r="2.6" fill="#e8e8e8" stroke="#aaa" stroke-width="0.6"/><circle cx="1560.6" cy="770.8" r="2.6" fill="#e8e8e8" stroke="#aaa" stroke-width="0.6"/><circle cx="1616.2" cy="797.8" r="2.6" fill="#e8e8e8" stroke="#aaa" stroke-width="0.6"/><circle cx="1580" cy="822" r="2.6" fill="#e8e8e8" stroke="#aaa" stroke-width="0.6"/>
<ellipse cx="1563.5" cy="797" rx="10" ry="13" fill="#6060c8" fill-opacity="0.55"/><ellipse cx="1563.5" cy="785" rx="4" ry="7" fill="#8888e0" fill-opacity="0.6"/><circle cx="1563.5" cy="797" r="6.5" fill="#2222c0"/>
<polygon points="1535.9,839 1590.6,817.3 1634.9,831.5 1591.4,866" fill="#8d8780" fill-opacity="0.62"/><circle cx="1535.9" cy="839" r="2.6" fill="#e8e8e8" stroke="#aaa" stroke-width="0.6"/><circle cx="1590.6" cy="817.3" r="2.6" fill="#e8e8e8" stroke="#aaa" stroke-width="0.6"/><circle cx="1634.9" cy="831.5" r="2.6" fill="#e8e8e8" stroke="#aaa" stroke-width="0.6"/><circle cx="1591.4" cy="866" r="2.6" fill="#e8e8e8" stroke="#aaa" stroke-width="0.6"/>
<ellipse cx="1581" cy="838" rx="10" ry="13" fill="#6060c8" fill-opacity="0.55"/><ellipse cx="1581" cy="826" rx="4" ry="7" fill="#8888e0" fill-opacity="0.6"/><circle cx="1581" cy="838" r="6.5" fill="#2222c0"/>
<polygon points="1640.5,811.9 1664.1,769 1705.3,807.5 1680.8,852.2" fill="#8d8780" fill-opacity="0.62"/><circle cx="1640.5" cy="811.9" r="2.6" fill="#e8e8e8" stroke="#aaa" stroke-width="0.6"/><circle cx="1664.1" cy="769" r="2.6" fill="#e8e8e8" stroke="#aaa" stroke-width="0.6"/><circle cx="1705.3" cy="807.5" r="2.6" fill="#e8e8e8" stroke="#aaa" stroke-width="0.6"/><circle cx="1680.8" cy="852.2" r="2.6" fill="#e8e8e8" stroke="#aaa" stroke-width="0.6"/>
<ellipse cx="1669" cy="808" rx="9" ry="13" fill="#e04040" fill-opacity="0.5"/><circle cx="1669" cy="806" r="6" fill="#e83030"/><polygon points="1667,812 1677,812 1675,838" fill="#e82020"/>
<polygon points="1707.9,790 1749.1,757.6 1802.5,783 1756.1,802.3" fill="#8d8780" fill-opacity="0.62"/><circle cx="1707.9" cy="790" r="2.6" fill="#e8e8e8" stroke="#aaa" stroke-width="0.6"/><circle cx="1749.1" cy="757.6" r="2.6" fill="#e8e8e8" stroke="#aaa" stroke-width="0.6"/><circle cx="1802.5" cy="783" r="2.6" fill="#e8e8e8" stroke="#aaa" stroke-width="0.6"/><circle cx="1756.1" cy="802.3" r="2.6" fill="#e8e8e8" stroke="#aaa" stroke-width="0.6"/>
<ellipse cx="1754" cy="785" rx="10" ry="13" fill="#6060c8" fill-opacity="0.55"/><ellipse cx="1754" cy="773" rx="4" ry="7" fill="#8888e0" fill-opacity="0.6"/><circle cx="1754" cy="785" r="6.5" fill="#2222c0"/>
<polygon points="1728,824.2 1770,800.5 1820.9,818 1782.3,849.6" fill="#8d8780" fill-opacity="0.62"/><circle cx="1728" cy="824.2" r="2.6" fill="#e8e8e8" stroke="#aaa" stroke-width="0.6"/><circle cx="1770" cy="800.5" r="2.6" fill="#e8e8e8" stroke="#aaa" stroke-width="0.6"/><circle cx="1820.9" cy="818" r="2.6" fill="#e8e8e8" stroke="#aaa" stroke-width="0.6"/><circle cx="1782.3" cy="849.6" r="2.6" fill="#e8e8e8" stroke="#aaa" stroke-width="0.6"/>
<ellipse cx="1774" cy="822" rx="10" ry="13" fill="#6060c8" fill-opacity="0.55"/><ellipse cx="1774" cy="810" rx="4" ry="7" fill="#8888e0" fill-opacity="0.6"/><circle cx="1774" cy="822" r="6.5" fill="#2222c0"/>
<line x1="1816.9" y1="753.8" x2="1813.9" y2="743.8" stroke="#d05a54" stroke-width="2.6"/>
<circle cx="1820.9" cy="763.8" r="12.3" fill="url(#redball)"/>
<polygon points="1813.5,788.3 1820.5,768.3 1826.5,786.3" fill="#3848d0" fill-opacity="0.9"/>
<polygon points="1818.9,773.8 1833.9,775.8 1827.9,797.8" fill="#ec6a60" fill-opacity="0.9"/>
<circle cx="1823.5" cy="802.3" r="12.3" fill="url(#blueball)"/>
<line x1="1825.5" y1="812.3" x2="1828.5" y2="822.3" stroke="#4a60e0" stroke-width="2.6"/>
<line x1="1857.1" y1="745" x2="1854.1" y2="735" stroke="#d05a54" stroke-width="2.6"/>
<circle cx="1861.1" cy="755" r="12.3" fill="url(#redball)"/>
<polygon points="1852.9,792.7 1859.9,772.7 1865.9,790.7" fill="#3848d0" fill-opacity="0.9"/>
<polygon points="1859.1,765 1874.1,767 1868.1,789" fill="#ec6a60" fill-opacity="0.9"/>
<circle cx="1862.9" cy="806.7" r="12.3" fill="url(#blueball)"/>
<line x1="1864.9" y1="816.7" x2="1867.9" y2="826.7" stroke="#4a60e0" stroke-width="2.6"/>
<line x1="1897.4" y1="732.8" x2="1894.4" y2="722.8" stroke="#d05a54" stroke-width="2.6"/>
<circle cx="1901.4" cy="742.8" r="12.3" fill="url(#redball)"/>
<polygon points="1892.3,796.2 1899.3,776.2 1905.3,794.2" fill="#3848d0" fill-opacity="0.9"/>
<polygon points="1899.4,752.8 1914.4,754.8 1908.4,776.8" fill="#ec6a60" fill-opacity="0.9"/>
<circle cx="1902.3" cy="810.2" r="12.3" fill="url(#blueball)"/>
<line x1="1904.3" y1="820.2" x2="1907.3" y2="830.2" stroke="#4a60e0" stroke-width="2.6"/>
<polygon points="1930.3,730.5 1938.5,746 1936.5,746 1936.5,819.8 1921,821 1921,748 1918,748" fill="#9adada" fill-opacity="0.9"/>
<polygon points="1936.5,746 1940,744 1940,818 1936.5,819.8" fill="#78c4c6" fill-opacity="0.9"/>
<circle cx="338.7" cy="80" r="12.4" fill="url(#ruS)"/>
<text transform="translate(364.19,88.56) scale(0.9261,1)" font-family="'Liberation Sans'" font-size="24.37" font-weight="normal" font-style="normal" fill="#111" >Ru</text>
<line x1="163.3" y1="143.7" x2="159.7" y2="324.3" stroke="#8a8a8a" stroke-width="1.2"/>
<line x1="78.4" y1="190.1" x2="163.3" y2="143.7" stroke="#555" stroke-width="1.3"/>
<line x1="324.1" y1="388.4" x2="408.2" y2="344.8" stroke="#555" stroke-width="1.3"/>
<line x1="159.7" y1="324.3" x2="408.2" y2="344.8" stroke="#444" stroke-width="1.4"/>
<rect x="155.8" y="166.0" width="15" height="35.0" fill="url(#gstem)" opacity="0.9"/><ellipse cx="163.3" cy="201.0" rx="7.5" ry="2" fill="#1aa868" opacity="0.9"/>
<rect x="239" y="290" width="7.5" height="16" fill="#a07070"/><polygon points="228.6,305.7 256.3,305.7 242.5,323.7" fill="#a07070"/>
<circle cx="78.4" cy="190.1" r="24.8" fill="url(#ruS)"/>
<circle cx="163.3" cy="143.7" r="24.8" fill="url(#ruS)"/>
<circle cx="243.3" cy="266.5" r="24.8" fill="url(#ruS)"/>
<circle cx="324.1" cy="388.4" r="24.8" fill="url(#ruS)"/>
<circle cx="408.2" cy="344.8" r="24.8" fill="url(#ruS)"/>
<polygon points="47.7,174.5 148.9,122.2 440.9,358.8 338.8,411.1" fill="rgb(252,200,150)" fill-opacity="0.72"/>
<line x1="102.32811463504609" y1="191.95616001791154" x2="303.2718853649539" y2="207.54383998208846" stroke="#111" stroke-width="1.6"/>
<line x1="187.19849518312512" y1="145.90497800037696" x2="387.6015048168749" y2="164.39502199962303" stroke="#111" stroke-width="1.6"/>
<line x1="348.59984481667203" y1="198.53507285701585" x2="390.10015518332796" y2="177.46492714298415" stroke="#111" stroke-width="1.6"/>
<line x1="326.7844198593324" y1="233.39640167080645" x2="324.5155801406676" y2="364.4035983291935" stroke="#111" stroke-width="1.6"/>
<line x1="411.0556317438555" y1="190.59588583180314" x2="408.6443682561445" y2="320.80411416819686" stroke="#111" stroke-width="1.6"/>
<line x1="98.72160157044345" y1="370.1382926262453" x2="300.1783984295566" y2="386.4617073737547" stroke="#111" stroke-width="1.6"/>
<line x1="96.1186365977932" y1="357.1765824894803" x2="138.38136340220677" y2="335.3234175105197" stroke="#111" stroke-width="1.6"/>
<line x1="77.9149783562686" y1="214.09509854126696" x2="75.2850216437314" y2="344.20490145873305" stroke="#111" stroke-width="1.6"/>
<circle cx="78.4" cy="190.1" r="24.8" fill="url(#ruS)" clip-path="url(#cfTFL)"/>
<circle cx="163.3" cy="143.7" r="24.8" fill="url(#ruS)" clip-path="url(#cfTBL)"/>
<circle cx="243.3" cy="266.5" r="24.8" fill="url(#ruS)" clip-path="url(#cfC)"/>
<circle cx="324.1" cy="388.4" r="24.8" fill="url(#ruS)" clip-path="url(#cfBFR)"/>
<circle cx="408.2" cy="344.8" r="24.8" fill="url(#ruS)" clip-path="url(#cfBBR)"/>
<rect x="70.9" y="155.0" width="17" height="15.0" fill="url(#gstem)"/><polygon points="79.4,134.6 95.8,155.0 63.0,155.0" fill="url(#gcone)"/><ellipse cx="79.4" cy="155.0" rx="16.4" ry="2.5" fill="#18b46e"/>
<rect x="69.2" y="208.0" width="17" height="39.6" fill="url(#gstem)" opacity="1"/><ellipse cx="77.7" cy="247.6" rx="8.5" ry="2" fill="#1aa868" opacity="1"/>
<rect x="154.8" y="109.4" width="17" height="14.6" fill="url(#gstem)"/><polygon points="163.3,91.4 181.3,109.4 145.3,109.4" fill="url(#gcone)"/><ellipse cx="163.3" cy="109.4" rx="18.0" ry="2.5" fill="#18b46e"/>
<rect x="318.7" y="174.7" width="17" height="15.3" fill="url(#gstem)"/><polygon points="327.2,155.1 344.2,174.7 310.2,174.7" fill="url(#gcone)"/><ellipse cx="327.2" cy="174.7" rx="17.0" ry="2.5" fill="#18b46e"/>
<rect x="318.1" y="228.0" width="17" height="39.8" fill="url(#gstem)" opacity="1"/><ellipse cx="326.6" cy="267.8" rx="8.5" ry="2" fill="#1aa868" opacity="1"/>
<rect x="404.6" y="129.0" width="17" height="18.0" fill="url(#gstem)"/><polygon points="413.1,109.4 429.5,129.0 396.7,129.0" fill="url(#gcone)"/><ellipse cx="413.1" cy="129.0" rx="16.4" ry="2.5" fill="#18b46e"/>
<rect x="402.5" y="185.0" width="17" height="38.7" fill="url(#gstem)" opacity="1"/><ellipse cx="411.0" cy="223.7" rx="8.5" ry="2" fill="#1aa868" opacity="1"/>
<rect x="151.5" y="290.7" width="17" height="14.3" fill="url(#gstem)"/><polygon points="160.0,269.4 176.4,290.7 143.6,290.7" fill="url(#gcone)"/><ellipse cx="160.0" cy="290.7" rx="16.4" ry="2.5" fill="#18b46e"/>
<rect x="151.5" y="343.0" width="17" height="37.5" fill="url(#gstem)" opacity="1"/><ellipse cx="160.0" cy="380.5" rx="8.5" ry="2" fill="#1aa868" opacity="1"/>
<rect x="67.3" y="338.0" width="17" height="12.0" fill="url(#gstem)"/><polygon points="75.8,313.5 92.2,338.0 59.4,338.0" fill="url(#gcone)"/><ellipse cx="75.8" cy="338.0" rx="16.4" ry="2.5" fill="#18b46e"/>
<rect x="66.0" y="387.0" width="16.5" height="37.6" fill="url(#gstem)" opacity="1"/><ellipse cx="74.3" cy="424.6" rx="8.25" ry="2" fill="#1aa868" opacity="1"/>
<rect x="399.7" y="310.3" width="17" height="14.7" fill="url(#gstem)"/><polygon points="408.2,289.0 424.6,310.3 391.8,310.3" fill="url(#gcone)"/><ellipse cx="408.2" cy="310.3" rx="16.4" ry="2.5" fill="#18b46e"/>
<rect x="399.7" y="364.0" width="17" height="37.7" fill="url(#gstem)" opacity="1"/><ellipse cx="408.2" cy="401.7" rx="8.5" ry="2" fill="#1aa868" opacity="1"/>
<rect x="314.8" y="356.0" width="17" height="14.0" fill="url(#gstem)"/><polygon points="323.3,333.1 339.7,356.0 306.9,356.0" fill="url(#gcone)"/><ellipse cx="323.3" cy="356.0" rx="16.4" ry="2.5" fill="#18b46e"/>
<rect x="314.8" y="407.0" width="17" height="38.8" fill="url(#gstem)" opacity="1"/><ellipse cx="323.3" cy="445.8" rx="8.5" ry="2" fill="#1aa868" opacity="1"/>
<circle cx="327.2" cy="209.4" r="24.8" fill="url(#ruS)"/>
<circle cx="411.5" cy="166.6" r="24.8" fill="url(#ruS)"/>
<circle cx="159.7" cy="324.3" r="24.8" fill="url(#ruS)"/>
<circle cx="74.8" cy="368.2" r="24.8" fill="url(#ruS)"/>
<circle cx="78.4" cy="190.1" r="24.8" fill="url(#ruS)" clip-path="url(#cfTFL)"/>
<circle cx="163.3" cy="143.7" r="24.8" fill="url(#ruS)" clip-path="url(#cfTBL)"/>
<circle cx="243.3" cy="266.5" r="24.8" fill="url(#ruS)" clip-path="url(#cfC)"/>
<circle cx="324.1" cy="388.4" r="24.8" fill="url(#ruS)" clip-path="url(#cfBFR)"/>
<circle cx="408.2" cy="344.8" r="24.8" fill="url(#ruS)" clip-path="url(#cfBBR)"/>
<rect x="238.4" y="212" width="11.4" height="32" fill="url(#bstem)"/><ellipse cx="244.1" cy="212" rx="5.7" ry="2" fill="#3a56f0"/>
<circle cx="243.3" cy="266.5" r="24.8" fill="url(#ruS)" clip-path="url(#cfC)"/>
<polyline points="280,229.8 323.3,266.5 287.4,301.7" fill="none" stroke="#e01010" stroke-width="1.4" stroke-dasharray="2,2"/>
<line x1="243.3" y1="264.5" x2="313.7" y2="266.3" stroke="#ee0000" stroke-width="3" /><polygon points="323.3,266.5 311.2,271.2 311.4,261.2" fill="#ee0000"/>
<line x1="243.3" y1="264.5" x2="273.6" y2="235.8" stroke="#ff20ff" stroke-width="3" /><polygon points="280.0,229.8 275.1,240.6 268.9,234.1" fill="#ff20ff"/>
<line x1="243.3" y1="264.5" x2="280.7" y2="296.0" stroke="#4a9ae0" stroke-width="3" /><polygon points="287.4,301.7 276.1,298.0 281.9,291.2" fill="#4a9ae0"/>
<text transform="translate(333.00,289.67) scale(0.9623,1)" font-family="'Liberation Serif'" font-size="33.33" font-weight="bold" font-style="italic" fill="#ee0000" >J</text>
<text transform="translate(347.29,296.73) scale(0.8688,1)" font-family="'Liberation Serif'" font-size="27.08" font-weight="bold" font-style="normal" fill="#ee0000" >s</text>
<text transform="translate(251.40,224.19) scale(0.8869,1)" font-family="'Liberation Serif'" font-size="31.06" font-weight="bold" font-style="italic" fill="#ff20ff" >J</text>
<text transform="translate(264.00,229.23) scale(1.0256,1)" font-family="'Liberation Serif'" font-size="27.08" font-weight="bold" font-style="italic" fill="#ff20ff" >s</text>
<text x="265.71" y="212.00" font-family="'DejaVu Sans'" font-size="14.29" font-weight="normal" font-style="normal" fill="#ff20ff" >&#8869;</text>
<text transform="translate(256.30,326.71) scale(0.9635,1)" font-family="'Liberation Serif'" font-size="28.79" font-weight="bold" font-style="italic" fill="#4a9ae0" >J</text>
<text x="269.00" y="332.44" font-family="'Liberation Serif'" font-size="26.46" font-weight="bold" font-style="italic" fill="#4a9ae0" >s</text>
<text transform="translate(270.83,314.36) scale(1.5152,1)" font-family="'DejaVu Sans'" font-size="11.00" font-weight="normal" font-style="normal" fill="#4a9ae0" >||</text>
<text transform="translate(36.92,162.97) scale(0.9734,1)" font-family="'Liberation Serif'" font-size="32.58" font-weight="bold" font-style="italic" fill="#1aa060" >N</text>
<g transform="translate(192,233.5) rotate(50)"><text transform="translate(-23.88,4.27) scale(1.2440,1)" font-family="'Liberation Serif'" font-size="17.78" font-weight="bold" font-style="normal" fill="#d0641e" >(101)</text></g>
<line x1="76.1" y1="367.6" x2="76.1" y2="306.6" stroke="#ee0000" stroke-width="2" /><polygon points="76.1,299.4 80.1,308.4 72.1,308.4" fill="#ee0000"/>
<line x1="76.1" y1="367.6" x2="118.7" y2="344.4" stroke="#ee0000" stroke-width="2" /><polygon points="125.0,341.0 119.0,348.8 115.2,341.8" fill="#ee0000"/>
<line x1="125.0" y1="341.0" x2="143.1" y2="330.9" stroke="#ffee00" stroke-width="2" /><polygon points="149.4,327.4 143.5,335.3 139.6,328.3" fill="#ffee00"/>
<line x1="76.1" y1="367.6" x2="134.3" y2="372.8" stroke="#ee0000" stroke-width="2" /><polygon points="141.5,373.4 132.2,376.6 132.9,368.6" fill="#ee0000"/>
<g transform="translate(53.00,326.00) rotate(-90)"><text transform="translate(-0.50,7.90) scale(1.4561,1)" font-family="'Liberation Serif'" font-size="11.45" font-weight="bold" font-style="normal" fill="#ee0000" >c [001]</text></g>
<text transform="translate(91.84,324.97) scale(0.9614,1)" font-family="'Liberation Serif'" font-size="16.19" font-weight="bold" font-style="normal" fill="#ee0000" >b [010],</text>
<text transform="translate(148.25,324.50) scale(0.8923,1)" font-family="'Liberation Serif'" font-size="28.46" font-weight="bold" font-style="italic" fill="#ffee00" >E</text>
<text x="98.46" y="398.15" font-family="'Liberation Serif'" font-size="18.19" font-weight="bold" font-style="normal" fill="#ee0000" >a [100]</text>
<g transform="translate(6.50,318.40) rotate(-90)"><text x="-0.95" y="19.26" font-family="'Liberation Serif'" font-size="23.78" font-weight="normal" font-style="normal" fill="#222" >c = 3.12 &#197;</text></g>
<text transform="translate(115.27,442.28) scale(1.1061,1)" font-family="'Liberation Serif'" font-size="21.95" font-weight="normal" font-style="normal" fill="#222" >a = b = 4.594 &#197;</text>
<line x1="19.4" y1="478" x2="19.4" y2="425" stroke="#1a1ad8" stroke-width="5.7"/><polygon points="19.4,400.7 8.6,428 30.2,428" fill="#1a1ad8"/>
<line x1="18.7" y1="484" x2="72" y2="487.8" stroke="#e01818" stroke-width="5.5"/><polygon points="97.7,489.8 69,478.5 68,498" fill="#e01818"/>
<circle cx="36.6" cy="472.5" r="9.3" fill="#22cc22"/><line x1="30" y1="479" x2="38" y2="474" stroke="#128a12" stroke-width="3"/>
<circle cx="17.2" cy="482.6" r="9.3" fill="url(#greyb)"/>
<text transform="translate(17.48,386.85) scale(0.8980,1)" font-family="'Liberation Sans'" font-size="14.55" font-weight="bold" font-style="normal" fill="#111" >c</text>
<text transform="translate(47.08,469.60) scale(1.3567,1)" font-family="'Liberation Sans'" font-size="9.73" font-weight="bold" font-style="normal" fill="#111" >b</text>
<text transform="translate(111.60,495.36) scale(0.9195,1)" font-family="'Liberation Sans'" font-size="14.36" font-weight="bold" font-style="normal" fill="#111" >a</text>
<text transform="translate(535.53,155.08) scale(1.0449,1)" font-family="'Liberation Serif'" font-size="22.43" font-weight="bold" font-style="normal" fill="#111" >Front view</text>
<rect x="475.3" y="173.3" width="246.9" height="218.1" fill="none" stroke="#111" stroke-width="2.2"/>
<line x1="475.3" y1="175.8" x2="721.2" y2="392.4" stroke="#e07020" stroke-width="2.4"/>
<line x1="476.3" y1="390.4" x2="718.3" y2="175.8" stroke="#111" stroke-width="2.4"/>
<polyline points="702.6,178.8 718.3,175.8 713.4,189.6" fill="none" stroke="#111" stroke-width="2.4"/>
<line x1="596.8" y1="281.7" x2="667.3" y2="345.4" stroke="#111" stroke-width="2.4"/>
<polyline points="652.5,341.5 667.3,345.4 662.2,331.5" fill="none" stroke="#111" stroke-width="2.4"/>
<polyline points="627.1,255.2 664.4,286.6 634,315" fill="none" stroke="#e01010" stroke-width="1.2" stroke-dasharray="1.6,1.6"/>
<line x1="596.8" y1="281.7" x2="596.8" y2="352" stroke="#3cc040" stroke-width="1.8"/><polygon points="596.8,360 592.5,349 601.1,349" fill="#3cc040"/>
<line x1="596.8" y1="281.7" x2="621.7" y2="259.9" stroke="#ff20ff" stroke-width="2.2" /><polygon points="627.1,255.2 622.6,263.8 618.0,258.5" fill="#ff20ff"/>
<line x1="596.8" y1="281.7" x2="657.2" y2="286.1" stroke="#ee0000" stroke-width="2" /><polygon points="664.4,286.6 655.2,289.4 655.7,282.5" fill="#ee0000"/>
<line x1="596.8" y1="281.7" x2="628.6" y2="310.2" stroke="#4a9ae0" stroke-width="2.6" /><polygon points="634.0,315.0 625.0,311.6 629.6,306.4" fill="#4a9ae0"/>
<circle cx="596.8" cy="281.7" r="3.8" fill="none" stroke="#111" stroke-width="1.8"/><circle cx="596.8" cy="281.7" r="1.2" fill="#111"/>
<path d="M575.2,302.2 Q585,312 594.8,308.1" fill="none" stroke="#1a1ae0" stroke-width="1.6"/>
<text transform="translate(568.01,332.42) scale(1.4376,1)" font-family="'Liberation Serif'" font-size="17.89" font-weight="normal" font-style="italic" fill="#1a1ae0" >&#952;</text>
<text transform="translate(599.97,374.45) scale(1.0777,1)" font-family="'Liberation Serif'" font-size="25.15" font-weight="bold" font-style="italic" fill="#2a9a3a" >N</text>
<text transform="translate(633.60,197.33) scale(0.9544,1)" font-family="'Liberation Serif'" font-size="21.20" font-weight="bold" font-style="normal" fill="#111" >z[101]</text>
<text transform="translate(529.92,286.84) scale(1.0331,1)" font-family="'Liberation Serif'" font-size="17.44" font-weight="bold" font-style="normal" fill="#111" >y [010]</text>
<g transform="translate(543.4,213.5) rotate(41)"><text transform="translate(-22.85,4.00) scale(1.2692,1)" font-family="'Liberation Serif'" font-size="16.67" font-weight="normal" font-style="normal" fill="#d0641e" >(101)</text></g>
<g transform="translate(654,365) rotate(45)"><text transform="translate(-24.00,5.13) scale(0.9048,1)" font-family="'Liberation Serif'" font-size="20.48" font-weight="bold" font-style="normal" fill="#111" >x[101&#772;]</text></g>
<text transform="translate(599.70,253.04) scale(1.0293,1)" font-family="'Liberation Serif'" font-size="26.21" font-weight="bold" font-style="italic" fill="#ff20ff" >J</text>
<text transform="translate(611.50,254.32) scale(1.3333,1)" font-family="'Liberation Serif'" font-size="17.71" font-weight="bold" font-style="italic" fill="#ff20ff" >s</text>
<text transform="translate(612.95,241.00) scale(1.1233,1)" font-family="'DejaVu Sans'" font-size="10.43" font-weight="normal" font-style="normal" fill="#ff20ff" >&#8869;</text>
<text transform="translate(606.60,338.23) scale(0.8112,1)" font-family="'Liberation Serif'" font-size="26.52" font-weight="bold" font-style="italic" fill="#4a9ae0" >J</text>
<text transform="translate(616.00,338.83) scale(1.3333,1)" font-family="'Liberation Serif'" font-size="16.67" font-weight="bold" font-style="italic" fill="#4a9ae0" >s</text>
<text transform="translate(617.74,325.06) scale(1.6755,1)" font-family="'DejaVu Sans'" font-size="8.10" font-weight="normal" font-style="normal" fill="#4a9ae0" >||</text>
<text transform="translate(668.30,290.20) scale(0.8704,1)" font-family="'Liberation Serif'" font-size="29.70" font-weight="bold" font-style="italic" fill="#ee0000" >J</text>
<text transform="translate(679.21,297.04) scale(1.0215,1)" font-family="'Liberation Serif'" font-size="25.63" font-weight="bold" font-style="normal" fill="#ee0000" >s</text>
<path d="M667,297.5 q1.5,-1.5 3,0 t3,0 t3,0 t3,0 t3,0 t3,0 t3,0" fill="none" stroke="#e01010" stroke-width="0.8"/>
<circle cx="475.3" cy="389.4" r="5" fill="none" stroke="#ee0000" stroke-width="1.8"/><circle cx="475.3" cy="389.4" r="1.2" fill="#ee0000"/>
<line x1="475.3" y1="384.4" x2="475.3" y2="334.1" stroke="#ee0000" stroke-width="1.8" /><polygon points="475.3,327.7 478.8,335.7 471.8,335.7" fill="#ee0000"/>
<line x1="480.3" y1="390.4" x2="536.5" y2="390.4" stroke="#ee0000" stroke-width="1.8" /><polygon points="542.9,390.4 534.9,393.9 534.9,386.9" fill="#ee0000"/>
<g transform="translate(452.70,362.00) rotate(-90)"><text transform="translate(-0.48,9.81) scale(1.1239,1)" font-family="'Liberation Serif'" font-size="14.22" font-weight="bold" font-style="normal" fill="#ee0000" >c [001]</text></g>
<text transform="translate(445.74,410.71) scale(1.0545,1)" font-family="'Liberation Serif'" font-size="15.24" font-weight="bold" font-style="normal" fill="#ee0000" >b [010],</text>
<text transform="translate(499.20,411.50) scale(1.1413,1)" font-family="'Liberation Serif'" font-size="17.38" font-weight="bold" font-style="italic" fill="#ee0000" >E</text>
<text transform="translate(539.52,409.84) scale(1.0384,1)" font-family="'Liberation Serif'" font-size="15.42" font-weight="bold" font-style="normal" fill="#ee0000" >a [100]</text>
</svg></body></html>
